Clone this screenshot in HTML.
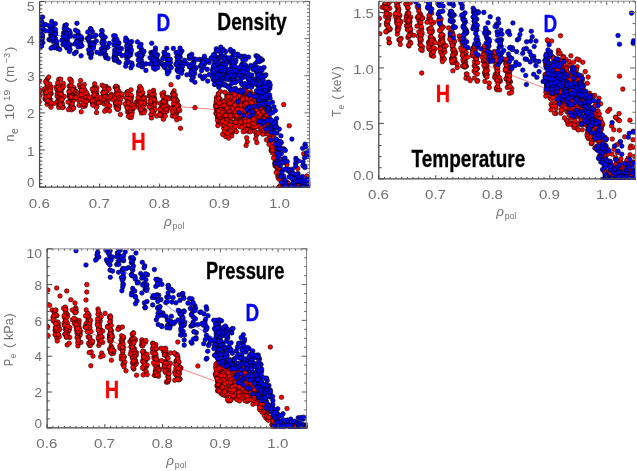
<!DOCTYPE html>
<html><head><meta charset="utf-8"><title>Profiles</title><style>html,body{margin:0;padding:0;background:#fff}
body{width:637px;height:471px;overflow:hidden;font-family:"Liberation Sans",sans-serif}
svg{display:block;will-change:transform}
text{font-family:"Liberation Sans",sans-serif}
.tk{font-size:13.5px;fill:#707070}
.bd{font-size:24px;font-weight:bold;fill:#000;stroke:#000;stroke-width:0.3px}
.bl{fill:#0000ff;stroke:#0000ff}
.rd{fill:#ff0000;stroke:#ff0000}
.r circle{fill:#ff0000;stroke:#000;stroke-width:0.55}
.b circle{fill:#0000ff;stroke:#000;stroke-width:0.55}
</style></head><body><svg width="637" height="471" viewBox="0 0 637 471">
<rect width="637" height="471" fill="#fff"/>
<clipPath id="c1"><rect x="39.60" y="1.50" width="270.60" height="186.20"/></clipPath>
<g clip-path="url(#c1)">
<path d="M39.6 92.1L177.6 106.5L219.7 109.9L249.7 112.9" stroke="#ff3030" stroke-width="0.8" fill="none" opacity="0.75"/>
<g class="r"><circle cx="151.1" cy="99.3" r="2.3"/><circle cx="244.3" cy="95.9" r="2.3"/><circle cx="149.0" cy="95.9" r="2.3"/><circle cx="76.1" cy="91.5" r="2.3"/><circle cx="163.6" cy="96.5" r="2.3"/><circle cx="231.9" cy="98.1" r="2.3"/><circle cx="265.7" cy="122.6" r="2.3"/><circle cx="106.3" cy="97.2" r="2.3"/><circle cx="258.7" cy="114.3" r="2.3"/><circle cx="277.2" cy="163.6" r="2.3"/><circle cx="230.8" cy="89.6" r="2.3"/><circle cx="80.4" cy="86.8" r="2.3"/><circle cx="152.3" cy="95.7" r="2.3"/><circle cx="234.8" cy="115.1" r="2.3"/><circle cx="218.3" cy="106.6" r="2.3"/><circle cx="269.5" cy="133.0" r="2.3"/><circle cx="70.7" cy="85.5" r="2.3"/><circle cx="100.9" cy="102.5" r="2.3"/><circle cx="92.3" cy="102.4" r="2.3"/><circle cx="225.6" cy="114.7" r="2.3"/><circle cx="174.7" cy="111.8" r="2.3"/><circle cx="233.9" cy="122.4" r="2.3"/><circle cx="59.6" cy="96.3" r="2.3"/><circle cx="271.3" cy="150.2" r="2.3"/><circle cx="57.9" cy="93.6" r="2.3"/><circle cx="234.7" cy="111.9" r="2.3"/><circle cx="107.5" cy="96.8" r="2.3"/><circle cx="173.6" cy="107.0" r="2.3"/><circle cx="61.0" cy="100.8" r="2.3"/><circle cx="80.6" cy="80.5" r="2.3"/><circle cx="236.5" cy="103.3" r="2.3"/><circle cx="115.7" cy="102.2" r="2.3"/><circle cx="81.5" cy="95.0" r="2.3"/><circle cx="260.7" cy="109.1" r="2.3"/><circle cx="152.4" cy="110.7" r="2.3"/><circle cx="103.3" cy="98.5" r="2.3"/><circle cx="269.0" cy="133.7" r="2.3"/><circle cx="87.7" cy="95.1" r="2.3"/><circle cx="278.8" cy="175.8" r="2.3"/><circle cx="70.6" cy="106.6" r="2.3"/><circle cx="249.6" cy="120.8" r="2.3"/><circle cx="178.8" cy="105.8" r="2.3"/><circle cx="173.2" cy="96.2" r="2.3"/><circle cx="246.2" cy="106.7" r="2.3"/><circle cx="45.6" cy="91.5" r="2.3"/><circle cx="307.7" cy="185.9" r="2.3"/><circle cx="234.6" cy="103.1" r="2.3"/><circle cx="140.3" cy="88.7" r="2.3"/><circle cx="60.2" cy="101.0" r="2.3"/><circle cx="48.0" cy="90.2" r="2.3"/><circle cx="120.8" cy="93.8" r="2.3"/><circle cx="247.8" cy="113.6" r="2.3"/><circle cx="250.3" cy="123.9" r="2.3"/><circle cx="150.7" cy="107.7" r="2.3"/><circle cx="138.6" cy="106.1" r="2.3"/><circle cx="57.8" cy="90.3" r="2.3"/><circle cx="62.5" cy="85.9" r="2.3"/><circle cx="259.4" cy="118.2" r="2.3"/><circle cx="153.3" cy="105.7" r="2.3"/><circle cx="151.5" cy="117.9" r="2.3"/><circle cx="58.8" cy="79.3" r="2.3"/><circle cx="225.8" cy="109.9" r="2.3"/><circle cx="144.6" cy="104.0" r="2.3"/><circle cx="224.0" cy="115.5" r="2.3"/><circle cx="129.1" cy="101.2" r="2.3"/><circle cx="152.5" cy="100.2" r="2.3"/><circle cx="246.3" cy="119.2" r="2.3"/><circle cx="248.7" cy="131.5" r="2.3"/><circle cx="253.4" cy="122.4" r="2.3"/><circle cx="195.0" cy="107.6" r="2.3"/><circle cx="236.5" cy="117.9" r="2.3"/><circle cx="174.9" cy="105.3" r="2.3"/><circle cx="237.0" cy="90.9" r="2.3"/><circle cx="223.8" cy="128.2" r="2.3"/><circle cx="219.3" cy="107.6" r="2.3"/><circle cx="176.8" cy="106.3" r="2.3"/><circle cx="81.0" cy="95.2" r="2.3"/><circle cx="273.7" cy="139.4" r="2.3"/><circle cx="74.8" cy="93.2" r="2.3"/><circle cx="222.3" cy="103.7" r="2.3"/><circle cx="216.4" cy="109.1" r="2.3"/><circle cx="256.1" cy="108.7" r="2.3"/><circle cx="236.5" cy="114.7" r="2.3"/><circle cx="164.7" cy="104.5" r="2.3"/><circle cx="45.1" cy="90.1" r="2.3"/><circle cx="56.3" cy="86.8" r="2.3"/><circle cx="229.0" cy="96.0" r="2.3"/><circle cx="273.8" cy="139.1" r="2.3"/><circle cx="262.9" cy="117.7" r="2.3"/><circle cx="233.0" cy="98.6" r="2.3"/><circle cx="244.2" cy="115.0" r="2.3"/><circle cx="243.7" cy="110.8" r="2.3"/><circle cx="175.4" cy="106.6" r="2.3"/><circle cx="222.5" cy="120.2" r="2.3"/><circle cx="107.1" cy="109.5" r="2.3"/><circle cx="139.7" cy="87.2" r="2.3"/><circle cx="224.5" cy="109.3" r="2.3"/><circle cx="130.1" cy="97.5" r="2.3"/><circle cx="105.6" cy="99.4" r="2.3"/><circle cx="116.6" cy="97.8" r="2.3"/><circle cx="232.6" cy="132.2" r="2.3"/><circle cx="277.2" cy="153.4" r="2.3"/><circle cx="107.1" cy="102.7" r="2.3"/><circle cx="96.9" cy="99.1" r="2.3"/><circle cx="217.7" cy="113.3" r="2.3"/><circle cx="220.1" cy="113.3" r="2.3"/><circle cx="230.1" cy="101.5" r="2.3"/><circle cx="131.6" cy="110.1" r="2.3"/><circle cx="82.2" cy="97.5" r="2.3"/><circle cx="142.6" cy="93.2" r="2.3"/><circle cx="70.7" cy="80.1" r="2.3"/><circle cx="151.7" cy="104.0" r="2.3"/><circle cx="139.1" cy="103.0" r="2.3"/><circle cx="286.9" cy="164.8" r="2.3"/><circle cx="224.9" cy="114.7" r="2.3"/><circle cx="248.8" cy="116.4" r="2.3"/><circle cx="256.7" cy="134.0" r="2.3"/><circle cx="215.9" cy="104.5" r="2.3"/><circle cx="117.6" cy="87.1" r="2.3"/><circle cx="235.4" cy="97.9" r="2.3"/><circle cx="244.5" cy="128.6" r="2.3"/><circle cx="176.2" cy="102.9" r="2.3"/><circle cx="139.0" cy="91.6" r="2.3"/><circle cx="225.5" cy="102.5" r="2.3"/><circle cx="176.7" cy="119.8" r="2.3"/><circle cx="151.3" cy="95.0" r="2.3"/><circle cx="46.0" cy="92.0" r="2.3"/><circle cx="244.9" cy="116.3" r="2.3"/><circle cx="59.1" cy="94.0" r="2.3"/><circle cx="253.3" cy="103.0" r="2.3"/><circle cx="132.5" cy="104.9" r="2.3"/><circle cx="131.1" cy="96.9" r="2.3"/><circle cx="82.2" cy="86.9" r="2.3"/><circle cx="164.6" cy="112.0" r="2.3"/><circle cx="151.8" cy="101.0" r="2.3"/><circle cx="128.9" cy="108.0" r="2.3"/><circle cx="218.1" cy="100.6" r="2.3"/><circle cx="48.5" cy="91.5" r="2.3"/><circle cx="229.3" cy="97.7" r="2.3"/><circle cx="116.1" cy="106.5" r="2.3"/><circle cx="163.7" cy="107.1" r="2.3"/><circle cx="241.2" cy="108.8" r="2.3"/><circle cx="231.7" cy="135.9" r="2.3"/><circle cx="252.5" cy="104.6" r="2.3"/><circle cx="227.4" cy="122.5" r="2.3"/><circle cx="225.7" cy="136.6" r="2.3"/><circle cx="139.0" cy="91.6" r="2.3"/><circle cx="299.0" cy="182.7" r="2.3"/><circle cx="151.9" cy="107.5" r="2.3"/><circle cx="251.6" cy="116.5" r="2.3"/><circle cx="131.8" cy="105.3" r="2.3"/><circle cx="224.0" cy="112.6" r="2.3"/><circle cx="80.7" cy="96.1" r="2.3"/><circle cx="238.6" cy="124.4" r="2.3"/><circle cx="262.4" cy="114.0" r="2.3"/><circle cx="248.8" cy="113.7" r="2.3"/><circle cx="265.7" cy="133.8" r="2.3"/><circle cx="225.8" cy="120.3" r="2.3"/><circle cx="163.9" cy="103.2" r="2.3"/><circle cx="118.4" cy="97.8" r="2.3"/><circle cx="78.2" cy="96.9" r="2.3"/><circle cx="165.3" cy="107.9" r="2.3"/><circle cx="258.0" cy="125.6" r="2.3"/><circle cx="226.4" cy="104.8" r="2.3"/><circle cx="223.7" cy="110.9" r="2.3"/><circle cx="243.1" cy="120.7" r="2.3"/><circle cx="238.5" cy="104.8" r="2.3"/><circle cx="259.4" cy="113.7" r="2.3"/><circle cx="226.1" cy="104.6" r="2.3"/><circle cx="218.5" cy="104.3" r="2.3"/><circle cx="87.6" cy="100.2" r="2.3"/><circle cx="264.3" cy="117.1" r="2.3"/><circle cx="62.2" cy="88.8" r="2.3"/><circle cx="216.1" cy="113.3" r="2.3"/><circle cx="45.0" cy="99.0" r="2.3"/><circle cx="278.9" cy="177.9" r="2.3"/><circle cx="70.6" cy="79.7" r="2.3"/><circle cx="154.7" cy="102.8" r="2.3"/><circle cx="130.0" cy="101.6" r="2.3"/><circle cx="60.6" cy="106.4" r="2.3"/><circle cx="84.3" cy="84.5" r="2.3"/><circle cx="142.0" cy="103.2" r="2.3"/><circle cx="47.2" cy="91.6" r="2.3"/><circle cx="85.0" cy="106.1" r="2.3"/><circle cx="139.2" cy="106.8" r="2.3"/><circle cx="272.2" cy="138.3" r="2.3"/><circle cx="255.1" cy="116.7" r="2.3"/><circle cx="245.7" cy="118.4" r="2.3"/><circle cx="53.6" cy="103.6" r="2.3"/><circle cx="259.8" cy="102.3" r="2.3"/><circle cx="167.9" cy="97.3" r="2.3"/><circle cx="56.6" cy="88.7" r="2.3"/><circle cx="166.3" cy="99.0" r="2.3"/><circle cx="253.4" cy="124.0" r="2.3"/><circle cx="224.8" cy="122.8" r="2.3"/><circle cx="69.5" cy="95.3" r="2.3"/><circle cx="256.1" cy="109.4" r="2.3"/><circle cx="128.2" cy="102.0" r="2.3"/><circle cx="105.9" cy="100.0" r="2.3"/><circle cx="274.5" cy="151.2" r="2.3"/><circle cx="264.5" cy="124.6" r="2.3"/><circle cx="96.5" cy="94.8" r="2.3"/><circle cx="47.7" cy="86.2" r="2.3"/><circle cx="106.8" cy="90.7" r="2.3"/><circle cx="251.9" cy="118.1" r="2.3"/><circle cx="129.7" cy="103.0" r="2.3"/><circle cx="277.7" cy="162.9" r="2.3"/><circle cx="227.1" cy="113.1" r="2.3"/><circle cx="275.6" cy="161.6" r="2.3"/><circle cx="140.7" cy="100.1" r="2.3"/><circle cx="269.2" cy="132.9" r="2.3"/><circle cx="227.4" cy="102.2" r="2.3"/><circle cx="239.4" cy="96.3" r="2.3"/><circle cx="274.8" cy="163.1" r="2.3"/><circle cx="70.6" cy="89.8" r="2.3"/><circle cx="140.4" cy="104.3" r="2.3"/><circle cx="128.9" cy="100.0" r="2.3"/><circle cx="238.1" cy="105.8" r="2.3"/><circle cx="59.1" cy="85.0" r="2.3"/><circle cx="137.5" cy="103.9" r="2.3"/><circle cx="131.3" cy="96.8" r="2.3"/><circle cx="275.2" cy="150.1" r="2.3"/><circle cx="251.1" cy="129.9" r="2.3"/><circle cx="173.7" cy="109.9" r="2.3"/><circle cx="173.1" cy="109.6" r="2.3"/><circle cx="238.4" cy="91.9" r="2.3"/><circle cx="275.8" cy="155.0" r="2.3"/><circle cx="279.1" cy="166.9" r="2.3"/><circle cx="81.0" cy="92.7" r="2.3"/><circle cx="258.7" cy="109.9" r="2.3"/><circle cx="255.6" cy="122.5" r="2.3"/><circle cx="231.5" cy="95.7" r="2.3"/><circle cx="259.9" cy="109.7" r="2.3"/><circle cx="47.3" cy="79.1" r="2.3"/><circle cx="118.1" cy="95.0" r="2.3"/><circle cx="242.5" cy="115.6" r="2.3"/><circle cx="71.4" cy="91.4" r="2.3"/><circle cx="230.1" cy="100.2" r="2.3"/><circle cx="275.1" cy="165.9" r="2.3"/><circle cx="46.4" cy="97.0" r="2.3"/><circle cx="278.1" cy="169.9" r="2.3"/><circle cx="237.2" cy="111.1" r="2.3"/><circle cx="241.2" cy="119.5" r="2.3"/><circle cx="164.1" cy="104.3" r="2.3"/><circle cx="57.9" cy="91.3" r="2.3"/><circle cx="216.2" cy="107.5" r="2.3"/><circle cx="95.2" cy="96.9" r="2.3"/><circle cx="240.5" cy="90.1" r="2.3"/><circle cx="256.0" cy="117.5" r="2.3"/><circle cx="118.2" cy="106.7" r="2.3"/><circle cx="84.3" cy="94.0" r="2.3"/><circle cx="51.2" cy="93.5" r="2.3"/><circle cx="58.4" cy="104.9" r="2.3"/><circle cx="164.7" cy="103.6" r="2.3"/><circle cx="144.8" cy="110.5" r="2.3"/><circle cx="225.3" cy="117.8" r="2.3"/><circle cx="262.7" cy="118.7" r="2.3"/><circle cx="172.9" cy="97.6" r="2.3"/><circle cx="119.5" cy="103.0" r="2.3"/><circle cx="151.4" cy="100.1" r="2.3"/><circle cx="258.8" cy="120.7" r="2.3"/><circle cx="133.0" cy="109.1" r="2.3"/><circle cx="268.5" cy="126.8" r="2.3"/><circle cx="111.2" cy="94.4" r="2.3"/><circle cx="81.3" cy="94.9" r="2.3"/><circle cx="166.0" cy="107.1" r="2.3"/><circle cx="240.0" cy="94.6" r="2.3"/><circle cx="155.2" cy="102.3" r="2.3"/><circle cx="93.8" cy="97.6" r="2.3"/><circle cx="306.7" cy="176.0" r="2.3"/><circle cx="229.0" cy="116.9" r="2.3"/><circle cx="235.3" cy="111.1" r="2.3"/><circle cx="174.1" cy="90.8" r="2.3"/><circle cx="162.3" cy="115.4" r="2.3"/><circle cx="246.6" cy="97.6" r="2.3"/><circle cx="245.5" cy="110.3" r="2.3"/><circle cx="259.2" cy="109.2" r="2.3"/><circle cx="163.8" cy="92.5" r="2.3"/><circle cx="127.5" cy="111.9" r="2.3"/><circle cx="38.9" cy="89.9" r="2.3"/><circle cx="94.9" cy="94.5" r="2.3"/><circle cx="270.0" cy="144.2" r="2.3"/><circle cx="238.2" cy="97.2" r="2.3"/><circle cx="50.5" cy="99.8" r="2.3"/><circle cx="93.8" cy="102.8" r="2.3"/><circle cx="261.1" cy="109.3" r="2.3"/><circle cx="164.1" cy="110.8" r="2.3"/><circle cx="69.2" cy="86.1" r="2.3"/><circle cx="72.7" cy="100.4" r="2.3"/><circle cx="49.3" cy="89.4" r="2.3"/><circle cx="229.9" cy="120.6" r="2.3"/><circle cx="94.5" cy="87.2" r="2.3"/><circle cx="83.5" cy="95.8" r="2.3"/><circle cx="128.5" cy="102.8" r="2.3"/><circle cx="269.9" cy="142.6" r="2.3"/><circle cx="83.5" cy="99.2" r="2.3"/><circle cx="132.1" cy="112.3" r="2.3"/><circle cx="140.5" cy="109.9" r="2.3"/><circle cx="256.7" cy="120.7" r="2.3"/><circle cx="139.1" cy="91.1" r="2.3"/><circle cx="104.2" cy="97.7" r="2.3"/><circle cx="39.3" cy="91.3" r="2.3"/><circle cx="268.3" cy="131.7" r="2.3"/><circle cx="97.4" cy="101.6" r="2.3"/><circle cx="241.8" cy="125.5" r="2.3"/><circle cx="82.4" cy="88.1" r="2.3"/><circle cx="50.8" cy="89.8" r="2.3"/><circle cx="256.3" cy="103.0" r="2.3"/><circle cx="259.1" cy="127.1" r="2.3"/><circle cx="128.6" cy="111.4" r="2.3"/><circle cx="49.0" cy="103.6" r="2.3"/><circle cx="234.2" cy="92.2" r="2.3"/><circle cx="140.7" cy="96.3" r="2.3"/><circle cx="254.9" cy="121.3" r="2.3"/><circle cx="154.0" cy="110.9" r="2.3"/><circle cx="217.9" cy="106.2" r="2.3"/><circle cx="244.9" cy="131.3" r="2.3"/><circle cx="260.5" cy="102.7" r="2.3"/><circle cx="247.7" cy="129.4" r="2.3"/><circle cx="130.5" cy="104.2" r="2.3"/><circle cx="297.7" cy="168.5" r="2.3"/><circle cx="263.5" cy="104.4" r="2.3"/><circle cx="258.9" cy="119.7" r="2.3"/><circle cx="61.1" cy="102.0" r="2.3"/><circle cx="217.9" cy="106.1" r="2.3"/><circle cx="247.9" cy="120.3" r="2.3"/><circle cx="222.3" cy="108.6" r="2.3"/><circle cx="233.7" cy="124.8" r="2.3"/><circle cx="237.4" cy="109.2" r="2.3"/><circle cx="302.1" cy="184.1" r="2.3"/><circle cx="60.6" cy="79.1" r="2.3"/><circle cx="256.2" cy="106.3" r="2.3"/><circle cx="144.8" cy="103.3" r="2.3"/><circle cx="275.1" cy="164.2" r="2.3"/><circle cx="59.8" cy="101.5" r="2.3"/><circle cx="60.5" cy="101.6" r="2.3"/><circle cx="141.4" cy="99.1" r="2.3"/><circle cx="81.9" cy="87.9" r="2.3"/><circle cx="218.6" cy="123.3" r="2.3"/><circle cx="259.0" cy="125.7" r="2.3"/><circle cx="93.3" cy="102.6" r="2.3"/><circle cx="262.0" cy="102.6" r="2.3"/><circle cx="237.1" cy="120.0" r="2.3"/><circle cx="38.6" cy="94.6" r="2.3"/><circle cx="81.5" cy="94.4" r="2.3"/><circle cx="130.2" cy="110.8" r="2.3"/><circle cx="48.5" cy="100.0" r="2.3"/><circle cx="133.7" cy="105.3" r="2.3"/><circle cx="234.1" cy="115.6" r="2.3"/><circle cx="104.5" cy="102.4" r="2.3"/><circle cx="57.9" cy="95.3" r="2.3"/><circle cx="230.8" cy="102.4" r="2.3"/><circle cx="217.6" cy="117.5" r="2.3"/><circle cx="276.9" cy="149.6" r="2.3"/><circle cx="176.4" cy="115.4" r="2.3"/><circle cx="128.6" cy="98.0" r="2.3"/><circle cx="106.2" cy="96.4" r="2.3"/><circle cx="51.1" cy="86.8" r="2.3"/><circle cx="264.5" cy="119.6" r="2.3"/><circle cx="221.8" cy="111.5" r="2.3"/><circle cx="58.4" cy="92.9" r="2.3"/><circle cx="222.5" cy="118.2" r="2.3"/><circle cx="174.5" cy="111.8" r="2.3"/><circle cx="167.9" cy="106.7" r="2.3"/><circle cx="291.7" cy="174.1" r="2.3"/><circle cx="46.8" cy="88.1" r="2.3"/><circle cx="129.9" cy="107.1" r="2.3"/><circle cx="102.2" cy="85.2" r="2.3"/><circle cx="269.2" cy="137.9" r="2.3"/><circle cx="133.5" cy="107.5" r="2.3"/><circle cx="235.2" cy="109.8" r="2.3"/><circle cx="261.0" cy="113.1" r="2.3"/><circle cx="70.7" cy="101.3" r="2.3"/><circle cx="270.2" cy="130.0" r="2.3"/><circle cx="241.9" cy="103.7" r="2.3"/><circle cx="260.5" cy="107.2" r="2.3"/><circle cx="151.9" cy="109.4" r="2.3"/><circle cx="176.1" cy="99.7" r="2.3"/><circle cx="248.5" cy="107.6" r="2.3"/><circle cx="38.7" cy="100.2" r="2.3"/><circle cx="131.0" cy="98.8" r="2.3"/><circle cx="48.0" cy="95.5" r="2.3"/><circle cx="254.3" cy="128.0" r="2.3"/><circle cx="166.1" cy="98.5" r="2.3"/><circle cx="263.3" cy="114.7" r="2.3"/><circle cx="154.8" cy="104.7" r="2.3"/><circle cx="249.1" cy="97.1" r="2.3"/><circle cx="263.4" cy="113.7" r="2.3"/><circle cx="46.6" cy="92.0" r="2.3"/><circle cx="251.2" cy="111.3" r="2.3"/><circle cx="83.9" cy="95.8" r="2.3"/><circle cx="108.0" cy="107.6" r="2.3"/><circle cx="60.1" cy="92.2" r="2.3"/><circle cx="234.1" cy="108.4" r="2.3"/><circle cx="249.4" cy="108.0" r="2.3"/><circle cx="57.0" cy="96.1" r="2.3"/><circle cx="234.3" cy="100.1" r="2.3"/><circle cx="260.5" cy="126.6" r="2.3"/><circle cx="244.2" cy="99.5" r="2.3"/><circle cx="70.1" cy="86.0" r="2.3"/><circle cx="109.2" cy="97.5" r="2.3"/><circle cx="239.2" cy="94.0" r="2.3"/><circle cx="236.2" cy="112.5" r="2.3"/><circle cx="109.0" cy="99.3" r="2.3"/><circle cx="109.5" cy="110.9" r="2.3"/><circle cx="232.9" cy="101.1" r="2.3"/><circle cx="176.6" cy="104.2" r="2.3"/><circle cx="63.2" cy="107.3" r="2.3"/><circle cx="303.9" cy="186.7" r="2.3"/><circle cx="153.6" cy="90.4" r="2.3"/><circle cx="277.5" cy="170.4" r="2.3"/><circle cx="128.9" cy="96.9" r="2.3"/><circle cx="246.5" cy="115.5" r="2.3"/><circle cx="144.3" cy="103.7" r="2.3"/><circle cx="230.2" cy="103.8" r="2.3"/><circle cx="140.0" cy="98.3" r="2.3"/><circle cx="167.4" cy="107.8" r="2.3"/><circle cx="248.9" cy="95.3" r="2.3"/><circle cx="216.3" cy="112.8" r="2.3"/><circle cx="163.4" cy="119.2" r="2.3"/><circle cx="46.0" cy="92.3" r="2.3"/><circle cx="166.4" cy="109.7" r="2.3"/><circle cx="257.8" cy="116.0" r="2.3"/><circle cx="93.6" cy="97.5" r="2.3"/><circle cx="265.8" cy="103.9" r="2.3"/><circle cx="219.2" cy="120.9" r="2.3"/><circle cx="127.2" cy="107.2" r="2.3"/><circle cx="260.9" cy="122.2" r="2.3"/><circle cx="216.6" cy="114.1" r="2.3"/><circle cx="274.3" cy="149.0" r="2.3"/><circle cx="140.0" cy="86.6" r="2.3"/><circle cx="143.4" cy="105.3" r="2.3"/><circle cx="271.9" cy="129.9" r="2.3"/><circle cx="93.5" cy="102.9" r="2.3"/><circle cx="228.0" cy="108.9" r="2.3"/><circle cx="234.5" cy="122.5" r="2.3"/><circle cx="154.3" cy="99.1" r="2.3"/><circle cx="271.0" cy="134.2" r="2.3"/><circle cx="160.2" cy="103.3" r="2.3"/><circle cx="230.3" cy="106.5" r="2.3"/><circle cx="106.1" cy="91.8" r="2.3"/><circle cx="254.0" cy="122.6" r="2.3"/><circle cx="62.0" cy="99.3" r="2.3"/><circle cx="260.3" cy="131.7" r="2.3"/><circle cx="243.7" cy="123.3" r="2.3"/><circle cx="263.8" cy="112.8" r="2.3"/><circle cx="115.2" cy="87.2" r="2.3"/><circle cx="242.1" cy="109.4" r="2.3"/><circle cx="259.8" cy="115.0" r="2.3"/><circle cx="250.6" cy="101.2" r="2.3"/><circle cx="152.3" cy="91.9" r="2.3"/><circle cx="130.4" cy="111.9" r="2.3"/><circle cx="218.1" cy="102.2" r="2.3"/><circle cx="105.2" cy="86.8" r="2.3"/><circle cx="46.1" cy="99.4" r="2.3"/><circle cx="237.0" cy="115.8" r="2.3"/><circle cx="172.6" cy="107.9" r="2.3"/><circle cx="277.8" cy="176.0" r="2.3"/><circle cx="224.6" cy="109.3" r="2.3"/><circle cx="225.7" cy="127.3" r="2.3"/><circle cx="92.8" cy="89.1" r="2.3"/><circle cx="61.5" cy="93.2" r="2.3"/><circle cx="279.3" cy="175.5" r="2.3"/><circle cx="246.0" cy="119.7" r="2.3"/><circle cx="281.7" cy="176.5" r="2.3"/><circle cx="303.7" cy="153.7" r="2.3"/><circle cx="241.8" cy="110.3" r="2.3"/><circle cx="79.1" cy="105.3" r="2.3"/><circle cx="234.4" cy="109.8" r="2.3"/><circle cx="242.0" cy="110.9" r="2.3"/><circle cx="255.7" cy="95.1" r="2.3"/><circle cx="171.0" cy="84.7" r="2.3"/><circle cx="220.1" cy="123.4" r="2.3"/><circle cx="58.3" cy="87.1" r="2.3"/><circle cx="218.3" cy="93.7" r="2.3"/><circle cx="84.7" cy="101.0" r="2.3"/><circle cx="97.4" cy="98.9" r="2.3"/><circle cx="85.0" cy="90.9" r="2.3"/><circle cx="243.3" cy="116.1" r="2.3"/><circle cx="246.5" cy="98.8" r="2.3"/><circle cx="306.1" cy="185.2" r="2.3"/><circle cx="175.8" cy="102.6" r="2.3"/><circle cx="259.6" cy="125.8" r="2.3"/><circle cx="140.5" cy="95.4" r="2.3"/><circle cx="168.4" cy="98.9" r="2.3"/><circle cx="227.2" cy="98.8" r="2.3"/><circle cx="46.6" cy="98.6" r="2.3"/><circle cx="255.6" cy="126.1" r="2.3"/><circle cx="96.9" cy="97.3" r="2.3"/><circle cx="224.3" cy="100.8" r="2.3"/><circle cx="136.5" cy="102.1" r="2.3"/><circle cx="239.7" cy="126.4" r="2.3"/><circle cx="174.3" cy="113.2" r="2.3"/><circle cx="47.9" cy="86.0" r="2.3"/><circle cx="164.0" cy="102.9" r="2.3"/><circle cx="226.8" cy="111.0" r="2.3"/><circle cx="220.2" cy="109.9" r="2.3"/><circle cx="176.7" cy="109.1" r="2.3"/><circle cx="106.2" cy="86.6" r="2.3"/><circle cx="81.3" cy="88.8" r="2.3"/><circle cx="61.3" cy="100.1" r="2.3"/><circle cx="259.6" cy="119.8" r="2.3"/><circle cx="116.4" cy="101.0" r="2.3"/><circle cx="61.6" cy="101.8" r="2.3"/><circle cx="221.1" cy="112.8" r="2.3"/><circle cx="118.4" cy="109.1" r="2.3"/><circle cx="105.1" cy="94.0" r="2.3"/><circle cx="277.1" cy="160.0" r="2.3"/><circle cx="239.1" cy="99.7" r="2.3"/><circle cx="250.5" cy="91.9" r="2.3"/><circle cx="115.8" cy="94.0" r="2.3"/><circle cx="71.6" cy="109.8" r="2.3"/><circle cx="249.0" cy="125.8" r="2.3"/><circle cx="247.7" cy="95.5" r="2.3"/><circle cx="234.3" cy="129.1" r="2.3"/><circle cx="91.6" cy="101.1" r="2.3"/><circle cx="69.9" cy="97.4" r="2.3"/><circle cx="261.3" cy="104.8" r="2.3"/><circle cx="242.3" cy="116.8" r="2.3"/><circle cx="246.6" cy="115.8" r="2.3"/><circle cx="257.1" cy="110.9" r="2.3"/><circle cx="47.1" cy="83.3" r="2.3"/><circle cx="165.5" cy="106.5" r="2.3"/><circle cx="129.4" cy="103.6" r="2.3"/><circle cx="266.3" cy="123.6" r="2.3"/><circle cx="174.8" cy="100.2" r="2.3"/><circle cx="81.2" cy="111.8" r="2.3"/><circle cx="138.3" cy="107.3" r="2.3"/><circle cx="116.3" cy="107.5" r="2.3"/><circle cx="50.1" cy="92.5" r="2.3"/><circle cx="240.5" cy="92.7" r="2.3"/><circle cx="262.4" cy="130.3" r="2.3"/><circle cx="238.8" cy="121.6" r="2.3"/><circle cx="128.1" cy="103.8" r="2.3"/><circle cx="71.7" cy="106.1" r="2.3"/><circle cx="252.6" cy="127.7" r="2.3"/><circle cx="264.5" cy="128.1" r="2.3"/><circle cx="217.8" cy="125.6" r="2.3"/><circle cx="244.4" cy="102.5" r="2.3"/><circle cx="250.5" cy="130.8" r="2.3"/><circle cx="308.8" cy="183.7" r="2.3"/><circle cx="237.4" cy="116.6" r="2.3"/><circle cx="142.3" cy="109.3" r="2.3"/><circle cx="239.8" cy="101.4" r="2.3"/><circle cx="49.3" cy="98.1" r="2.3"/><circle cx="93.4" cy="91.4" r="2.3"/><circle cx="142.1" cy="105.0" r="2.3"/><circle cx="247.3" cy="141.8" r="2.3"/><circle cx="279.8" cy="175.8" r="2.3"/><circle cx="231.4" cy="109.8" r="2.3"/><circle cx="141.4" cy="113.0" r="2.3"/><circle cx="255.3" cy="116.1" r="2.3"/><circle cx="47.6" cy="91.7" r="2.3"/><circle cx="104.3" cy="104.0" r="2.3"/><circle cx="300.1" cy="179.7" r="2.3"/><circle cx="251.2" cy="108.3" r="2.3"/><circle cx="248.9" cy="105.1" r="2.3"/><circle cx="250.9" cy="119.2" r="2.3"/><circle cx="240.1" cy="116.5" r="2.3"/><circle cx="252.2" cy="126.8" r="2.3"/><circle cx="105.9" cy="109.7" r="2.3"/><circle cx="247.7" cy="109.1" r="2.3"/><circle cx="71.3" cy="97.3" r="2.3"/><circle cx="95.6" cy="103.2" r="2.3"/><circle cx="58.1" cy="93.4" r="2.3"/><circle cx="221.6" cy="109.0" r="2.3"/><circle cx="142.0" cy="107.8" r="2.3"/><circle cx="220.5" cy="104.1" r="2.3"/><circle cx="271.1" cy="124.5" r="2.3"/><circle cx="217.9" cy="117.5" r="2.3"/><circle cx="219.3" cy="115.9" r="2.3"/><circle cx="138.1" cy="101.2" r="2.3"/><circle cx="226.8" cy="106.4" r="2.3"/><circle cx="164.9" cy="101.1" r="2.3"/><circle cx="246.8" cy="99.5" r="2.3"/><circle cx="220.5" cy="91.5" r="2.3"/><circle cx="243.5" cy="95.8" r="2.3"/><circle cx="247.2" cy="97.7" r="2.3"/><circle cx="256.4" cy="135.1" r="2.3"/><circle cx="59.4" cy="103.4" r="2.3"/><circle cx="225.6" cy="126.2" r="2.3"/><circle cx="270.4" cy="140.7" r="2.3"/><circle cx="287.5" cy="182.6" r="2.3"/><circle cx="216.4" cy="97.6" r="2.3"/><circle cx="264.5" cy="105.9" r="2.3"/><circle cx="96.2" cy="93.7" r="2.3"/><circle cx="163.1" cy="100.8" r="2.3"/><circle cx="236.0" cy="110.2" r="2.3"/><circle cx="152.1" cy="94.0" r="2.3"/><circle cx="239.5" cy="115.2" r="2.3"/><circle cx="223.9" cy="125.5" r="2.3"/><circle cx="38.9" cy="102.6" r="2.3"/><circle cx="49.5" cy="95.7" r="2.3"/><circle cx="275.4" cy="149.6" r="2.3"/><circle cx="237.9" cy="102.6" r="2.3"/><circle cx="174.6" cy="100.9" r="2.3"/><circle cx="221.3" cy="114.9" r="2.3"/><circle cx="104.3" cy="86.9" r="2.3"/><circle cx="171.5" cy="108.9" r="2.3"/><circle cx="79.5" cy="85.0" r="2.3"/><circle cx="163.8" cy="96.0" r="2.3"/><circle cx="275.1" cy="146.5" r="2.3"/><circle cx="266.5" cy="139.9" r="2.3"/><circle cx="271.3" cy="150.7" r="2.3"/><circle cx="247.9" cy="116.7" r="2.3"/><circle cx="233.6" cy="115.8" r="2.3"/><circle cx="259.4" cy="105.7" r="2.3"/><circle cx="220.6" cy="120.4" r="2.3"/><circle cx="118.5" cy="107.5" r="2.3"/><circle cx="263.0" cy="109.5" r="2.3"/><circle cx="304.0" cy="186.8" r="2.3"/><circle cx="69.7" cy="96.2" r="2.3"/><circle cx="266.0" cy="111.3" r="2.3"/><circle cx="278.8" cy="165.5" r="2.3"/><circle cx="242.8" cy="113.0" r="2.3"/><circle cx="93.3" cy="99.4" r="2.3"/><circle cx="172.9" cy="98.6" r="2.3"/><circle cx="251.9" cy="126.0" r="2.3"/><circle cx="249.8" cy="122.5" r="2.3"/><circle cx="237.3" cy="117.3" r="2.3"/><circle cx="239.1" cy="104.2" r="2.3"/><circle cx="233.6" cy="112.6" r="2.3"/><circle cx="151.5" cy="106.7" r="2.3"/><circle cx="217.5" cy="120.4" r="2.3"/><circle cx="166.9" cy="111.2" r="2.3"/><circle cx="92.9" cy="103.8" r="2.3"/><circle cx="247.0" cy="92.9" r="2.3"/><circle cx="219.9" cy="120.8" r="2.3"/><circle cx="116.2" cy="86.2" r="2.3"/><circle cx="254.1" cy="115.4" r="2.3"/><circle cx="47.1" cy="104.3" r="2.3"/><circle cx="244.2" cy="106.5" r="2.3"/><circle cx="126.9" cy="98.8" r="2.3"/><circle cx="161.8" cy="106.9" r="2.3"/><circle cx="142.2" cy="110.9" r="2.3"/><circle cx="141.4" cy="88.9" r="2.3"/><circle cx="220.8" cy="119.8" r="2.3"/><circle cx="162.2" cy="110.8" r="2.3"/><circle cx="118.3" cy="100.2" r="2.3"/><circle cx="48.0" cy="98.5" r="2.3"/><circle cx="105.0" cy="90.9" r="2.3"/><circle cx="72.9" cy="95.1" r="2.3"/><circle cx="250.9" cy="103.0" r="2.3"/><circle cx="140.9" cy="103.1" r="2.3"/><circle cx="116.7" cy="101.2" r="2.3"/><circle cx="142.0" cy="105.8" r="2.3"/><circle cx="129.7" cy="109.1" r="2.3"/><circle cx="232.0" cy="131.2" r="2.3"/><circle cx="276.1" cy="155.6" r="2.3"/><circle cx="140.9" cy="101.4" r="2.3"/><circle cx="264.4" cy="113.4" r="2.3"/><circle cx="240.7" cy="105.1" r="2.3"/><circle cx="46.9" cy="92.6" r="2.3"/><circle cx="235.4" cy="116.0" r="2.3"/><circle cx="151.0" cy="101.5" r="2.3"/><circle cx="246.7" cy="115.9" r="2.3"/><circle cx="128.5" cy="95.2" r="2.3"/><circle cx="230.3" cy="122.3" r="2.3"/><circle cx="59.2" cy="102.4" r="2.3"/><circle cx="62.0" cy="96.0" r="2.3"/><circle cx="226.8" cy="96.0" r="2.3"/><circle cx="63.3" cy="83.3" r="2.3"/><circle cx="62.5" cy="104.1" r="2.3"/><circle cx="48.4" cy="88.3" r="2.3"/><circle cx="228.7" cy="138.1" r="2.3"/><circle cx="230.7" cy="101.7" r="2.3"/><circle cx="140.4" cy="105.0" r="2.3"/><circle cx="129.9" cy="106.2" r="2.3"/><circle cx="275.4" cy="144.1" r="2.3"/><circle cx="255.7" cy="138.8" r="2.3"/><circle cx="39.2" cy="80.9" r="2.3"/><circle cx="255.0" cy="109.3" r="2.3"/><circle cx="271.5" cy="142.7" r="2.3"/><circle cx="154.2" cy="97.5" r="2.3"/><circle cx="240.7" cy="122.1" r="2.3"/><circle cx="46.3" cy="80.9" r="2.3"/><circle cx="230.5" cy="94.6" r="2.3"/><circle cx="49.8" cy="88.1" r="2.3"/><circle cx="175.6" cy="98.3" r="2.3"/><circle cx="248.6" cy="93.5" r="2.3"/><circle cx="274.9" cy="156.2" r="2.3"/><circle cx="257.2" cy="120.0" r="2.3"/><circle cx="151.0" cy="105.2" r="2.3"/><circle cx="236.6" cy="99.8" r="2.3"/><circle cx="84.7" cy="90.6" r="2.3"/><circle cx="229.3" cy="99.8" r="2.3"/><circle cx="116.2" cy="100.4" r="2.3"/><circle cx="244.8" cy="99.6" r="2.3"/><circle cx="227.5" cy="110.8" r="2.3"/><circle cx="117.8" cy="106.3" r="2.3"/><circle cx="40.3" cy="90.7" r="2.3"/><circle cx="236.0" cy="118.2" r="2.3"/><circle cx="64.3" cy="96.6" r="2.3"/><circle cx="221.1" cy="102.1" r="2.3"/><circle cx="72.4" cy="89.5" r="2.3"/><circle cx="172.9" cy="93.3" r="2.3"/><circle cx="115.9" cy="95.8" r="2.3"/><circle cx="255.6" cy="109.1" r="2.3"/><circle cx="116.5" cy="105.1" r="2.3"/><circle cx="73.0" cy="99.4" r="2.3"/><circle cx="216.2" cy="105.1" r="2.3"/><circle cx="271.6" cy="147.2" r="2.3"/><circle cx="262.1" cy="114.5" r="2.3"/><circle cx="165.8" cy="106.5" r="2.3"/><circle cx="104.5" cy="90.1" r="2.3"/><circle cx="226.4" cy="122.8" r="2.3"/><circle cx="262.1" cy="114.2" r="2.3"/><circle cx="276.2" cy="160.6" r="2.3"/><circle cx="243.3" cy="117.0" r="2.3"/><circle cx="234.6" cy="105.8" r="2.3"/><circle cx="63.4" cy="86.6" r="2.3"/><circle cx="255.9" cy="117.5" r="2.3"/><circle cx="217.8" cy="102.2" r="2.3"/><circle cx="223.0" cy="111.5" r="2.3"/><circle cx="233.5" cy="114.8" r="2.3"/><circle cx="180.5" cy="128.3" r="2.3"/><circle cx="161.0" cy="107.7" r="2.3"/><circle cx="251.5" cy="121.3" r="2.3"/><circle cx="48.3" cy="99.2" r="2.3"/><circle cx="221.2" cy="104.6" r="2.3"/><circle cx="239.1" cy="105.4" r="2.3"/><circle cx="126.6" cy="97.5" r="2.3"/><circle cx="142.6" cy="92.6" r="2.3"/><circle cx="165.8" cy="98.0" r="2.3"/><circle cx="221.3" cy="124.0" r="2.3"/><circle cx="245.5" cy="124.9" r="2.3"/><circle cx="239.2" cy="126.0" r="2.3"/><circle cx="60.2" cy="93.7" r="2.3"/><circle cx="255.1" cy="118.9" r="2.3"/><circle cx="226.3" cy="130.0" r="2.3"/><circle cx="245.0" cy="92.5" r="2.3"/><circle cx="70.5" cy="98.4" r="2.3"/><circle cx="263.6" cy="118.2" r="2.3"/><circle cx="225.2" cy="116.1" r="2.3"/><circle cx="229.2" cy="110.4" r="2.3"/><circle cx="83.0" cy="98.7" r="2.3"/><circle cx="115.6" cy="103.5" r="2.3"/><circle cx="265.3" cy="117.1" r="2.3"/><circle cx="144.5" cy="97.6" r="2.3"/><circle cx="176.9" cy="112.2" r="2.3"/><circle cx="139.0" cy="102.4" r="2.3"/><circle cx="106.7" cy="103.1" r="2.3"/><circle cx="45.0" cy="93.9" r="2.3"/><circle cx="272.4" cy="152.7" r="2.3"/><circle cx="71.4" cy="96.1" r="2.3"/><circle cx="78.7" cy="100.6" r="2.3"/><circle cx="94.7" cy="83.9" r="2.3"/><circle cx="103.1" cy="96.3" r="2.3"/><circle cx="47.6" cy="92.7" r="2.3"/><circle cx="273.4" cy="135.3" r="2.3"/><circle cx="113.2" cy="99.8" r="2.3"/><circle cx="80.4" cy="87.2" r="2.3"/><circle cx="172.7" cy="99.0" r="2.3"/><circle cx="236.4" cy="131.6" r="2.3"/><circle cx="276.7" cy="167.1" r="2.3"/><circle cx="269.0" cy="118.3" r="2.3"/><circle cx="117.3" cy="109.2" r="2.3"/><circle cx="85.5" cy="104.2" r="2.3"/><circle cx="72.1" cy="97.3" r="2.3"/><circle cx="143.8" cy="100.2" r="2.3"/><circle cx="58.7" cy="98.7" r="2.3"/><circle cx="69.3" cy="102.2" r="2.3"/><circle cx="85.2" cy="97.0" r="2.3"/><circle cx="253.2" cy="104.4" r="2.3"/><circle cx="116.0" cy="104.0" r="2.3"/><circle cx="49.6" cy="84.0" r="2.3"/><circle cx="58.8" cy="107.5" r="2.3"/><circle cx="179.8" cy="118.5" r="2.3"/><circle cx="256.1" cy="109.1" r="2.3"/><circle cx="260.4" cy="122.4" r="2.3"/><circle cx="223.9" cy="102.2" r="2.3"/><circle cx="60.0" cy="101.5" r="2.3"/><circle cx="95.2" cy="100.3" r="2.3"/><circle cx="130.2" cy="110.9" r="2.3"/><circle cx="229.0" cy="102.1" r="2.3"/><circle cx="220.0" cy="98.7" r="2.3"/><circle cx="79.9" cy="99.1" r="2.3"/><circle cx="44.3" cy="89.0" r="2.3"/><circle cx="216.8" cy="103.5" r="2.3"/><circle cx="96.9" cy="87.8" r="2.3"/><circle cx="249.3" cy="107.4" r="2.3"/><circle cx="104.7" cy="111.2" r="2.3"/><circle cx="247.1" cy="109.4" r="2.3"/><circle cx="163.1" cy="109.1" r="2.3"/><circle cx="227.6" cy="94.0" r="2.3"/><circle cx="73.3" cy="100.5" r="2.3"/><circle cx="265.9" cy="109.2" r="2.3"/><circle cx="236.8" cy="118.8" r="2.3"/><circle cx="93.6" cy="96.0" r="2.3"/><circle cx="165.1" cy="106.4" r="2.3"/><circle cx="268.5" cy="113.1" r="2.3"/><circle cx="116.1" cy="103.3" r="2.3"/><circle cx="255.9" cy="112.8" r="2.3"/><circle cx="262.8" cy="134.2" r="2.3"/><circle cx="49.0" cy="92.6" r="2.3"/><circle cx="228.3" cy="95.3" r="2.3"/><circle cx="57.7" cy="82.8" r="2.3"/><circle cx="48.8" cy="97.1" r="2.3"/><circle cx="231.2" cy="113.2" r="2.3"/><circle cx="60.9" cy="100.9" r="2.3"/><circle cx="57.1" cy="101.6" r="2.3"/><circle cx="264.5" cy="119.4" r="2.3"/><circle cx="173.4" cy="114.2" r="2.3"/><circle cx="248.4" cy="108.0" r="2.3"/><circle cx="69.1" cy="91.7" r="2.3"/><circle cx="219.5" cy="117.4" r="2.3"/><circle cx="216.3" cy="106.4" r="2.3"/><circle cx="268.3" cy="133.9" r="2.3"/><circle cx="215.9" cy="106.4" r="2.3"/><circle cx="68.5" cy="109.6" r="2.3"/><circle cx="59.2" cy="100.5" r="2.3"/><circle cx="47.5" cy="101.6" r="2.3"/><circle cx="47.3" cy="89.0" r="2.3"/><circle cx="283.7" cy="104.6" r="2.3"/><circle cx="150.1" cy="96.3" r="2.3"/><circle cx="116.5" cy="88.5" r="2.3"/><circle cx="283.4" cy="180.7" r="2.3"/><circle cx="72.3" cy="103.9" r="2.3"/><circle cx="73.5" cy="89.6" r="2.3"/><circle cx="252.7" cy="110.2" r="2.3"/><circle cx="275.6" cy="155.2" r="2.3"/><circle cx="264.5" cy="109.6" r="2.3"/><circle cx="176.6" cy="107.6" r="2.3"/><circle cx="106.4" cy="96.9" r="2.3"/><circle cx="176.0" cy="104.5" r="2.3"/><circle cx="250.9" cy="114.3" r="2.3"/><circle cx="218.0" cy="100.7" r="2.3"/><circle cx="59.7" cy="100.2" r="2.3"/><circle cx="259.1" cy="116.3" r="2.3"/><circle cx="254.8" cy="98.8" r="2.3"/><circle cx="230.9" cy="115.6" r="2.3"/><circle cx="149.2" cy="106.8" r="2.3"/><circle cx="68.1" cy="102.0" r="2.3"/><circle cx="242.8" cy="116.4" r="2.3"/><circle cx="269.1" cy="116.2" r="2.3"/><circle cx="237.7" cy="111.6" r="2.3"/><circle cx="257.9" cy="111.6" r="2.3"/><circle cx="62.3" cy="107.5" r="2.3"/><circle cx="271.6" cy="150.1" r="2.3"/><circle cx="165.1" cy="109.5" r="2.3"/><circle cx="107.5" cy="105.1" r="2.3"/><circle cx="138.5" cy="93.8" r="2.3"/><circle cx="241.4" cy="107.9" r="2.3"/><circle cx="178.4" cy="109.9" r="2.3"/><circle cx="233.9" cy="99.6" r="2.3"/><circle cx="282.4" cy="179.9" r="2.3"/><circle cx="73.3" cy="96.6" r="2.3"/><circle cx="241.7" cy="127.3" r="2.3"/><circle cx="127.0" cy="92.0" r="2.3"/><circle cx="231.7" cy="110.2" r="2.3"/><circle cx="127.0" cy="93.1" r="2.3"/><circle cx="107.5" cy="97.5" r="2.3"/><circle cx="39.8" cy="95.5" r="2.3"/><circle cx="254.6" cy="131.5" r="2.3"/><circle cx="227.6" cy="112.0" r="2.3"/><circle cx="299.0" cy="185.8" r="2.3"/><circle cx="222.7" cy="134.4" r="2.3"/><circle cx="285.7" cy="185.3" r="2.3"/><circle cx="264.6" cy="114.2" r="2.3"/><circle cx="239.7" cy="109.7" r="2.3"/><circle cx="117.7" cy="92.1" r="2.3"/><circle cx="266.8" cy="114.8" r="2.3"/><circle cx="86.5" cy="92.7" r="2.3"/><circle cx="232.3" cy="109.9" r="2.3"/><circle cx="255.5" cy="126.7" r="2.3"/><circle cx="248.7" cy="99.9" r="2.3"/><circle cx="82.8" cy="106.4" r="2.3"/><circle cx="87.1" cy="100.5" r="2.3"/><circle cx="116.9" cy="90.7" r="2.3"/><circle cx="273.0" cy="144.0" r="2.3"/><circle cx="50.9" cy="107.2" r="2.3"/><circle cx="161.9" cy="93.7" r="2.3"/><circle cx="72.3" cy="94.6" r="2.3"/><circle cx="117.9" cy="94.1" r="2.3"/><circle cx="130.4" cy="99.1" r="2.3"/><circle cx="233.4" cy="109.2" r="2.3"/><circle cx="118.7" cy="91.1" r="2.3"/><circle cx="263.5" cy="113.1" r="2.3"/><circle cx="164.2" cy="107.9" r="2.3"/><circle cx="250.1" cy="125.1" r="2.3"/><circle cx="225.8" cy="110.3" r="2.3"/><circle cx="173.6" cy="110.0" r="2.3"/><circle cx="247.5" cy="97.6" r="2.3"/><circle cx="160.1" cy="113.4" r="2.3"/><circle cx="221.5" cy="104.9" r="2.3"/><circle cx="103.3" cy="99.0" r="2.3"/><circle cx="95.9" cy="99.0" r="2.3"/><circle cx="276.7" cy="150.0" r="2.3"/><circle cx="227.7" cy="110.2" r="2.3"/><circle cx="138.3" cy="99.9" r="2.3"/><circle cx="226.4" cy="115.5" r="2.3"/><circle cx="245.2" cy="97.5" r="2.3"/><circle cx="236.5" cy="91.3" r="2.3"/><circle cx="151.3" cy="94.9" r="2.3"/><circle cx="109.7" cy="105.8" r="2.3"/><circle cx="264.8" cy="126.6" r="2.3"/><circle cx="60.6" cy="90.2" r="2.3"/><circle cx="265.1" cy="130.8" r="2.3"/><circle cx="129.9" cy="117.4" r="2.3"/><circle cx="94.7" cy="88.7" r="2.3"/><circle cx="121.6" cy="97.1" r="2.3"/><circle cx="153.5" cy="98.1" r="2.3"/><circle cx="235.5" cy="109.0" r="2.3"/><circle cx="218.3" cy="115.8" r="2.3"/><circle cx="267.4" cy="123.1" r="2.3"/><circle cx="260.6" cy="110.0" r="2.3"/><circle cx="235.4" cy="105.5" r="2.3"/><circle cx="247.4" cy="119.2" r="2.3"/><circle cx="217.4" cy="111.1" r="2.3"/><circle cx="50.2" cy="93.6" r="2.3"/><circle cx="153.1" cy="113.5" r="2.3"/><circle cx="249.8" cy="113.7" r="2.3"/><circle cx="278.8" cy="177.7" r="2.3"/><circle cx="96.7" cy="106.5" r="2.3"/><circle cx="268.1" cy="131.0" r="2.3"/><circle cx="231.5" cy="97.0" r="2.3"/><circle cx="243.1" cy="114.3" r="2.3"/><circle cx="85.4" cy="100.2" r="2.3"/><circle cx="220.7" cy="105.3" r="2.3"/><circle cx="226.8" cy="120.2" r="2.3"/><circle cx="224.5" cy="110.3" r="2.3"/><circle cx="155.2" cy="109.3" r="2.3"/><circle cx="279.5" cy="176.0" r="2.3"/><circle cx="140.3" cy="106.1" r="2.3"/><circle cx="239.0" cy="95.8" r="2.3"/><circle cx="128.3" cy="91.7" r="2.3"/><circle cx="246.5" cy="121.9" r="2.3"/><circle cx="175.6" cy="99.2" r="2.3"/><circle cx="61.4" cy="88.0" r="2.3"/><circle cx="260.2" cy="114.4" r="2.3"/><circle cx="258.6" cy="101.5" r="2.3"/><circle cx="236.6" cy="104.6" r="2.3"/><circle cx="47.2" cy="85.3" r="2.3"/><circle cx="271.7" cy="146.8" r="2.3"/><circle cx="238.7" cy="106.4" r="2.3"/><circle cx="119.7" cy="96.1" r="2.3"/><circle cx="263.1" cy="122.9" r="2.3"/><circle cx="242.9" cy="93.3" r="2.3"/><circle cx="227.7" cy="106.4" r="2.3"/><circle cx="174.7" cy="106.5" r="2.3"/><circle cx="48.8" cy="77.0" r="2.3"/><circle cx="227.6" cy="96.5" r="2.3"/><circle cx="104.0" cy="86.2" r="2.3"/><circle cx="162.6" cy="96.2" r="2.3"/><circle cx="237.2" cy="108.2" r="2.3"/><circle cx="177.3" cy="101.1" r="2.3"/><circle cx="96.4" cy="107.5" r="2.3"/><circle cx="228.6" cy="124.3" r="2.3"/><circle cx="71.3" cy="85.5" r="2.3"/><circle cx="264.5" cy="120.6" r="2.3"/><circle cx="156.8" cy="116.0" r="2.3"/><circle cx="81.5" cy="90.3" r="2.3"/><circle cx="174.6" cy="108.4" r="2.3"/><circle cx="176.8" cy="101.9" r="2.3"/><circle cx="226.9" cy="98.8" r="2.3"/><circle cx="115.1" cy="97.9" r="2.3"/><circle cx="73.0" cy="92.6" r="2.3"/><circle cx="73.4" cy="107.6" r="2.3"/><circle cx="249.6" cy="99.0" r="2.3"/><circle cx="128.4" cy="116.3" r="2.3"/><circle cx="154.3" cy="94.3" r="2.3"/><circle cx="96.6" cy="91.6" r="2.3"/><circle cx="81.6" cy="96.1" r="2.3"/><circle cx="71.6" cy="94.1" r="2.3"/><circle cx="235.6" cy="111.8" r="2.3"/><circle cx="94.7" cy="92.4" r="2.3"/><circle cx="264.2" cy="111.3" r="2.3"/><circle cx="96.6" cy="112.6" r="2.3"/><circle cx="218.3" cy="97.3" r="2.3"/><circle cx="295.8" cy="184.2" r="2.3"/><circle cx="138.6" cy="102.6" r="2.3"/><circle cx="83.5" cy="93.4" r="2.3"/><circle cx="144.9" cy="100.6" r="2.3"/><circle cx="278.1" cy="167.0" r="2.3"/><circle cx="179.7" cy="110.5" r="2.3"/><circle cx="224.6" cy="125.5" r="2.3"/><circle cx="176.7" cy="111.0" r="2.3"/><circle cx="46.5" cy="90.7" r="2.3"/><circle cx="257.9" cy="108.5" r="2.3"/><circle cx="175.1" cy="110.7" r="2.3"/><circle cx="263.5" cy="124.4" r="2.3"/><circle cx="46.2" cy="92.3" r="2.3"/><circle cx="275.3" cy="160.8" r="2.3"/><circle cx="102.9" cy="92.4" r="2.3"/><circle cx="257.8" cy="112.4" r="2.3"/><circle cx="74.0" cy="87.8" r="2.3"/><circle cx="163.9" cy="111.5" r="2.3"/><circle cx="70.2" cy="89.4" r="2.3"/><circle cx="126.7" cy="105.2" r="2.3"/><circle cx="263.3" cy="112.1" r="2.3"/><circle cx="224.5" cy="131.4" r="2.3"/><circle cx="256.9" cy="142.6" r="2.3"/><circle cx="229.3" cy="113.5" r="2.3"/><circle cx="232.7" cy="129.2" r="2.3"/><circle cx="245.7" cy="90.1" r="2.3"/><circle cx="246.7" cy="137.7" r="2.3"/><circle cx="278.1" cy="164.0" r="2.3"/><circle cx="71.8" cy="95.6" r="2.3"/><circle cx="73.8" cy="89.8" r="2.3"/><circle cx="246.3" cy="98.5" r="2.3"/><circle cx="116.7" cy="89.7" r="2.3"/><circle cx="216.1" cy="101.7" r="2.3"/><circle cx="150.9" cy="114.5" r="2.3"/><circle cx="240.4" cy="101.9" r="2.3"/><circle cx="250.7" cy="122.4" r="2.3"/><circle cx="103.7" cy="94.4" r="2.3"/><circle cx="306.1" cy="185.2" r="2.3"/><circle cx="218.5" cy="94.3" r="2.3"/><circle cx="93.9" cy="100.5" r="2.3"/><circle cx="154.9" cy="100.3" r="2.3"/><circle cx="60.7" cy="99.6" r="2.3"/><circle cx="71.5" cy="81.9" r="2.3"/><circle cx="127.1" cy="94.3" r="2.3"/><circle cx="243.0" cy="98.0" r="2.3"/><circle cx="276.3" cy="162.0" r="2.3"/><circle cx="245.5" cy="110.3" r="2.3"/><circle cx="129.8" cy="104.3" r="2.3"/><circle cx="227.9" cy="115.5" r="2.3"/><circle cx="118.8" cy="96.5" r="2.3"/><circle cx="174.7" cy="108.5" r="2.3"/><circle cx="59.8" cy="104.8" r="2.3"/><circle cx="165.0" cy="109.6" r="2.3"/><circle cx="231.0" cy="117.6" r="2.3"/><circle cx="139.6" cy="99.9" r="2.3"/><circle cx="228.2" cy="127.2" r="2.3"/><circle cx="104.6" cy="89.1" r="2.3"/><circle cx="276.2" cy="165.6" r="2.3"/><circle cx="129.1" cy="108.6" r="2.3"/><circle cx="69.0" cy="91.8" r="2.3"/><circle cx="237.5" cy="109.4" r="2.3"/><circle cx="231.8" cy="102.9" r="2.3"/><circle cx="152.1" cy="111.1" r="2.3"/><circle cx="131.0" cy="89.9" r="2.3"/><circle cx="139.9" cy="94.7" r="2.3"/><circle cx="257.2" cy="132.8" r="2.3"/><circle cx="116.4" cy="94.3" r="2.3"/><circle cx="92.9" cy="105.2" r="2.3"/><circle cx="130.9" cy="100.6" r="2.3"/><circle cx="244.7" cy="118.7" r="2.3"/><circle cx="128.0" cy="101.5" r="2.3"/><circle cx="82.2" cy="86.4" r="2.3"/><circle cx="120.3" cy="99.5" r="2.3"/><circle cx="227.5" cy="133.3" r="2.3"/><circle cx="153.7" cy="98.5" r="2.3"/><circle cx="143.1" cy="106.9" r="2.3"/><circle cx="103.5" cy="93.9" r="2.3"/><circle cx="251.3" cy="97.6" r="2.3"/><circle cx="160.6" cy="115.6" r="2.3"/><circle cx="264.3" cy="123.9" r="2.3"/><circle cx="272.4" cy="150.1" r="2.3"/><circle cx="225.9" cy="127.9" r="2.3"/><circle cx="149.7" cy="92.0" r="2.3"/><circle cx="228.8" cy="101.6" r="2.3"/><circle cx="70.9" cy="98.4" r="2.3"/><circle cx="260.1" cy="100.4" r="2.3"/><circle cx="173.0" cy="97.3" r="2.3"/><circle cx="84.4" cy="89.4" r="2.3"/><circle cx="108.6" cy="88.3" r="2.3"/><circle cx="49.7" cy="90.8" r="2.3"/><circle cx="178.8" cy="109.0" r="2.3"/><circle cx="131.3" cy="117.4" r="2.3"/><circle cx="164.0" cy="101.9" r="2.3"/><circle cx="144.0" cy="103.2" r="2.3"/><circle cx="60.6" cy="101.3" r="2.3"/><circle cx="253.6" cy="123.5" r="2.3"/><circle cx="99.9" cy="97.8" r="2.3"/><circle cx="62.0" cy="99.2" r="2.3"/><circle cx="260.3" cy="103.1" r="2.3"/><circle cx="152.0" cy="94.9" r="2.3"/><circle cx="75.6" cy="97.6" r="2.3"/><circle cx="163.1" cy="105.9" r="2.3"/><circle cx="273.5" cy="158.0" r="2.3"/><circle cx="230.6" cy="115.8" r="2.3"/><circle cx="162.5" cy="104.6" r="2.3"/><circle cx="49.3" cy="102.2" r="2.3"/><circle cx="71.9" cy="97.3" r="2.3"/><circle cx="150.3" cy="103.2" r="2.3"/><circle cx="278.3" cy="177.6" r="2.3"/><circle cx="107.7" cy="97.3" r="2.3"/><circle cx="255.2" cy="120.6" r="2.3"/><circle cx="241.5" cy="109.8" r="2.3"/><circle cx="80.0" cy="95.1" r="2.3"/><circle cx="237.3" cy="117.1" r="2.3"/><circle cx="236.3" cy="97.6" r="2.3"/><circle cx="131.6" cy="104.5" r="2.3"/><circle cx="268.8" cy="126.0" r="2.3"/><circle cx="83.8" cy="104.3" r="2.3"/><circle cx="152.8" cy="98.6" r="2.3"/><circle cx="270.7" cy="128.3" r="2.3"/><circle cx="140.8" cy="100.4" r="2.3"/><circle cx="138.3" cy="104.2" r="2.3"/><circle cx="254.9" cy="114.2" r="2.3"/><circle cx="73.3" cy="108.4" r="2.3"/><circle cx="172.4" cy="116.0" r="2.3"/><circle cx="233.8" cy="101.0" r="2.3"/><circle cx="235.7" cy="125.8" r="2.3"/><circle cx="277.4" cy="161.9" r="2.3"/><circle cx="241.0" cy="105.2" r="2.3"/><circle cx="139.6" cy="102.3" r="2.3"/><circle cx="229.5" cy="103.3" r="2.3"/><circle cx="259.9" cy="108.4" r="2.3"/><circle cx="176.5" cy="101.0" r="2.3"/><circle cx="174.8" cy="116.4" r="2.3"/><circle cx="234.4" cy="98.9" r="2.3"/><circle cx="260.2" cy="108.1" r="2.3"/><circle cx="235.4" cy="122.3" r="2.3"/><circle cx="104.5" cy="95.9" r="2.3"/><circle cx="160.1" cy="109.6" r="2.3"/><circle cx="229.7" cy="124.8" r="2.3"/><circle cx="307.7" cy="184.8" r="2.3"/><circle cx="255.5" cy="94.6" r="2.3"/><circle cx="243.2" cy="131.7" r="2.3"/><circle cx="226.7" cy="109.0" r="2.3"/><circle cx="59.7" cy="93.7" r="2.3"/><circle cx="275.3" cy="163.8" r="2.3"/><circle cx="263.7" cy="119.1" r="2.3"/><circle cx="60.4" cy="104.8" r="2.3"/><circle cx="253.4" cy="106.4" r="2.3"/><circle cx="45.9" cy="97.0" r="2.3"/><circle cx="253.0" cy="119.3" r="2.3"/><circle cx="150.3" cy="102.9" r="2.3"/><circle cx="73.6" cy="90.7" r="2.3"/><circle cx="109.0" cy="89.3" r="2.3"/><circle cx="71.1" cy="97.4" r="2.3"/><circle cx="165.8" cy="103.4" r="2.3"/><circle cx="273.5" cy="138.1" r="2.3"/><circle cx="82.9" cy="87.0" r="2.3"/><circle cx="174.0" cy="108.7" r="2.3"/><circle cx="224.9" cy="92.3" r="2.3"/><circle cx="45.7" cy="81.8" r="2.3"/><circle cx="177.9" cy="104.8" r="2.3"/><circle cx="163.2" cy="102.0" r="2.3"/><circle cx="236.7" cy="102.5" r="2.3"/><circle cx="144.1" cy="112.8" r="2.3"/><circle cx="175.3" cy="94.8" r="2.3"/><circle cx="245.3" cy="110.7" r="2.3"/><circle cx="69.8" cy="79.1" r="2.3"/><circle cx="272.5" cy="142.5" r="2.3"/><circle cx="105.2" cy="92.1" r="2.3"/><circle cx="94.1" cy="91.6" r="2.3"/><circle cx="165.3" cy="116.0" r="2.3"/><circle cx="175.1" cy="103.4" r="2.3"/><circle cx="116.7" cy="101.6" r="2.3"/><circle cx="125.3" cy="104.0" r="2.3"/><circle cx="229.1" cy="110.9" r="2.3"/><circle cx="263.4" cy="122.8" r="2.3"/><circle cx="98.7" cy="102.8" r="2.3"/><circle cx="252.8" cy="106.2" r="2.3"/><circle cx="92.4" cy="100.7" r="2.3"/><circle cx="49.0" cy="96.2" r="2.3"/><circle cx="216.6" cy="100.0" r="2.3"/><circle cx="242.5" cy="98.9" r="2.3"/><circle cx="245.6" cy="121.3" r="2.3"/><circle cx="46.8" cy="83.5" r="2.3"/><circle cx="254.0" cy="118.2" r="2.3"/><circle cx="95.5" cy="89.5" r="2.3"/><circle cx="279.7" cy="168.9" r="2.3"/><circle cx="219.1" cy="103.1" r="2.3"/><circle cx="261.6" cy="127.7" r="2.3"/><circle cx="118.4" cy="107.0" r="2.3"/><circle cx="129.9" cy="98.6" r="2.3"/><circle cx="83.4" cy="100.8" r="2.3"/><circle cx="240.0" cy="116.0" r="2.3"/><circle cx="172.8" cy="93.9" r="2.3"/><circle cx="261.4" cy="122.3" r="2.3"/><circle cx="117.1" cy="94.2" r="2.3"/><circle cx="173.5" cy="103.5" r="2.3"/><circle cx="253.3" cy="119.1" r="2.3"/><circle cx="264.0" cy="130.3" r="2.3"/><circle cx="152.7" cy="100.2" r="2.3"/><circle cx="233.4" cy="93.6" r="2.3"/><circle cx="163.3" cy="106.7" r="2.3"/><circle cx="228.4" cy="107.8" r="2.3"/><circle cx="173.4" cy="98.5" r="2.3"/><circle cx="172.5" cy="112.0" r="2.3"/><circle cx="117.7" cy="109.0" r="2.3"/><circle cx="258.3" cy="107.3" r="2.3"/><circle cx="121.8" cy="94.3" r="2.3"/><circle cx="299.8" cy="181.4" r="2.3"/><circle cx="151.8" cy="98.1" r="2.3"/><circle cx="244.6" cy="104.8" r="2.3"/><circle cx="70.3" cy="97.3" r="2.3"/><circle cx="263.3" cy="111.6" r="2.3"/><circle cx="237.1" cy="116.2" r="2.3"/><circle cx="266.0" cy="124.7" r="2.3"/><circle cx="250.3" cy="131.7" r="2.3"/><circle cx="220.9" cy="121.9" r="2.3"/><circle cx="216.1" cy="106.3" r="2.3"/><circle cx="174.0" cy="94.8" r="2.3"/><circle cx="151.3" cy="99.0" r="2.3"/><circle cx="240.3" cy="115.4" r="2.3"/><circle cx="289.2" cy="125.8" r="2.3"/><circle cx="258.6" cy="105.5" r="2.3"/><circle cx="276.2" cy="172.5" r="2.3"/><circle cx="228.2" cy="96.8" r="2.3"/><circle cx="226.9" cy="107.9" r="2.3"/><circle cx="258.8" cy="120.9" r="2.3"/><circle cx="248.6" cy="124.8" r="2.3"/><circle cx="222.8" cy="111.1" r="2.3"/><circle cx="308.4" cy="184.5" r="2.3"/><circle cx="103.3" cy="92.8" r="2.3"/><circle cx="256.7" cy="109.5" r="2.3"/><circle cx="116.1" cy="102.9" r="2.3"/><circle cx="127.1" cy="107.9" r="2.3"/><circle cx="176.8" cy="105.9" r="2.3"/><circle cx="140.8" cy="109.0" r="2.3"/><circle cx="166.4" cy="109.4" r="2.3"/><circle cx="221.7" cy="112.2" r="2.3"/><circle cx="153.8" cy="99.7" r="2.3"/><circle cx="165.1" cy="105.2" r="2.3"/><circle cx="234.7" cy="94.6" r="2.3"/><circle cx="128.5" cy="103.0" r="2.3"/><circle cx="72.7" cy="89.8" r="2.3"/><circle cx="265.9" cy="104.5" r="2.3"/><circle cx="81.5" cy="90.4" r="2.3"/><circle cx="251.7" cy="102.6" r="2.3"/><circle cx="51.2" cy="102.9" r="2.3"/><circle cx="131.8" cy="114.4" r="2.3"/><circle cx="242.2" cy="115.8" r="2.3"/><circle cx="71.0" cy="97.0" r="2.3"/><circle cx="47.6" cy="100.8" r="2.3"/><circle cx="232.8" cy="108.4" r="2.3"/><circle cx="120.4" cy="114.5" r="2.3"/><circle cx="96.9" cy="95.9" r="2.3"/><circle cx="230.8" cy="130.8" r="2.3"/><circle cx="165.0" cy="102.2" r="2.3"/><circle cx="218.6" cy="110.9" r="2.3"/><circle cx="264.5" cy="125.9" r="2.3"/><circle cx="143.6" cy="98.2" r="2.3"/><circle cx="141.1" cy="102.9" r="2.3"/><circle cx="110.7" cy="95.9" r="2.3"/><circle cx="222.6" cy="121.2" r="2.3"/><circle cx="219.0" cy="115.0" r="2.3"/><circle cx="235.5" cy="126.6" r="2.3"/><circle cx="246.2" cy="103.4" r="2.3"/><circle cx="83.5" cy="104.1" r="2.3"/><circle cx="94.2" cy="94.8" r="2.3"/><circle cx="236.8" cy="115.7" r="2.3"/><circle cx="164.1" cy="101.5" r="2.3"/><circle cx="174.1" cy="100.0" r="2.3"/><circle cx="120.0" cy="103.1" r="2.3"/><circle cx="218.5" cy="98.2" r="2.3"/><circle cx="89.7" cy="97.7" r="2.3"/><circle cx="61.0" cy="94.2" r="2.3"/><circle cx="248.9" cy="120.8" r="2.3"/><circle cx="150.4" cy="101.3" r="2.3"/><circle cx="225.9" cy="122.7" r="2.3"/><circle cx="159.9" cy="114.6" r="2.3"/><circle cx="258.1" cy="133.2" r="2.3"/><circle cx="138.0" cy="97.6" r="2.3"/><circle cx="224.1" cy="105.2" r="2.3"/><circle cx="276.8" cy="148.9" r="2.3"/><circle cx="253.5" cy="94.6" r="2.3"/><circle cx="81.4" cy="94.7" r="2.3"/><circle cx="131.1" cy="95.0" r="2.3"/><circle cx="279.5" cy="167.7" r="2.3"/><circle cx="225.7" cy="115.5" r="2.3"/><circle cx="269.0" cy="144.3" r="2.3"/><circle cx="59.7" cy="89.4" r="2.3"/><circle cx="246.1" cy="145.5" r="2.3"/><circle cx="279.1" cy="179.1" r="2.3"/><circle cx="234.9" cy="105.2" r="2.3"/><circle cx="92.4" cy="89.1" r="2.3"/><circle cx="256.2" cy="96.9" r="2.3"/><circle cx="86.0" cy="101.6" r="2.3"/></g>
<path d="M39.6 31.2L193.9 66.8L219.7 68.3L249.7 72.0" stroke="#5050ff" stroke-width="0.8" fill="none" opacity="0.75"/>
<g class="b"><circle cx="277.9" cy="161.3" r="2.3"/><circle cx="79.0" cy="45.3" r="2.3"/><circle cx="114.0" cy="40.2" r="2.3"/><circle cx="267.3" cy="127.3" r="2.3"/><circle cx="221.3" cy="55.5" r="2.3"/><circle cx="142.8" cy="63.7" r="2.3"/><circle cx="213.3" cy="58.9" r="2.3"/><circle cx="264.2" cy="75.6" r="2.3"/><circle cx="42.3" cy="37.7" r="2.3"/><circle cx="255.2" cy="63.8" r="2.3"/><circle cx="129.6" cy="45.2" r="2.3"/><circle cx="216.3" cy="51.1" r="2.3"/><circle cx="50.3" cy="40.0" r="2.3"/><circle cx="89.7" cy="42.6" r="2.3"/><circle cx="54.3" cy="47.6" r="2.3"/><circle cx="165.5" cy="56.4" r="2.3"/><circle cx="189.5" cy="67.0" r="2.3"/><circle cx="223.0" cy="62.9" r="2.3"/><circle cx="233.4" cy="63.0" r="2.3"/><circle cx="309.0" cy="179.6" r="2.3"/><circle cx="49.0" cy="39.6" r="2.3"/><circle cx="168.0" cy="59.4" r="2.3"/><circle cx="253.4" cy="113.6" r="2.3"/><circle cx="262.4" cy="60.0" r="2.3"/><circle cx="265.9" cy="96.2" r="2.3"/><circle cx="275.9" cy="126.4" r="2.3"/><circle cx="41.0" cy="23.1" r="2.3"/><circle cx="272.4" cy="102.2" r="2.3"/><circle cx="105.7" cy="55.0" r="2.3"/><circle cx="63.5" cy="33.1" r="2.3"/><circle cx="81.1" cy="55.8" r="2.3"/><circle cx="259.9" cy="94.7" r="2.3"/><circle cx="159.4" cy="61.9" r="2.3"/><circle cx="52.2" cy="29.9" r="2.3"/><circle cx="219.9" cy="75.8" r="2.3"/><circle cx="53.4" cy="39.8" r="2.3"/><circle cx="191.6" cy="65.1" r="2.3"/><circle cx="282.5" cy="184.7" r="2.3"/><circle cx="179.7" cy="65.2" r="2.3"/><circle cx="232.9" cy="63.0" r="2.3"/><circle cx="243.8" cy="85.8" r="2.3"/><circle cx="306.3" cy="152.9" r="2.3"/><circle cx="303.4" cy="186.1" r="2.3"/><circle cx="307.1" cy="179.1" r="2.3"/><circle cx="222.6" cy="56.8" r="2.3"/><circle cx="298.0" cy="173.5" r="2.3"/><circle cx="90.1" cy="45.5" r="2.3"/><circle cx="221.4" cy="84.9" r="2.3"/><circle cx="179.5" cy="68.1" r="2.3"/><circle cx="214.6" cy="54.4" r="2.3"/><circle cx="180.3" cy="57.2" r="2.3"/><circle cx="223.1" cy="69.4" r="2.3"/><circle cx="248.7" cy="79.4" r="2.3"/><circle cx="258.7" cy="86.5" r="2.3"/><circle cx="169.8" cy="63.5" r="2.3"/><circle cx="273.7" cy="131.8" r="2.3"/><circle cx="255.8" cy="95.8" r="2.3"/><circle cx="177.4" cy="65.2" r="2.3"/><circle cx="63.0" cy="44.6" r="2.3"/><circle cx="180.2" cy="63.4" r="2.3"/><circle cx="194.1" cy="58.9" r="2.3"/><circle cx="275.0" cy="125.9" r="2.3"/><circle cx="275.6" cy="122.9" r="2.3"/><circle cx="263.3" cy="96.6" r="2.3"/><circle cx="115.8" cy="45.5" r="2.3"/><circle cx="126.8" cy="56.5" r="2.3"/><circle cx="131.0" cy="67.8" r="2.3"/><circle cx="118.3" cy="47.9" r="2.3"/><circle cx="164.9" cy="54.3" r="2.3"/><circle cx="152.3" cy="61.4" r="2.3"/><circle cx="277.9" cy="148.8" r="2.3"/><circle cx="166.9" cy="59.5" r="2.3"/><circle cx="127.9" cy="44.3" r="2.3"/><circle cx="77.8" cy="44.9" r="2.3"/><circle cx="145.9" cy="70.4" r="2.3"/><circle cx="91.0" cy="45.0" r="2.3"/><circle cx="89.8" cy="35.9" r="2.3"/><circle cx="270.6" cy="126.8" r="2.3"/><circle cx="137.2" cy="54.6" r="2.3"/><circle cx="122.0" cy="55.6" r="2.3"/><circle cx="302.0" cy="180.3" r="2.3"/><circle cx="209.3" cy="62.5" r="2.3"/><circle cx="284.7" cy="181.4" r="2.3"/><circle cx="42.7" cy="25.6" r="2.3"/><circle cx="262.0" cy="123.9" r="2.3"/><circle cx="67.2" cy="30.9" r="2.3"/><circle cx="261.7" cy="75.4" r="2.3"/><circle cx="90.8" cy="57.5" r="2.3"/><circle cx="273.9" cy="106.8" r="2.3"/><circle cx="179.8" cy="61.9" r="2.3"/><circle cx="268.6" cy="90.0" r="2.3"/><circle cx="242.0" cy="76.3" r="2.3"/><circle cx="75.6" cy="30.2" r="2.3"/><circle cx="262.8" cy="85.9" r="2.3"/><circle cx="220.1" cy="73.3" r="2.3"/><circle cx="265.8" cy="91.2" r="2.3"/><circle cx="79.4" cy="37.2" r="2.3"/><circle cx="263.5" cy="98.8" r="2.3"/><circle cx="232.7" cy="81.6" r="2.3"/><circle cx="262.8" cy="120.9" r="2.3"/><circle cx="153.3" cy="54.8" r="2.3"/><circle cx="305.1" cy="144.2" r="2.3"/><circle cx="261.6" cy="76.7" r="2.3"/><circle cx="114.1" cy="45.0" r="2.3"/><circle cx="80.3" cy="46.5" r="2.3"/><circle cx="115.3" cy="35.9" r="2.3"/><circle cx="114.1" cy="57.5" r="2.3"/><circle cx="90.8" cy="28.9" r="2.3"/><circle cx="199.7" cy="59.4" r="2.3"/><circle cx="243.1" cy="73.2" r="2.3"/><circle cx="291.3" cy="176.9" r="2.3"/><circle cx="52.9" cy="46.9" r="2.3"/><circle cx="233.8" cy="77.2" r="2.3"/><circle cx="87.4" cy="38.3" r="2.3"/><circle cx="213.9" cy="66.5" r="2.3"/><circle cx="263.9" cy="92.0" r="2.3"/><circle cx="141.1" cy="48.0" r="2.3"/><circle cx="180.3" cy="53.1" r="2.3"/><circle cx="156.8" cy="59.6" r="2.3"/><circle cx="67.0" cy="42.5" r="2.3"/><circle cx="115.2" cy="54.3" r="2.3"/><circle cx="141.9" cy="66.8" r="2.3"/><circle cx="293.8" cy="174.7" r="2.3"/><circle cx="217.5" cy="74.8" r="2.3"/><circle cx="155.5" cy="48.0" r="2.3"/><circle cx="181.3" cy="64.8" r="2.3"/><circle cx="155.1" cy="54.1" r="2.3"/><circle cx="242.8" cy="59.8" r="2.3"/><circle cx="238.8" cy="70.3" r="2.3"/><circle cx="220.8" cy="65.7" r="2.3"/><circle cx="259.6" cy="61.6" r="2.3"/><circle cx="288.5" cy="169.3" r="2.3"/><circle cx="231.0" cy="68.7" r="2.3"/><circle cx="141.8" cy="55.1" r="2.3"/><circle cx="303.3" cy="184.7" r="2.3"/><circle cx="291.0" cy="173.6" r="2.3"/><circle cx="214.1" cy="66.2" r="2.3"/><circle cx="52.9" cy="28.3" r="2.3"/><circle cx="265.9" cy="74.8" r="2.3"/><circle cx="225.8" cy="85.0" r="2.3"/><circle cx="280.9" cy="135.9" r="2.3"/><circle cx="241.3" cy="91.1" r="2.3"/><circle cx="222.5" cy="76.9" r="2.3"/><circle cx="289.8" cy="171.4" r="2.3"/><circle cx="189.3" cy="58.4" r="2.3"/><circle cx="57.2" cy="48.3" r="2.3"/><circle cx="222.9" cy="74.7" r="2.3"/><circle cx="264.6" cy="104.7" r="2.3"/><circle cx="193.9" cy="62.9" r="2.3"/><circle cx="41.5" cy="27.9" r="2.3"/><circle cx="142.8" cy="51.7" r="2.3"/><circle cx="260.6" cy="58.6" r="2.3"/><circle cx="231.8" cy="65.6" r="2.3"/><circle cx="222.6" cy="67.9" r="2.3"/><circle cx="89.2" cy="53.4" r="2.3"/><circle cx="139.6" cy="53.0" r="2.3"/><circle cx="232.9" cy="60.6" r="2.3"/><circle cx="90.6" cy="48.5" r="2.3"/><circle cx="262.8" cy="94.1" r="2.3"/><circle cx="275.9" cy="163.3" r="2.3"/><circle cx="193.1" cy="68.8" r="2.3"/><circle cx="268.3" cy="82.1" r="2.3"/><circle cx="66.2" cy="39.1" r="2.3"/><circle cx="291.9" cy="178.2" r="2.3"/><circle cx="213.2" cy="76.5" r="2.3"/><circle cx="42.2" cy="34.8" r="2.3"/><circle cx="153.6" cy="65.7" r="2.3"/><circle cx="302.6" cy="185.6" r="2.3"/><circle cx="250.1" cy="94.1" r="2.3"/><circle cx="49.2" cy="30.7" r="2.3"/><circle cx="215.0" cy="84.4" r="2.3"/><circle cx="80.0" cy="43.7" r="2.3"/><circle cx="126.5" cy="40.0" r="2.3"/><circle cx="154.5" cy="63.8" r="2.3"/><circle cx="278.6" cy="162.4" r="2.3"/><circle cx="52.3" cy="29.9" r="2.3"/><circle cx="78.6" cy="35.5" r="2.3"/><circle cx="240.7" cy="81.8" r="2.3"/><circle cx="216.8" cy="65.1" r="2.3"/><circle cx="228.9" cy="79.5" r="2.3"/><circle cx="242.7" cy="92.3" r="2.3"/><circle cx="216.3" cy="79.3" r="2.3"/><circle cx="219.5" cy="73.9" r="2.3"/><circle cx="300.1" cy="181.2" r="2.3"/><circle cx="214.8" cy="64.2" r="2.3"/><circle cx="170.3" cy="59.2" r="2.3"/><circle cx="190.6" cy="74.1" r="2.3"/><circle cx="170.3" cy="62.2" r="2.3"/><circle cx="177.3" cy="70.1" r="2.3"/><circle cx="118.5" cy="49.0" r="2.3"/><circle cx="126.9" cy="59.1" r="2.3"/><circle cx="259.9" cy="60.7" r="2.3"/><circle cx="304.7" cy="166.1" r="2.3"/><circle cx="227.4" cy="74.0" r="2.3"/><circle cx="267.3" cy="95.4" r="2.3"/><circle cx="65.0" cy="29.8" r="2.3"/><circle cx="57.8" cy="47.9" r="2.3"/><circle cx="53.7" cy="33.1" r="2.3"/><circle cx="151.9" cy="57.1" r="2.3"/><circle cx="231.6" cy="72.0" r="2.3"/><circle cx="260.7" cy="87.1" r="2.3"/><circle cx="78.2" cy="34.0" r="2.3"/><circle cx="41.3" cy="21.1" r="2.3"/><circle cx="217.2" cy="70.4" r="2.3"/><circle cx="118.9" cy="42.9" r="2.3"/><circle cx="283.3" cy="148.7" r="2.3"/><circle cx="268.4" cy="88.3" r="2.3"/><circle cx="252.5" cy="83.7" r="2.3"/><circle cx="229.5" cy="75.7" r="2.3"/><circle cx="216.4" cy="68.9" r="2.3"/><circle cx="213.1" cy="69.4" r="2.3"/><circle cx="300.3" cy="186.8" r="2.3"/><circle cx="214.3" cy="74.5" r="2.3"/><circle cx="224.1" cy="60.9" r="2.3"/><circle cx="235.4" cy="76.8" r="2.3"/><circle cx="233.3" cy="51.4" r="2.3"/><circle cx="256.0" cy="55.8" r="2.3"/><circle cx="125.5" cy="55.2" r="2.3"/><circle cx="168.0" cy="55.1" r="2.3"/><circle cx="131.8" cy="63.1" r="2.3"/><circle cx="294.9" cy="175.0" r="2.3"/><circle cx="42.3" cy="29.4" r="2.3"/><circle cx="259.1" cy="68.7" r="2.3"/><circle cx="40.1" cy="33.3" r="2.3"/><circle cx="268.7" cy="97.0" r="2.3"/><circle cx="214.1" cy="67.4" r="2.3"/><circle cx="130.7" cy="52.6" r="2.3"/><circle cx="68.1" cy="35.3" r="2.3"/><circle cx="252.1" cy="113.8" r="2.3"/><circle cx="51.5" cy="32.8" r="2.3"/><circle cx="296.8" cy="184.0" r="2.3"/><circle cx="263.9" cy="87.5" r="2.3"/><circle cx="114.7" cy="50.3" r="2.3"/><circle cx="173.4" cy="48.4" r="2.3"/><circle cx="41.0" cy="46.2" r="2.3"/><circle cx="178.1" cy="66.0" r="2.3"/><circle cx="271.7" cy="122.5" r="2.3"/><circle cx="155.3" cy="50.6" r="2.3"/><circle cx="248.7" cy="85.3" r="2.3"/><circle cx="61.8" cy="40.3" r="2.3"/><circle cx="261.9" cy="84.7" r="2.3"/><circle cx="214.4" cy="65.6" r="2.3"/><circle cx="230.4" cy="78.1" r="2.3"/><circle cx="300.0" cy="186.9" r="2.3"/><circle cx="154.3" cy="57.4" r="2.3"/><circle cx="127.8" cy="42.2" r="2.3"/><circle cx="295.6" cy="163.5" r="2.3"/><circle cx="269.9" cy="108.4" r="2.3"/><circle cx="79.7" cy="42.3" r="2.3"/><circle cx="249.1" cy="95.1" r="2.3"/><circle cx="282.7" cy="159.1" r="2.3"/><circle cx="164.2" cy="64.4" r="2.3"/><circle cx="129.7" cy="45.1" r="2.3"/><circle cx="279.3" cy="129.1" r="2.3"/><circle cx="94.4" cy="42.6" r="2.3"/><circle cx="42.9" cy="42.6" r="2.3"/><circle cx="225.2" cy="67.7" r="2.3"/><circle cx="220.8" cy="73.7" r="2.3"/><circle cx="257.6" cy="76.6" r="2.3"/><circle cx="285.0" cy="158.0" r="2.3"/><circle cx="250.1" cy="78.5" r="2.3"/><circle cx="294.4" cy="183.3" r="2.3"/><circle cx="186.9" cy="74.8" r="2.3"/><circle cx="117.5" cy="46.5" r="2.3"/><circle cx="217.9" cy="57.3" r="2.3"/><circle cx="266.4" cy="99.7" r="2.3"/><circle cx="217.1" cy="74.1" r="2.3"/><circle cx="283.3" cy="169.8" r="2.3"/><circle cx="141.4" cy="60.8" r="2.3"/><circle cx="54.5" cy="37.4" r="2.3"/><circle cx="257.1" cy="79.8" r="2.3"/><circle cx="226.7" cy="75.3" r="2.3"/><circle cx="241.3" cy="56.3" r="2.3"/><circle cx="259.0" cy="78.0" r="2.3"/><circle cx="281.1" cy="176.0" r="2.3"/><circle cx="263.9" cy="89.7" r="2.3"/><circle cx="130.6" cy="54.9" r="2.3"/><circle cx="178.4" cy="55.8" r="2.3"/><circle cx="116.7" cy="41.9" r="2.3"/><circle cx="235.5" cy="88.3" r="2.3"/><circle cx="107.6" cy="47.2" r="2.3"/><circle cx="283.7" cy="176.3" r="2.3"/><circle cx="77.7" cy="36.8" r="2.3"/><circle cx="256.4" cy="96.5" r="2.3"/><circle cx="102.9" cy="39.4" r="2.3"/><circle cx="213.7" cy="74.5" r="2.3"/><circle cx="191.7" cy="80.0" r="2.3"/><circle cx="218.8" cy="74.3" r="2.3"/><circle cx="105.8" cy="57.7" r="2.3"/><circle cx="272.7" cy="112.6" r="2.3"/><circle cx="64.6" cy="34.6" r="2.3"/><circle cx="275.3" cy="110.6" r="2.3"/><circle cx="45.6" cy="30.8" r="2.3"/><circle cx="247.4" cy="87.0" r="2.3"/><circle cx="228.7" cy="72.7" r="2.3"/><circle cx="181.7" cy="63.8" r="2.3"/><circle cx="257.3" cy="56.1" r="2.3"/><circle cx="223.6" cy="70.3" r="2.3"/><circle cx="130.5" cy="46.6" r="2.3"/><circle cx="234.4" cy="66.8" r="2.3"/><circle cx="64.8" cy="25.6" r="2.3"/><circle cx="249.2" cy="116.3" r="2.3"/><circle cx="66.0" cy="46.0" r="2.3"/><circle cx="265.1" cy="84.6" r="2.3"/><circle cx="215.8" cy="57.1" r="2.3"/><circle cx="281.4" cy="142.5" r="2.3"/><circle cx="118.0" cy="53.3" r="2.3"/><circle cx="261.0" cy="91.1" r="2.3"/><circle cx="191.2" cy="67.9" r="2.3"/><circle cx="169.0" cy="59.7" r="2.3"/><circle cx="272.5" cy="132.4" r="2.3"/><circle cx="181.1" cy="70.8" r="2.3"/><circle cx="158.5" cy="63.6" r="2.3"/><circle cx="266.8" cy="87.8" r="2.3"/><circle cx="108.2" cy="58.6" r="2.3"/><circle cx="240.5" cy="78.8" r="2.3"/><circle cx="230.4" cy="72.1" r="2.3"/><circle cx="164.0" cy="52.4" r="2.3"/><circle cx="262.6" cy="103.9" r="2.3"/><circle cx="121.4" cy="48.5" r="2.3"/><circle cx="107.2" cy="47.2" r="2.3"/><circle cx="217.1" cy="71.6" r="2.3"/><circle cx="128.7" cy="49.3" r="2.3"/><circle cx="161.6" cy="63.8" r="2.3"/><circle cx="56.7" cy="44.5" r="2.3"/><circle cx="295.9" cy="158.4" r="2.3"/><circle cx="264.6" cy="104.9" r="2.3"/><circle cx="202.6" cy="60.7" r="2.3"/><circle cx="150.1" cy="57.8" r="2.3"/><circle cx="261.2" cy="101.4" r="2.3"/><circle cx="141.0" cy="44.3" r="2.3"/><circle cx="217.3" cy="65.8" r="2.3"/><circle cx="40.8" cy="42.4" r="2.3"/><circle cx="38.9" cy="29.5" r="2.3"/><circle cx="102.4" cy="43.5" r="2.3"/><circle cx="220.0" cy="70.0" r="2.3"/><circle cx="288.3" cy="170.9" r="2.3"/><circle cx="38.8" cy="33.3" r="2.3"/><circle cx="251.7" cy="87.0" r="2.3"/><circle cx="55.4" cy="38.8" r="2.3"/><circle cx="219.1" cy="73.1" r="2.3"/><circle cx="126.2" cy="63.2" r="2.3"/><circle cx="278.9" cy="149.8" r="2.3"/><circle cx="257.8" cy="106.7" r="2.3"/><circle cx="169.0" cy="71.6" r="2.3"/><circle cx="150.9" cy="52.6" r="2.3"/><circle cx="141.7" cy="51.3" r="2.3"/><circle cx="253.2" cy="69.4" r="2.3"/><circle cx="250.8" cy="84.3" r="2.3"/><circle cx="253.6" cy="83.6" r="2.3"/><circle cx="64.5" cy="33.8" r="2.3"/><circle cx="242.3" cy="90.2" r="2.3"/><circle cx="245.9" cy="68.2" r="2.3"/><circle cx="297.2" cy="185.6" r="2.3"/><circle cx="219.8" cy="58.1" r="2.3"/><circle cx="153.0" cy="52.0" r="2.3"/><circle cx="152.4" cy="53.7" r="2.3"/><circle cx="56.0" cy="45.6" r="2.3"/><circle cx="164.2" cy="56.7" r="2.3"/><circle cx="307.3" cy="186.1" r="2.3"/><circle cx="74.6" cy="36.2" r="2.3"/><circle cx="240.7" cy="69.4" r="2.3"/><circle cx="189.4" cy="55.7" r="2.3"/><circle cx="102.5" cy="50.0" r="2.3"/><circle cx="242.1" cy="64.0" r="2.3"/><circle cx="225.3" cy="59.2" r="2.3"/><circle cx="259.7" cy="104.0" r="2.3"/><circle cx="267.0" cy="98.2" r="2.3"/><circle cx="155.9" cy="63.8" r="2.3"/><circle cx="245.7" cy="74.3" r="2.3"/><circle cx="78.0" cy="42.2" r="2.3"/><circle cx="176.0" cy="64.5" r="2.3"/><circle cx="41.5" cy="39.8" r="2.3"/><circle cx="64.3" cy="28.5" r="2.3"/><circle cx="222.4" cy="74.2" r="2.3"/><circle cx="220.1" cy="75.3" r="2.3"/><circle cx="231.2" cy="71.0" r="2.3"/><circle cx="263.9" cy="86.5" r="2.3"/><circle cx="146.0" cy="63.9" r="2.3"/><circle cx="127.2" cy="40.4" r="2.3"/><circle cx="247.8" cy="86.3" r="2.3"/><circle cx="67.0" cy="29.2" r="2.3"/><circle cx="248.5" cy="110.0" r="2.3"/><circle cx="280.5" cy="176.8" r="2.3"/><circle cx="66.9" cy="48.0" r="2.3"/><circle cx="216.7" cy="74.7" r="2.3"/><circle cx="215.8" cy="58.4" r="2.3"/><circle cx="225.2" cy="78.5" r="2.3"/><circle cx="217.0" cy="72.5" r="2.3"/><circle cx="128.3" cy="46.9" r="2.3"/><circle cx="244.6" cy="56.2" r="2.3"/><circle cx="128.8" cy="46.5" r="2.3"/><circle cx="222.6" cy="79.0" r="2.3"/><circle cx="128.6" cy="56.5" r="2.3"/><circle cx="309.5" cy="150.9" r="2.3"/><circle cx="42.0" cy="22.1" r="2.3"/><circle cx="76.2" cy="52.1" r="2.3"/><circle cx="295.8" cy="166.2" r="2.3"/><circle cx="266.5" cy="94.0" r="2.3"/><circle cx="194.8" cy="69.4" r="2.3"/><circle cx="41.3" cy="17.6" r="2.3"/><circle cx="207.5" cy="60.6" r="2.3"/><circle cx="257.9" cy="57.7" r="2.3"/><circle cx="247.7" cy="68.4" r="2.3"/><circle cx="259.4" cy="69.7" r="2.3"/><circle cx="154.6" cy="55.6" r="2.3"/><circle cx="101.8" cy="30.5" r="2.3"/><circle cx="269.6" cy="109.4" r="2.3"/><circle cx="114.3" cy="56.8" r="2.3"/><circle cx="102.5" cy="35.0" r="2.3"/><circle cx="262.8" cy="102.6" r="2.3"/><circle cx="194.7" cy="73.5" r="2.3"/><circle cx="222.2" cy="65.4" r="2.3"/><circle cx="230.2" cy="76.7" r="2.3"/><circle cx="218.3" cy="61.0" r="2.3"/><circle cx="218.5" cy="78.6" r="2.3"/><circle cx="252.9" cy="83.7" r="2.3"/><circle cx="266.7" cy="110.2" r="2.3"/><circle cx="153.8" cy="55.9" r="2.3"/><circle cx="81.9" cy="38.9" r="2.3"/><circle cx="128.0" cy="49.5" r="2.3"/><circle cx="219.8" cy="84.4" r="2.3"/><circle cx="218.3" cy="63.1" r="2.3"/><circle cx="92.0" cy="47.6" r="2.3"/><circle cx="281.4" cy="153.6" r="2.3"/><circle cx="202.8" cy="61.7" r="2.3"/><circle cx="54.5" cy="47.1" r="2.3"/><circle cx="125.7" cy="66.2" r="2.3"/><circle cx="230.0" cy="62.2" r="2.3"/><circle cx="113.6" cy="35.8" r="2.3"/><circle cx="241.8" cy="84.3" r="2.3"/><circle cx="222.8" cy="57.0" r="2.3"/><circle cx="230.0" cy="85.7" r="2.3"/><circle cx="269.4" cy="119.1" r="2.3"/><circle cx="226.6" cy="79.3" r="2.3"/><circle cx="200.1" cy="75.7" r="2.3"/><circle cx="262.8" cy="97.2" r="2.3"/><circle cx="79.4" cy="44.5" r="2.3"/><circle cx="268.4" cy="111.4" r="2.3"/><circle cx="219.4" cy="76.5" r="2.3"/><circle cx="223.9" cy="83.9" r="2.3"/><circle cx="42.8" cy="28.5" r="2.3"/><circle cx="42.3" cy="26.0" r="2.3"/><circle cx="100.2" cy="53.8" r="2.3"/><circle cx="275.2" cy="127.6" r="2.3"/><circle cx="232.2" cy="57.0" r="2.3"/><circle cx="291.1" cy="172.4" r="2.3"/><circle cx="59.7" cy="49.4" r="2.3"/><circle cx="256.6" cy="72.3" r="2.3"/><circle cx="137.5" cy="41.9" r="2.3"/><circle cx="269.6" cy="94.9" r="2.3"/><circle cx="53.1" cy="25.7" r="2.3"/><circle cx="270.1" cy="98.1" r="2.3"/><circle cx="213.4" cy="68.9" r="2.3"/><circle cx="246.8" cy="109.4" r="2.3"/><circle cx="165.0" cy="67.7" r="2.3"/><circle cx="276.3" cy="126.4" r="2.3"/><circle cx="142.9" cy="53.3" r="2.3"/><circle cx="119.2" cy="62.4" r="2.3"/><circle cx="187.1" cy="63.8" r="2.3"/><circle cx="64.8" cy="39.5" r="2.3"/><circle cx="50.9" cy="39.2" r="2.3"/><circle cx="79.2" cy="44.7" r="2.3"/><circle cx="246.1" cy="65.7" r="2.3"/><circle cx="202.8" cy="61.9" r="2.3"/><circle cx="162.9" cy="58.5" r="2.3"/><circle cx="216.3" cy="74.3" r="2.3"/><circle cx="248.5" cy="73.7" r="2.3"/><circle cx="116.7" cy="53.6" r="2.3"/><circle cx="45.6" cy="24.6" r="2.3"/><circle cx="272.4" cy="126.1" r="2.3"/><circle cx="41.8" cy="37.3" r="2.3"/><circle cx="216.2" cy="71.8" r="2.3"/><circle cx="55.3" cy="23.7" r="2.3"/><circle cx="41.6" cy="46.1" r="2.3"/><circle cx="216.2" cy="74.4" r="2.3"/><circle cx="182.1" cy="70.2" r="2.3"/><circle cx="279.6" cy="149.1" r="2.3"/><circle cx="256.5" cy="90.8" r="2.3"/><circle cx="277.7" cy="157.6" r="2.3"/><circle cx="51.7" cy="21.4" r="2.3"/><circle cx="283.8" cy="162.5" r="2.3"/><circle cx="204.5" cy="62.3" r="2.3"/><circle cx="245.6" cy="59.5" r="2.3"/><circle cx="65.5" cy="42.3" r="2.3"/><circle cx="176.9" cy="57.1" r="2.3"/><circle cx="239.7" cy="90.9" r="2.3"/><circle cx="232.4" cy="76.6" r="2.3"/><circle cx="293.3" cy="178.6" r="2.3"/><circle cx="303.0" cy="162.0" r="2.3"/><circle cx="53.1" cy="39.1" r="2.3"/><circle cx="191.7" cy="65.0" r="2.3"/><circle cx="183.7" cy="63.7" r="2.3"/><circle cx="196.3" cy="67.6" r="2.3"/><circle cx="264.0" cy="122.6" r="2.3"/><circle cx="204.3" cy="64.4" r="2.3"/><circle cx="239.1" cy="112.5" r="2.3"/><circle cx="215.5" cy="67.2" r="2.3"/><circle cx="76.9" cy="23.3" r="2.3"/><circle cx="117.6" cy="61.3" r="2.3"/><circle cx="292.5" cy="178.8" r="2.3"/><circle cx="231.3" cy="51.6" r="2.3"/><circle cx="217.6" cy="70.2" r="2.3"/><circle cx="77.9" cy="31.6" r="2.3"/><circle cx="104.0" cy="47.1" r="2.3"/><circle cx="252.8" cy="66.8" r="2.3"/><circle cx="156.5" cy="57.0" r="2.3"/><circle cx="220.8" cy="52.7" r="2.3"/><circle cx="279.7" cy="144.9" r="2.3"/><circle cx="267.0" cy="97.9" r="2.3"/><circle cx="127.4" cy="51.0" r="2.3"/><circle cx="191.5" cy="75.3" r="2.3"/><circle cx="221.1" cy="70.3" r="2.3"/><circle cx="140.1" cy="53.4" r="2.3"/><circle cx="79.2" cy="39.4" r="2.3"/><circle cx="219.0" cy="76.9" r="2.3"/><circle cx="215.6" cy="65.4" r="2.3"/><circle cx="156.6" cy="59.0" r="2.3"/><circle cx="260.6" cy="68.6" r="2.3"/><circle cx="54.7" cy="33.0" r="2.3"/><circle cx="155.7" cy="57.9" r="2.3"/><circle cx="204.6" cy="63.0" r="2.3"/><circle cx="52.5" cy="38.2" r="2.3"/><circle cx="181.9" cy="51.1" r="2.3"/><circle cx="264.7" cy="76.2" r="2.3"/><circle cx="202.9" cy="60.4" r="2.3"/><circle cx="40.6" cy="34.3" r="2.3"/><circle cx="220.8" cy="47.1" r="2.3"/><circle cx="248.2" cy="78.3" r="2.3"/><circle cx="227.3" cy="70.6" r="2.3"/><circle cx="191.5" cy="58.1" r="2.3"/><circle cx="258.7" cy="101.0" r="2.3"/><circle cx="292.2" cy="172.8" r="2.3"/><circle cx="215.5" cy="70.2" r="2.3"/><circle cx="303.9" cy="183.5" r="2.3"/><circle cx="65.5" cy="43.0" r="2.3"/><circle cx="213.2" cy="79.5" r="2.3"/><circle cx="277.7" cy="144.7" r="2.3"/><circle cx="305.6" cy="184.0" r="2.3"/><circle cx="261.1" cy="68.6" r="2.3"/><circle cx="247.7" cy="77.9" r="2.3"/><circle cx="257.9" cy="85.4" r="2.3"/><circle cx="239.2" cy="67.7" r="2.3"/><circle cx="242.9" cy="66.5" r="2.3"/><circle cx="154.5" cy="62.3" r="2.3"/><circle cx="287.3" cy="161.6" r="2.3"/><circle cx="277.5" cy="140.7" r="2.3"/><circle cx="203.6" cy="67.2" r="2.3"/><circle cx="90.8" cy="36.7" r="2.3"/><circle cx="240.7" cy="90.5" r="2.3"/><circle cx="285.8" cy="169.1" r="2.3"/><circle cx="103.9" cy="49.4" r="2.3"/><circle cx="292.9" cy="173.3" r="2.3"/><circle cx="54.6" cy="33.4" r="2.3"/><circle cx="224.7" cy="85.3" r="2.3"/><circle cx="39.5" cy="32.3" r="2.3"/><circle cx="191.7" cy="54.2" r="2.3"/><circle cx="204.4" cy="59.1" r="2.3"/><circle cx="229.4" cy="60.7" r="2.3"/><circle cx="227.5" cy="75.7" r="2.3"/><circle cx="286.1" cy="182.2" r="2.3"/><circle cx="179.8" cy="62.4" r="2.3"/><circle cx="39.3" cy="33.2" r="2.3"/><circle cx="92.4" cy="31.6" r="2.3"/><circle cx="233.4" cy="54.2" r="2.3"/><circle cx="39.1" cy="39.2" r="2.3"/><circle cx="139.2" cy="57.4" r="2.3"/><circle cx="203.7" cy="77.5" r="2.3"/><circle cx="236.2" cy="72.6" r="2.3"/><circle cx="193.3" cy="77.3" r="2.3"/><circle cx="259.6" cy="75.5" r="2.3"/><circle cx="88.4" cy="39.9" r="2.3"/><circle cx="284.5" cy="149.5" r="2.3"/><circle cx="92.0" cy="42.8" r="2.3"/><circle cx="228.8" cy="73.7" r="2.3"/><circle cx="289.2" cy="176.9" r="2.3"/><circle cx="125.8" cy="38.1" r="2.3"/><circle cx="177.2" cy="56.8" r="2.3"/><circle cx="296.0" cy="174.6" r="2.3"/><circle cx="150.1" cy="63.9" r="2.3"/><circle cx="236.9" cy="81.0" r="2.3"/><circle cx="141.6" cy="56.4" r="2.3"/><circle cx="178.1" cy="77.1" r="2.3"/><circle cx="87.7" cy="32.1" r="2.3"/><circle cx="231.8" cy="72.2" r="2.3"/><circle cx="253.5" cy="79.3" r="2.3"/><circle cx="69.4" cy="30.8" r="2.3"/><circle cx="266.4" cy="90.1" r="2.3"/><circle cx="207.2" cy="69.4" r="2.3"/><circle cx="259.5" cy="86.7" r="2.3"/><circle cx="128.8" cy="62.1" r="2.3"/><circle cx="258.6" cy="99.8" r="2.3"/><circle cx="269.9" cy="87.9" r="2.3"/><circle cx="214.2" cy="79.5" r="2.3"/><circle cx="117.9" cy="52.1" r="2.3"/><circle cx="115.1" cy="42.4" r="2.3"/><circle cx="240.5" cy="56.4" r="2.3"/><circle cx="127.0" cy="53.6" r="2.3"/><circle cx="142.4" cy="66.7" r="2.3"/><circle cx="285.3" cy="161.6" r="2.3"/><circle cx="284.9" cy="179.8" r="2.3"/><circle cx="272.9" cy="126.0" r="2.3"/><circle cx="227.8" cy="76.5" r="2.3"/><circle cx="220.9" cy="80.8" r="2.3"/><circle cx="253.4" cy="81.4" r="2.3"/><circle cx="184.6" cy="60.3" r="2.3"/><circle cx="155.1" cy="69.2" r="2.3"/><circle cx="269.2" cy="107.3" r="2.3"/><circle cx="292.7" cy="183.1" r="2.3"/><circle cx="194.9" cy="82.2" r="2.3"/><circle cx="232.5" cy="78.1" r="2.3"/><circle cx="219.3" cy="68.2" r="2.3"/><circle cx="103.5" cy="49.6" r="2.3"/><circle cx="259.3" cy="88.4" r="2.3"/><circle cx="114.5" cy="60.3" r="2.3"/><circle cx="191.6" cy="69.4" r="2.3"/><circle cx="92.7" cy="44.3" r="2.3"/><circle cx="177.2" cy="69.8" r="2.3"/><circle cx="155.8" cy="66.1" r="2.3"/><circle cx="131.7" cy="41.6" r="2.3"/><circle cx="139.9" cy="64.7" r="2.3"/><circle cx="165.0" cy="53.4" r="2.3"/><circle cx="270.7" cy="140.0" r="2.3"/><circle cx="258.2" cy="77.5" r="2.3"/><circle cx="254.6" cy="106.3" r="2.3"/><circle cx="229.1" cy="58.7" r="2.3"/><circle cx="259.7" cy="121.3" r="2.3"/><circle cx="279.5" cy="162.0" r="2.3"/><circle cx="230.4" cy="49.5" r="2.3"/><circle cx="70.0" cy="49.3" r="2.3"/><circle cx="274.9" cy="121.5" r="2.3"/><circle cx="67.2" cy="40.4" r="2.3"/><circle cx="115.5" cy="55.5" r="2.3"/><circle cx="277.1" cy="153.2" r="2.3"/><circle cx="230.6" cy="89.8" r="2.3"/><circle cx="109.3" cy="43.3" r="2.3"/><circle cx="267.3" cy="107.5" r="2.3"/><circle cx="264.0" cy="67.5" r="2.3"/><circle cx="240.0" cy="72.8" r="2.3"/><circle cx="66.6" cy="41.7" r="2.3"/><circle cx="127.5" cy="51.9" r="2.3"/><circle cx="265.0" cy="103.3" r="2.3"/><circle cx="50.5" cy="27.1" r="2.3"/><circle cx="218.1" cy="81.2" r="2.3"/><circle cx="214.7" cy="72.7" r="2.3"/><circle cx="261.1" cy="78.2" r="2.3"/><circle cx="281.2" cy="182.7" r="2.3"/><circle cx="152.2" cy="55.7" r="2.3"/><circle cx="181.6" cy="69.8" r="2.3"/><circle cx="192.9" cy="66.5" r="2.3"/><circle cx="250.8" cy="65.5" r="2.3"/><circle cx="130.2" cy="46.8" r="2.3"/><circle cx="275.6" cy="144.0" r="2.3"/><circle cx="216.6" cy="59.2" r="2.3"/><circle cx="76.8" cy="41.2" r="2.3"/><circle cx="65.9" cy="45.9" r="2.3"/><circle cx="223.0" cy="67.3" r="2.3"/><circle cx="42.6" cy="38.1" r="2.3"/><circle cx="70.3" cy="33.0" r="2.3"/><circle cx="42.2" cy="35.2" r="2.3"/><circle cx="117.8" cy="52.1" r="2.3"/><circle cx="236.0" cy="75.3" r="2.3"/><circle cx="40.1" cy="18.7" r="2.3"/><circle cx="279.6" cy="144.9" r="2.3"/><circle cx="276.2" cy="139.5" r="2.3"/><circle cx="308.5" cy="156.4" r="2.3"/><circle cx="101.3" cy="49.1" r="2.3"/><circle cx="218.5" cy="75.5" r="2.3"/><circle cx="225.8" cy="51.6" r="2.3"/><circle cx="76.8" cy="41.5" r="2.3"/><circle cx="178.1" cy="71.5" r="2.3"/><circle cx="94.2" cy="36.5" r="2.3"/><circle cx="119.7" cy="53.3" r="2.3"/><circle cx="296.2" cy="160.3" r="2.3"/><circle cx="105.6" cy="55.6" r="2.3"/><circle cx="80.8" cy="38.4" r="2.3"/><circle cx="258.6" cy="84.6" r="2.3"/><circle cx="241.2" cy="65.9" r="2.3"/><circle cx="217.5" cy="68.8" r="2.3"/><circle cx="254.6" cy="80.8" r="2.3"/><circle cx="55.5" cy="32.4" r="2.3"/><circle cx="139.3" cy="46.8" r="2.3"/><circle cx="104.7" cy="55.0" r="2.3"/><circle cx="283.8" cy="149.4" r="2.3"/><circle cx="305.7" cy="147.0" r="2.3"/><circle cx="251.9" cy="75.0" r="2.3"/><circle cx="103.0" cy="43.0" r="2.3"/><circle cx="64.4" cy="43.1" r="2.3"/><circle cx="263.7" cy="84.2" r="2.3"/><circle cx="74.8" cy="43.9" r="2.3"/><circle cx="259.3" cy="74.1" r="2.3"/><circle cx="104.8" cy="46.6" r="2.3"/><circle cx="177.4" cy="60.2" r="2.3"/><circle cx="114.6" cy="53.6" r="2.3"/><circle cx="261.2" cy="97.0" r="2.3"/><circle cx="70.4" cy="44.8" r="2.3"/><circle cx="244.6" cy="64.5" r="2.3"/><circle cx="280.2" cy="141.6" r="2.3"/><circle cx="237.4" cy="91.1" r="2.3"/><circle cx="193.8" cy="69.1" r="2.3"/><circle cx="303.5" cy="180.2" r="2.3"/><circle cx="297.5" cy="184.9" r="2.3"/><circle cx="307.4" cy="180.8" r="2.3"/><circle cx="39.9" cy="37.0" r="2.3"/><circle cx="55.4" cy="29.5" r="2.3"/><circle cx="265.8" cy="129.2" r="2.3"/><circle cx="49.1" cy="25.6" r="2.3"/><circle cx="253.8" cy="96.5" r="2.3"/><circle cx="104.0" cy="52.4" r="2.3"/><circle cx="236.6" cy="55.0" r="2.3"/><circle cx="214.6" cy="57.2" r="2.3"/><circle cx="270.5" cy="129.4" r="2.3"/><circle cx="139.8" cy="61.2" r="2.3"/><circle cx="192.1" cy="76.2" r="2.3"/><circle cx="129.2" cy="53.1" r="2.3"/><circle cx="70.2" cy="36.1" r="2.3"/><circle cx="142.1" cy="50.5" r="2.3"/><circle cx="127.5" cy="49.9" r="2.3"/><circle cx="222.3" cy="56.1" r="2.3"/><circle cx="262.6" cy="79.7" r="2.3"/><circle cx="248.6" cy="57.1" r="2.3"/><circle cx="151.7" cy="43.2" r="2.3"/><circle cx="263.7" cy="92.6" r="2.3"/><circle cx="80.6" cy="42.8" r="2.3"/><circle cx="269.4" cy="82.7" r="2.3"/><circle cx="88.6" cy="38.9" r="2.3"/><circle cx="91.3" cy="54.6" r="2.3"/><circle cx="238.1" cy="56.2" r="2.3"/><circle cx="244.1" cy="68.2" r="2.3"/><circle cx="217.9" cy="63.1" r="2.3"/><circle cx="268.2" cy="85.5" r="2.3"/><circle cx="202.9" cy="59.5" r="2.3"/><circle cx="162.3" cy="63.7" r="2.3"/><circle cx="268.6" cy="108.7" r="2.3"/><circle cx="207.7" cy="81.1" r="2.3"/><circle cx="219.7" cy="75.7" r="2.3"/><circle cx="228.2" cy="87.2" r="2.3"/><circle cx="298.1" cy="177.1" r="2.3"/><circle cx="181.5" cy="73.3" r="2.3"/><circle cx="201.5" cy="70.7" r="2.3"/><circle cx="129.3" cy="46.9" r="2.3"/><circle cx="68.3" cy="43.4" r="2.3"/><circle cx="245.4" cy="72.3" r="2.3"/><circle cx="257.7" cy="61.6" r="2.3"/><circle cx="263.8" cy="86.5" r="2.3"/><circle cx="116.3" cy="58.7" r="2.3"/><circle cx="132.2" cy="65.3" r="2.3"/><circle cx="103.2" cy="41.5" r="2.3"/><circle cx="257.6" cy="67.5" r="2.3"/><circle cx="296.4" cy="179.9" r="2.3"/><circle cx="233.1" cy="65.5" r="2.3"/><circle cx="261.3" cy="76.8" r="2.3"/><circle cx="170.2" cy="66.6" r="2.3"/><circle cx="39.3" cy="38.3" r="2.3"/><circle cx="91.3" cy="52.6" r="2.3"/><circle cx="279.7" cy="148.8" r="2.3"/><circle cx="237.7" cy="54.2" r="2.3"/><circle cx="69.4" cy="51.4" r="2.3"/><circle cx="232.6" cy="76.6" r="2.3"/><circle cx="90.9" cy="53.0" r="2.3"/><circle cx="217.6" cy="74.8" r="2.3"/><circle cx="65.1" cy="33.8" r="2.3"/><circle cx="258.3" cy="57.1" r="2.3"/><circle cx="224.4" cy="70.4" r="2.3"/><circle cx="276.6" cy="118.5" r="2.3"/><circle cx="269.4" cy="103.6" r="2.3"/><circle cx="140.7" cy="59.1" r="2.3"/><circle cx="212.8" cy="77.3" r="2.3"/><circle cx="285.3" cy="150.4" r="2.3"/><circle cx="153.6" cy="59.4" r="2.3"/><circle cx="97.0" cy="52.3" r="2.3"/><circle cx="214.6" cy="61.8" r="2.3"/><circle cx="138.4" cy="65.2" r="2.3"/><circle cx="204.8" cy="59.3" r="2.3"/><circle cx="105.2" cy="37.2" r="2.3"/><circle cx="292.2" cy="169.2" r="2.3"/><circle cx="241.1" cy="92.5" r="2.3"/><circle cx="259.1" cy="104.7" r="2.3"/><circle cx="302.3" cy="176.6" r="2.3"/><circle cx="69.0" cy="48.2" r="2.3"/><circle cx="50.7" cy="35.0" r="2.3"/><circle cx="167.4" cy="64.4" r="2.3"/><circle cx="102.6" cy="50.8" r="2.3"/><circle cx="275.0" cy="126.3" r="2.3"/><circle cx="235.4" cy="82.4" r="2.3"/><circle cx="231.2" cy="60.6" r="2.3"/><circle cx="119.0" cy="50.9" r="2.3"/><circle cx="180.1" cy="48.1" r="2.3"/><circle cx="104.5" cy="49.5" r="2.3"/><circle cx="211.2" cy="57.8" r="2.3"/><circle cx="153.4" cy="68.0" r="2.3"/><circle cx="297.6" cy="185.5" r="2.3"/><circle cx="260.4" cy="71.9" r="2.3"/><circle cx="252.0" cy="111.6" r="2.3"/><circle cx="234.0" cy="89.1" r="2.3"/><circle cx="216.3" cy="48.8" r="2.3"/><circle cx="157.6" cy="54.9" r="2.3"/><circle cx="209.2" cy="74.6" r="2.3"/><circle cx="260.8" cy="82.7" r="2.3"/><circle cx="154.9" cy="59.2" r="2.3"/><circle cx="90.3" cy="51.3" r="2.3"/><circle cx="103.5" cy="46.7" r="2.3"/><circle cx="78.1" cy="47.0" r="2.3"/><circle cx="202.8" cy="78.6" r="2.3"/><circle cx="55.5" cy="34.2" r="2.3"/><circle cx="221.6" cy="70.1" r="2.3"/><circle cx="176.1" cy="52.6" r="2.3"/><circle cx="218.4" cy="68.4" r="2.3"/><circle cx="154.8" cy="55.4" r="2.3"/><circle cx="225.1" cy="56.6" r="2.3"/><circle cx="102.0" cy="35.8" r="2.3"/><circle cx="216.6" cy="77.8" r="2.3"/><circle cx="223.2" cy="49.5" r="2.3"/><circle cx="38.8" cy="21.0" r="2.3"/><circle cx="276.9" cy="133.0" r="2.3"/><circle cx="226.0" cy="64.4" r="2.3"/><circle cx="262.3" cy="103.7" r="2.3"/><circle cx="153.4" cy="58.6" r="2.3"/><circle cx="200.6" cy="66.3" r="2.3"/><circle cx="116.2" cy="59.2" r="2.3"/><circle cx="235.2" cy="66.5" r="2.3"/><circle cx="290.2" cy="186.0" r="2.3"/><circle cx="142.5" cy="53.5" r="2.3"/><circle cx="258.0" cy="75.1" r="2.3"/><circle cx="235.9" cy="60.4" r="2.3"/><circle cx="231.9" cy="83.2" r="2.3"/><circle cx="204.4" cy="56.2" r="2.3"/><circle cx="300.0" cy="185.8" r="2.3"/><circle cx="253.2" cy="81.4" r="2.3"/><circle cx="270.2" cy="85.0" r="2.3"/><circle cx="163.1" cy="65.2" r="2.3"/><circle cx="297.9" cy="181.0" r="2.3"/><circle cx="248.0" cy="69.3" r="2.3"/><circle cx="79.8" cy="44.5" r="2.3"/><circle cx="67.3" cy="38.4" r="2.3"/><circle cx="266.2" cy="97.5" r="2.3"/><circle cx="53.3" cy="41.4" r="2.3"/><circle cx="242.9" cy="77.6" r="2.3"/><circle cx="201.3" cy="64.7" r="2.3"/><circle cx="127.7" cy="52.4" r="2.3"/><circle cx="129.3" cy="55.2" r="2.3"/><circle cx="118.2" cy="43.1" r="2.3"/><circle cx="205.0" cy="76.2" r="2.3"/><circle cx="193.2" cy="63.2" r="2.3"/><circle cx="156.1" cy="61.6" r="2.3"/><circle cx="131.4" cy="50.0" r="2.3"/><circle cx="156.4" cy="55.8" r="2.3"/><circle cx="214.4" cy="84.3" r="2.3"/><circle cx="231.5" cy="90.1" r="2.3"/><circle cx="51.5" cy="36.6" r="2.3"/><circle cx="214.2" cy="58.2" r="2.3"/><circle cx="81.0" cy="38.2" r="2.3"/><circle cx="141.9" cy="55.1" r="2.3"/><circle cx="218.2" cy="83.1" r="2.3"/><circle cx="263.0" cy="80.1" r="2.3"/><circle cx="179.8" cy="53.6" r="2.3"/><circle cx="93.1" cy="47.3" r="2.3"/><circle cx="280.3" cy="165.8" r="2.3"/><circle cx="77.6" cy="37.0" r="2.3"/><circle cx="243.6" cy="71.7" r="2.3"/><circle cx="278.9" cy="163.6" r="2.3"/><circle cx="114.4" cy="58.6" r="2.3"/><circle cx="222.4" cy="50.7" r="2.3"/><circle cx="177.5" cy="65.6" r="2.3"/><circle cx="52.1" cy="36.7" r="2.3"/><circle cx="273.3" cy="123.1" r="2.3"/><circle cx="265.0" cy="89.9" r="2.3"/><circle cx="42.6" cy="17.0" r="2.3"/><circle cx="243.6" cy="115.5" r="2.3"/><circle cx="56.9" cy="41.7" r="2.3"/><circle cx="178.2" cy="62.2" r="2.3"/><circle cx="190.0" cy="56.6" r="2.3"/><circle cx="255.3" cy="84.1" r="2.3"/><circle cx="212.5" cy="70.5" r="2.3"/><circle cx="116.9" cy="39.4" r="2.3"/><circle cx="272.0" cy="132.3" r="2.3"/><circle cx="215.9" cy="69.3" r="2.3"/><circle cx="155.4" cy="63.4" r="2.3"/><circle cx="164.4" cy="66.5" r="2.3"/><circle cx="102.0" cy="42.3" r="2.3"/><circle cx="154.1" cy="53.0" r="2.3"/><circle cx="191.5" cy="66.1" r="2.3"/><circle cx="103.5" cy="42.2" r="2.3"/><circle cx="118.6" cy="47.0" r="2.3"/><circle cx="234.8" cy="75.3" r="2.3"/><circle cx="256.7" cy="70.2" r="2.3"/><circle cx="302.6" cy="148.2" r="2.3"/><circle cx="235.3" cy="62.2" r="2.3"/><circle cx="167.0" cy="63.7" r="2.3"/><circle cx="74.4" cy="53.6" r="2.3"/><circle cx="167.3" cy="70.9" r="2.3"/><circle cx="126.9" cy="47.9" r="2.3"/><circle cx="128.9" cy="43.5" r="2.3"/><circle cx="257.9" cy="60.3" r="2.3"/><circle cx="217.6" cy="50.6" r="2.3"/><circle cx="140.7" cy="54.3" r="2.3"/><circle cx="213.8" cy="65.8" r="2.3"/><circle cx="230.8" cy="74.8" r="2.3"/><circle cx="153.5" cy="60.2" r="2.3"/><circle cx="180.6" cy="69.9" r="2.3"/><circle cx="66.3" cy="24.8" r="2.3"/><circle cx="141.6" cy="54.6" r="2.3"/><circle cx="41.9" cy="28.6" r="2.3"/><circle cx="268.2" cy="108.3" r="2.3"/><circle cx="255.4" cy="83.3" r="2.3"/><circle cx="103.2" cy="51.6" r="2.3"/><circle cx="40.2" cy="32.1" r="2.3"/><circle cx="104.7" cy="50.6" r="2.3"/><circle cx="265.9" cy="86.7" r="2.3"/><circle cx="193.3" cy="73.6" r="2.3"/><circle cx="234.6" cy="55.0" r="2.3"/><circle cx="224.9" cy="58.7" r="2.3"/><circle cx="307.7" cy="184.7" r="2.3"/><circle cx="194.0" cy="70.3" r="2.3"/><circle cx="126.9" cy="53.5" r="2.3"/><circle cx="213.4" cy="54.9" r="2.3"/><circle cx="191.6" cy="64.2" r="2.3"/><circle cx="179.0" cy="58.4" r="2.3"/><circle cx="240.6" cy="76.0" r="2.3"/><circle cx="271.0" cy="132.2" r="2.3"/><circle cx="190.0" cy="66.5" r="2.3"/><circle cx="267.4" cy="120.8" r="2.3"/><circle cx="82.0" cy="45.8" r="2.3"/><circle cx="219.7" cy="83.0" r="2.3"/><circle cx="249.4" cy="107.2" r="2.3"/><circle cx="102.1" cy="31.1" r="2.3"/><circle cx="96.3" cy="41.0" r="2.3"/><circle cx="263.1" cy="97.6" r="2.3"/><circle cx="103.2" cy="44.5" r="2.3"/><circle cx="176.5" cy="63.6" r="2.3"/><circle cx="104.3" cy="42.1" r="2.3"/><circle cx="281.9" cy="172.4" r="2.3"/><circle cx="269.6" cy="113.7" r="2.3"/><circle cx="66.6" cy="34.0" r="2.3"/><circle cx="66.1" cy="37.1" r="2.3"/><circle cx="92.1" cy="43.7" r="2.3"/><circle cx="245.1" cy="83.6" r="2.3"/><circle cx="182.5" cy="66.4" r="2.3"/><circle cx="249.5" cy="82.3" r="2.3"/><circle cx="229.0" cy="69.3" r="2.3"/><circle cx="221.5" cy="67.4" r="2.3"/><circle cx="243.1" cy="90.5" r="2.3"/><circle cx="81.2" cy="36.8" r="2.3"/><circle cx="52.7" cy="40.3" r="2.3"/><circle cx="235.7" cy="70.7" r="2.3"/><circle cx="166.7" cy="48.4" r="2.3"/><circle cx="252.6" cy="82.1" r="2.3"/><circle cx="275.8" cy="139.1" r="2.3"/><circle cx="196.1" cy="59.5" r="2.3"/><circle cx="51.1" cy="48.2" r="2.3"/><circle cx="304.6" cy="157.7" r="2.3"/><circle cx="261.9" cy="70.6" r="2.3"/><circle cx="218.8" cy="87.2" r="2.3"/><circle cx="255.5" cy="68.6" r="2.3"/><circle cx="298.6" cy="161.0" r="2.3"/><circle cx="239.0" cy="75.2" r="2.3"/><circle cx="190.2" cy="56.4" r="2.3"/><circle cx="213.2" cy="71.8" r="2.3"/><circle cx="259.5" cy="92.2" r="2.3"/><circle cx="274.1" cy="132.7" r="2.3"/><circle cx="265.9" cy="95.3" r="2.3"/><circle cx="95.8" cy="35.2" r="2.3"/><circle cx="140.8" cy="55.8" r="2.3"/><circle cx="88.6" cy="49.9" r="2.3"/><circle cx="238.1" cy="101.5" r="2.3"/><circle cx="228.8" cy="57.9" r="2.3"/><circle cx="114.7" cy="58.8" r="2.3"/><circle cx="126.8" cy="45.5" r="2.3"/><circle cx="291.9" cy="139.1" r="2.3"/><circle cx="302.9" cy="165.6" r="2.3"/><circle cx="282.3" cy="162.4" r="2.3"/><circle cx="180.2" cy="53.5" r="2.3"/><circle cx="52.6" cy="38.3" r="2.3"/><circle cx="177.9" cy="52.1" r="2.3"/><circle cx="271.5" cy="120.2" r="2.3"/><circle cx="203.4" cy="62.5" r="2.3"/><circle cx="304.9" cy="167.5" r="2.3"/><circle cx="265.0" cy="82.9" r="2.3"/><circle cx="63.3" cy="36.5" r="2.3"/><circle cx="191.0" cy="72.1" r="2.3"/><circle cx="100.9" cy="35.1" r="2.3"/><circle cx="93.8" cy="45.1" r="2.3"/><circle cx="125.6" cy="40.9" r="2.3"/><circle cx="232.8" cy="61.8" r="2.3"/><circle cx="93.2" cy="48.4" r="2.3"/><circle cx="157.6" cy="67.8" r="2.3"/><circle cx="279.0" cy="155.7" r="2.3"/><circle cx="248.9" cy="79.5" r="2.3"/><circle cx="90.5" cy="28.8" r="2.3"/><circle cx="171.3" cy="67.6" r="2.3"/><circle cx="167.4" cy="73.8" r="2.3"/><circle cx="143.9" cy="51.3" r="2.3"/><circle cx="207.1" cy="60.6" r="2.3"/><circle cx="138.3" cy="60.1" r="2.3"/></g>
<g class="r"><circle cx="279.6" cy="186.4" r="2.3"/><circle cx="298.5" cy="186.1" r="2.3"/><circle cx="305.2" cy="187.9" r="2.3"/><circle cx="305.1" cy="187.3" r="2.3"/><circle cx="282.1" cy="188.0" r="2.3"/><circle cx="304.5" cy="187.7" r="2.3"/><circle cx="289.0" cy="186.5" r="2.3"/><circle cx="278.7" cy="187.4" r="2.3"/></g>
<g class="b"><circle cx="294.6" cy="187.9" r="2.3"/><circle cx="308.5" cy="187.2" r="2.3"/><circle cx="298.5" cy="187.5" r="2.3"/><circle cx="302.8" cy="186.6" r="2.3"/><circle cx="283.8" cy="187.6" r="2.3"/><circle cx="290.6" cy="186.5" r="2.3"/><circle cx="295.0" cy="187.5" r="2.3"/><circle cx="294.2" cy="186.3" r="2.3"/><circle cx="290.8" cy="186.2" r="2.3"/><circle cx="285.3" cy="186.1" r="2.3"/><circle cx="304.0" cy="187.4" r="2.3"/></g>
</g>
<path d="M39.60 1.40H310.20" stroke="#b4b4b4" stroke-width="1.5" fill="none"/>
<path d="M309.50 1.50V187.10" stroke="#858585" stroke-width="1" fill="none"/>
<path d="M39.60 1.50v3.60M45.60 1.50v1.90M51.60 1.50v1.90M57.61 1.50v1.90M63.61 1.50v1.90M69.61 1.50v1.90M75.61 1.50v1.90M81.61 1.50v1.90M87.62 1.50v1.90M93.62 1.50v1.90M99.62 1.50v3.60M105.62 1.50v1.90M111.62 1.50v1.90M117.63 1.50v1.90M123.63 1.50v1.90M129.63 1.50v1.90M135.63 1.50v1.90M141.63 1.50v1.90M147.64 1.50v1.90M153.64 1.50v1.90M159.64 1.50v3.60M165.64 1.50v1.90M171.64 1.50v1.90M177.65 1.50v1.90M183.65 1.50v1.90M189.65 1.50v1.90M195.65 1.50v1.90M201.65 1.50v1.90M207.66 1.50v1.90M213.66 1.50v1.90M219.66 1.50v3.60M225.66 1.50v1.90M231.66 1.50v1.90M237.67 1.50v1.90M243.67 1.50v1.90M249.67 1.50v1.90M255.67 1.50v1.90M261.67 1.50v1.90M267.68 1.50v1.90M273.68 1.50v1.90M279.68 1.50v3.60M285.68 1.50v1.90M291.68 1.50v1.90M297.69 1.50v1.90M303.69 1.50v1.90M309.69 1.50v1.90M309.70 187.10h-5.20M309.70 183.39h-2.70M309.70 179.68h-2.70M309.70 175.96h-2.70M309.70 172.25h-2.70M309.70 168.54h-2.70M309.70 164.83h-2.70M309.70 161.12h-2.70M309.70 157.40h-2.70M309.70 153.69h-2.70M309.70 149.98h-5.20M309.70 146.27h-2.70M309.70 142.56h-2.70M309.70 138.84h-2.70M309.70 135.13h-2.70M309.70 131.42h-2.70M309.70 127.71h-2.70M309.70 124.00h-2.70M309.70 120.28h-2.70M309.70 116.57h-2.70M309.70 112.86h-5.20M309.70 109.15h-2.70M309.70 105.44h-2.70M309.70 101.72h-2.70M309.70 98.01h-2.70M309.70 94.30h-2.70M309.70 90.59h-2.70M309.70 86.88h-2.70M309.70 83.16h-2.70M309.70 79.45h-2.70M309.70 75.74h-5.20M309.70 72.03h-2.70M309.70 68.32h-2.70M309.70 64.60h-2.70M309.70 60.89h-2.70M309.70 57.18h-2.70M309.70 53.47h-2.70M309.70 49.76h-2.70M309.70 46.04h-2.70M309.70 42.33h-2.70M309.70 38.62h-5.20M309.70 34.91h-2.70M309.70 31.20h-2.70M309.70 27.48h-2.70M309.70 23.77h-2.70M309.70 20.06h-2.70M309.70 16.35h-2.70M309.70 12.64h-2.70M309.70 8.92h-2.70M309.70 5.21h-2.70M309.70 1.50h-5.20" stroke="#666" stroke-width="1" fill="none"/>
<path d="M39.60 187.10v-3.60M45.60 187.10v-1.90M51.60 187.10v-1.90M57.61 187.10v-1.90M63.61 187.10v-1.90M69.61 187.10v-1.90M75.61 187.10v-1.90M81.61 187.10v-1.90M87.62 187.10v-1.90M93.62 187.10v-1.90M99.62 187.10v-3.60M105.62 187.10v-1.90M111.62 187.10v-1.90M117.63 187.10v-1.90M123.63 187.10v-1.90M129.63 187.10v-1.90M135.63 187.10v-1.90M141.63 187.10v-1.90M147.64 187.10v-1.90M153.64 187.10v-1.90M159.64 187.10v-3.60M165.64 187.10v-1.90M171.64 187.10v-1.90M177.65 187.10v-1.90M183.65 187.10v-1.90M189.65 187.10v-1.90M195.65 187.10v-1.90M201.65 187.10v-1.90M207.66 187.10v-1.90M213.66 187.10v-1.90M219.66 187.10v-3.60M225.66 187.10v-1.90M231.66 187.10v-1.90M237.67 187.10v-1.90M243.67 187.10v-1.90M249.67 187.10v-1.90M255.67 187.10v-1.90M261.67 187.10v-1.90M267.68 187.10v-1.90M273.68 187.10v-1.90M279.68 187.10v-3.60M285.68 187.10v-1.90M291.68 187.10v-1.90M297.69 187.10v-1.90M303.69 187.10v-1.90M309.69 187.10v-1.90M39.60 187.10h5.20M39.60 183.39h2.70M39.60 179.68h2.70M39.60 175.96h2.70M39.60 172.25h2.70M39.60 168.54h2.70M39.60 164.83h2.70M39.60 161.12h2.70M39.60 157.40h2.70M39.60 153.69h2.70M39.60 149.98h5.20M39.60 146.27h2.70M39.60 142.56h2.70M39.60 138.84h2.70M39.60 135.13h2.70M39.60 131.42h2.70M39.60 127.71h2.70M39.60 124.00h2.70M39.60 120.28h2.70M39.60 116.57h2.70M39.60 112.86h5.20M39.60 109.15h2.70M39.60 105.44h2.70M39.60 101.72h2.70M39.60 98.01h2.70M39.60 94.30h2.70M39.60 90.59h2.70M39.60 86.88h2.70M39.60 83.16h2.70M39.60 79.45h2.70M39.60 75.74h5.20M39.60 72.03h2.70M39.60 68.32h2.70M39.60 64.60h2.70M39.60 60.89h2.70M39.60 57.18h2.70M39.60 53.47h2.70M39.60 49.76h2.70M39.60 46.04h2.70M39.60 42.33h2.70M39.60 38.62h5.20M39.60 34.91h2.70M39.60 31.20h2.70M39.60 27.48h2.70M39.60 23.77h2.70M39.60 20.06h2.70M39.60 16.35h2.70M39.60 12.64h2.70M39.60 8.92h2.70M39.60 5.21h2.70M39.60 1.50h5.20" stroke="#4a4a4a" stroke-width="1" fill="none"/>
<path d="M39.60 1.50V187.10H309.70" stroke="#4a4a4a" stroke-width="1.3" fill="none"/>
<text class="tk" x="39.3" y="208.2" text-anchor="middle" textLength="21" lengthAdjust="spacingAndGlyphs">0.6</text>
<text class="tk" x="99.3" y="208.2" text-anchor="middle" textLength="21" lengthAdjust="spacingAndGlyphs">0.7</text>
<text class="tk" x="159.3" y="208.2" text-anchor="middle" textLength="21" lengthAdjust="spacingAndGlyphs">0.8</text>
<text class="tk" x="219.4" y="208.2" text-anchor="middle" textLength="21" lengthAdjust="spacingAndGlyphs">0.9</text>
<text class="tk" x="279.4" y="208.2" text-anchor="middle" textLength="21" lengthAdjust="spacingAndGlyphs">1.0</text>
<text class="tk" x="34.6" y="11.1" text-anchor="end">5</text>
<text class="tk" x="34.6" y="44.6" text-anchor="end">4</text>
<text class="tk" x="34.6" y="81.0" text-anchor="end">3</text>
<text class="tk" x="34.6" y="118.0" text-anchor="end">2</text>
<text class="tk" x="34.6" y="155.6" text-anchor="end">1</text>
<text class="tk" x="34.6" y="187.4" text-anchor="end">0</text>
<text class="tk" x="164.0" y="225.5" style="font-style:italic;font-size:13.5px">ρ</text>
<text class="tk" x="172.5" y="228.9" style="font-size:8.6px" textLength="11.8" lengthAdjust="spacing">pol</text>
<g transform="translate(14.0 93.5) rotate(-90)"><text class="tk" x="-48.3" y="0.0" style="font-size:13.5px" textLength="7.4" lengthAdjust="spacingAndGlyphs">n</text><text class="tk" x="-40.6" y="3.6" style="font-size:10.5px" textLength="5.8" lengthAdjust="spacingAndGlyphs">e</text><text class="tk" x="-26.0" y="0.0" style="font-size:13.5px" textLength="15.4" lengthAdjust="spacingAndGlyphs">10</text><text class="tk" x="-7.8" y="-4.0" style="font-size:9.8px" textLength="11.6" lengthAdjust="spacingAndGlyphs">19</text><text class="tk" x="10.8" y="0.0" style="font-size:13.5px">(</text><text class="tk" x="16.4" y="0.0" style="font-size:13.5px" textLength="11" lengthAdjust="spacingAndGlyphs">m</text><text class="tk" x="30.8" y="-4.0" style="font-size:9.8px" textLength="9.6" lengthAdjust="spacingAndGlyphs">−3</text><text class="tk" x="42.3" y="0.0" style="font-size:13.5px">)</text></g>
<text class="bd" x="217.3" y="30" textLength="69.3" lengthAdjust="spacingAndGlyphs">Density</text>
<text class="bd bl lt" x="156.6" y="30.6" textLength="13.7" lengthAdjust="spacingAndGlyphs">D</text>
<text class="bd rd lt" x="131.2" y="149.6" textLength="14.4" lengthAdjust="spacingAndGlyphs">H</text>
<clipPath id="c2"><rect x="378.80" y="1.40" width="256.90" height="178.00"/></clipPath>
<g clip-path="url(#c2)">
<path d="M378.8 11.4L435.8 40.2L492.8 67.9L549.7 90.1L578.2 112.3" stroke="#ff3030" stroke-width="0.8" fill="none" opacity="0.75"/>
<g class="r"><circle cx="431.4" cy="55.5" r="2.3"/><circle cx="550.6" cy="70.5" r="2.3"/><circle cx="443.0" cy="35.7" r="2.3"/><circle cx="409.6" cy="19.1" r="2.3"/><circle cx="620.3" cy="175.6" r="2.3"/><circle cx="485.0" cy="67.9" r="2.3"/><circle cx="485.8" cy="47.2" r="2.3"/><circle cx="559.1" cy="61.0" r="2.3"/><circle cx="563.1" cy="73.9" r="2.3"/><circle cx="553.0" cy="77.2" r="2.3"/><circle cx="588.1" cy="127.0" r="2.3"/><circle cx="575.5" cy="77.9" r="2.3"/><circle cx="591.3" cy="143.6" r="2.3"/><circle cx="464.7" cy="61.2" r="2.3"/><circle cx="550.5" cy="95.0" r="2.3"/><circle cx="601.3" cy="129.6" r="2.3"/><circle cx="568.8" cy="61.4" r="2.3"/><circle cx="408.9" cy="45.9" r="2.3"/><circle cx="395.5" cy="16.2" r="2.3"/><circle cx="587.2" cy="116.3" r="2.3"/><circle cx="599.3" cy="141.7" r="2.3"/><circle cx="635.0" cy="170.2" r="2.3"/><circle cx="572.2" cy="82.1" r="2.3"/><circle cx="399.4" cy="15.7" r="2.3"/><circle cx="450.4" cy="37.3" r="2.3"/><circle cx="574.0" cy="127.4" r="2.3"/><circle cx="588.7" cy="130.6" r="2.3"/><circle cx="408.3" cy="16.2" r="2.3"/><circle cx="623.5" cy="174.8" r="2.3"/><circle cx="605.5" cy="155.8" r="2.3"/><circle cx="558.0" cy="65.8" r="2.3"/><circle cx="386.9" cy="25.0" r="2.3"/><circle cx="615.7" cy="164.2" r="2.3"/><circle cx="553.6" cy="70.8" r="2.3"/><circle cx="571.0" cy="123.1" r="2.3"/><circle cx="444.1" cy="50.6" r="2.3"/><circle cx="588.0" cy="120.0" r="2.3"/><circle cx="551.2" cy="104.2" r="2.3"/><circle cx="559.9" cy="72.4" r="2.3"/><circle cx="546.6" cy="73.9" r="2.3"/><circle cx="594.6" cy="116.2" r="2.3"/><circle cx="462.7" cy="40.6" r="2.3"/><circle cx="407.9" cy="8.6" r="2.3"/><circle cx="497.0" cy="72.0" r="2.3"/><circle cx="463.9" cy="53.9" r="2.3"/><circle cx="588.1" cy="77.1" r="2.3"/><circle cx="599.1" cy="150.3" r="2.3"/><circle cx="600.5" cy="141.6" r="2.3"/><circle cx="585.5" cy="95.2" r="2.3"/><circle cx="585.6" cy="113.4" r="2.3"/><circle cx="580.9" cy="80.9" r="2.3"/><circle cx="397.6" cy="21.7" r="2.3"/><circle cx="573.6" cy="98.6" r="2.3"/><circle cx="589.6" cy="93.2" r="2.3"/><circle cx="582.8" cy="62.3" r="2.3"/><circle cx="474.1" cy="71.0" r="2.3"/><circle cx="509.7" cy="71.4" r="2.3"/><circle cx="617.9" cy="119.6" r="2.3"/><circle cx="594.8" cy="148.0" r="2.3"/><circle cx="452.1" cy="33.2" r="2.3"/><circle cx="428.8" cy="41.9" r="2.3"/><circle cx="560.1" cy="99.4" r="2.3"/><circle cx="441.6" cy="38.3" r="2.3"/><circle cx="428.8" cy="18.3" r="2.3"/><circle cx="562.2" cy="83.7" r="2.3"/><circle cx="564.1" cy="72.7" r="2.3"/><circle cx="388.0" cy="4.2" r="2.3"/><circle cx="593.4" cy="120.2" r="2.3"/><circle cx="552.1" cy="106.2" r="2.3"/><circle cx="397.9" cy="26.7" r="2.3"/><circle cx="548.3" cy="62.1" r="2.3"/><circle cx="584.2" cy="107.9" r="2.3"/><circle cx="577.1" cy="128.4" r="2.3"/><circle cx="560.9" cy="113.2" r="2.3"/><circle cx="572.2" cy="76.1" r="2.3"/><circle cx="401.1" cy="38.4" r="2.3"/><circle cx="463.3" cy="47.3" r="2.3"/><circle cx="442.2" cy="38.8" r="2.3"/><circle cx="382.2" cy="7.3" r="2.3"/><circle cx="546.4" cy="92.4" r="2.3"/><circle cx="418.7" cy="8.9" r="2.3"/><circle cx="584.5" cy="98.9" r="2.3"/><circle cx="547.4" cy="81.3" r="2.3"/><circle cx="566.6" cy="75.0" r="2.3"/><circle cx="451.8" cy="37.8" r="2.3"/><circle cx="405.7" cy="4.1" r="2.3"/><circle cx="464.2" cy="57.7" r="2.3"/><circle cx="421.0" cy="19.0" r="2.3"/><circle cx="609.2" cy="177.8" r="2.3"/><circle cx="462.0" cy="47.8" r="2.3"/><circle cx="560.8" cy="60.9" r="2.3"/><circle cx="548.4" cy="94.9" r="2.3"/><circle cx="569.9" cy="97.4" r="2.3"/><circle cx="551.9" cy="82.2" r="2.3"/><circle cx="508.9" cy="73.6" r="2.3"/><circle cx="433.8" cy="22.4" r="2.3"/><circle cx="600.6" cy="127.7" r="2.3"/><circle cx="496.9" cy="58.3" r="2.3"/><circle cx="614.0" cy="149.2" r="2.3"/><circle cx="622.9" cy="173.4" r="2.3"/><circle cx="568.0" cy="124.3" r="2.3"/><circle cx="554.7" cy="95.9" r="2.3"/><circle cx="573.9" cy="95.3" r="2.3"/><circle cx="628.1" cy="164.6" r="2.3"/><circle cx="410.3" cy="2.9" r="2.3"/><circle cx="601.6" cy="126.6" r="2.3"/><circle cx="451.6" cy="59.0" r="2.3"/><circle cx="599.0" cy="98.2" r="2.3"/><circle cx="443.2" cy="42.2" r="2.3"/><circle cx="547.0" cy="84.9" r="2.3"/><circle cx="565.7" cy="74.7" r="2.3"/><circle cx="619.4" cy="120.6" r="2.3"/><circle cx="421.6" cy="29.0" r="2.3"/><circle cx="459.2" cy="36.0" r="2.3"/><circle cx="587.8" cy="99.0" r="2.3"/><circle cx="472.5" cy="49.9" r="2.3"/><circle cx="397.3" cy="21.3" r="2.3"/><circle cx="570.3" cy="99.0" r="2.3"/><circle cx="442.7" cy="45.5" r="2.3"/><circle cx="633.6" cy="178.2" r="2.3"/><circle cx="564.2" cy="87.7" r="2.3"/><circle cx="602.4" cy="135.5" r="2.3"/><circle cx="388.7" cy="38.8" r="2.3"/><circle cx="496.2" cy="63.9" r="2.3"/><circle cx="601.8" cy="124.8" r="2.3"/><circle cx="550.2" cy="89.0" r="2.3"/><circle cx="605.8" cy="139.8" r="2.3"/><circle cx="567.4" cy="121.7" r="2.3"/><circle cx="574.8" cy="74.9" r="2.3"/><circle cx="419.9" cy="32.8" r="2.3"/><circle cx="574.4" cy="99.2" r="2.3"/><circle cx="496.7" cy="54.4" r="2.3"/><circle cx="561.7" cy="68.3" r="2.3"/><circle cx="563.1" cy="77.3" r="2.3"/><circle cx="591.2" cy="132.5" r="2.3"/><circle cx="476.8" cy="68.0" r="2.3"/><circle cx="453.3" cy="44.0" r="2.3"/><circle cx="624.7" cy="136.8" r="2.3"/><circle cx="395.5" cy="1.2" r="2.3"/><circle cx="545.2" cy="74.5" r="2.3"/><circle cx="475.0" cy="45.4" r="2.3"/><circle cx="385.6" cy="16.4" r="2.3"/><circle cx="548.7" cy="85.6" r="2.3"/><circle cx="546.9" cy="77.2" r="2.3"/><circle cx="582.3" cy="129.7" r="2.3"/><circle cx="566.0" cy="95.2" r="2.3"/><circle cx="545.8" cy="96.1" r="2.3"/><circle cx="587.8" cy="119.1" r="2.3"/><circle cx="550.0" cy="97.9" r="2.3"/><circle cx="547.4" cy="91.2" r="2.3"/><circle cx="398.1" cy="14.4" r="2.3"/><circle cx="506.3" cy="64.3" r="2.3"/><circle cx="562.6" cy="88.6" r="2.3"/><circle cx="576.3" cy="86.0" r="2.3"/><circle cx="578.6" cy="98.0" r="2.3"/><circle cx="620.6" cy="176.9" r="2.3"/><circle cx="431.5" cy="23.7" r="2.3"/><circle cx="464.4" cy="49.5" r="2.3"/><circle cx="575.5" cy="85.1" r="2.3"/><circle cx="632.4" cy="178.5" r="2.3"/><circle cx="420.0" cy="23.2" r="2.3"/><circle cx="508.5" cy="79.6" r="2.3"/><circle cx="442.3" cy="56.1" r="2.3"/><circle cx="600.7" cy="103.8" r="2.3"/><circle cx="464.2" cy="51.2" r="2.3"/><circle cx="592.4" cy="109.8" r="2.3"/><circle cx="472.4" cy="54.3" r="2.3"/><circle cx="413.8" cy="35.3" r="2.3"/><circle cx="619.9" cy="142.6" r="2.3"/><circle cx="407.0" cy="5.5" r="2.3"/><circle cx="554.5" cy="64.6" r="2.3"/><circle cx="496.5" cy="63.1" r="2.3"/><circle cx="463.0" cy="51.3" r="2.3"/><circle cx="408.8" cy="29.4" r="2.3"/><circle cx="420.3" cy="39.0" r="2.3"/><circle cx="419.9" cy="44.5" r="2.3"/><circle cx="495.2" cy="74.5" r="2.3"/><circle cx="546.7" cy="66.8" r="2.3"/><circle cx="420.3" cy="41.4" r="2.3"/><circle cx="386.7" cy="13.5" r="2.3"/><circle cx="559.7" cy="97.2" r="2.3"/><circle cx="497.3" cy="73.5" r="2.3"/><circle cx="608.4" cy="176.3" r="2.3"/><circle cx="428.6" cy="43.0" r="2.3"/><circle cx="627.2" cy="176.4" r="2.3"/><circle cx="422.8" cy="18.0" r="2.3"/><circle cx="567.8" cy="99.5" r="2.3"/><circle cx="484.8" cy="65.1" r="2.3"/><circle cx="483.3" cy="61.3" r="2.3"/><circle cx="594.4" cy="119.3" r="2.3"/><circle cx="463.9" cy="38.4" r="2.3"/><circle cx="466.4" cy="74.0" r="2.3"/><circle cx="560.5" cy="84.6" r="2.3"/><circle cx="443.3" cy="47.7" r="2.3"/><circle cx="634.7" cy="174.5" r="2.3"/><circle cx="454.7" cy="58.6" r="2.3"/><circle cx="440.2" cy="43.3" r="2.3"/><circle cx="430.3" cy="19.8" r="2.3"/><circle cx="570.3" cy="103.0" r="2.3"/><circle cx="576.0" cy="91.0" r="2.3"/><circle cx="594.9" cy="127.3" r="2.3"/><circle cx="566.3" cy="67.7" r="2.3"/><circle cx="429.9" cy="48.0" r="2.3"/><circle cx="418.8" cy="11.2" r="2.3"/><circle cx="553.1" cy="96.0" r="2.3"/><circle cx="570.4" cy="87.1" r="2.3"/><circle cx="418.9" cy="20.5" r="2.3"/><circle cx="466.0" cy="78.2" r="2.3"/><circle cx="410.3" cy="31.1" r="2.3"/><circle cx="628.8" cy="164.9" r="2.3"/><circle cx="548.8" cy="66.3" r="2.3"/><circle cx="442.8" cy="44.7" r="2.3"/><circle cx="409.9" cy="28.1" r="2.3"/><circle cx="619.1" cy="113.6" r="2.3"/><circle cx="484.2" cy="56.4" r="2.3"/><circle cx="457.2" cy="67.6" r="2.3"/><circle cx="390.0" cy="14.6" r="2.3"/><circle cx="604.1" cy="149.8" r="2.3"/><circle cx="572.1" cy="103.1" r="2.3"/><circle cx="465.5" cy="62.0" r="2.3"/><circle cx="546.9" cy="86.5" r="2.3"/><circle cx="506.2" cy="78.8" r="2.3"/><circle cx="615.6" cy="157.5" r="2.3"/><circle cx="507.4" cy="75.5" r="2.3"/><circle cx="611.5" cy="166.7" r="2.3"/><circle cx="484.5" cy="60.1" r="2.3"/><circle cx="553.9" cy="64.2" r="2.3"/><circle cx="472.9" cy="48.4" r="2.3"/><circle cx="591.9" cy="123.2" r="2.3"/><circle cx="497.6" cy="73.1" r="2.3"/><circle cx="588.5" cy="138.6" r="2.3"/><circle cx="566.8" cy="111.5" r="2.3"/><circle cx="441.3" cy="35.8" r="2.3"/><circle cx="509.1" cy="66.9" r="2.3"/><circle cx="561.2" cy="78.7" r="2.3"/><circle cx="399.4" cy="40.0" r="2.3"/><circle cx="578.7" cy="84.8" r="2.3"/><circle cx="588.2" cy="121.8" r="2.3"/><circle cx="588.3" cy="135.1" r="2.3"/><circle cx="578.2" cy="129.9" r="2.3"/><circle cx="591.3" cy="139.1" r="2.3"/><circle cx="430.9" cy="46.6" r="2.3"/><circle cx="497.1" cy="74.6" r="2.3"/><circle cx="440.6" cy="46.4" r="2.3"/><circle cx="564.7" cy="78.0" r="2.3"/><circle cx="573.9" cy="123.3" r="2.3"/><circle cx="548.3" cy="72.7" r="2.3"/><circle cx="477.5" cy="80.5" r="2.3"/><circle cx="409.3" cy="26.1" r="2.3"/><circle cx="556.5" cy="83.8" r="2.3"/><circle cx="407.8" cy="22.6" r="2.3"/><circle cx="398.8" cy="9.1" r="2.3"/><circle cx="591.1" cy="115.0" r="2.3"/><circle cx="420.9" cy="29.1" r="2.3"/><circle cx="407.2" cy="17.6" r="2.3"/><circle cx="554.8" cy="72.5" r="2.3"/><circle cx="431.0" cy="37.6" r="2.3"/><circle cx="496.5" cy="79.7" r="2.3"/><circle cx="560.3" cy="90.4" r="2.3"/><circle cx="565.8" cy="59.4" r="2.3"/><circle cx="554.9" cy="70.3" r="2.3"/><circle cx="556.7" cy="76.1" r="2.3"/><circle cx="440.0" cy="22.5" r="2.3"/><circle cx="476.3" cy="59.3" r="2.3"/><circle cx="387.8" cy="30.4" r="2.3"/><circle cx="433.5" cy="39.1" r="2.3"/><circle cx="398.9" cy="39.9" r="2.3"/><circle cx="576.2" cy="113.6" r="2.3"/><circle cx="389.3" cy="42.8" r="2.3"/><circle cx="453.3" cy="53.7" r="2.3"/><circle cx="474.4" cy="78.0" r="2.3"/><circle cx="462.0" cy="50.8" r="2.3"/><circle cx="452.1" cy="32.1" r="2.3"/><circle cx="590.9" cy="127.0" r="2.3"/><circle cx="565.2" cy="83.9" r="2.3"/><circle cx="598.6" cy="116.4" r="2.3"/><circle cx="622.2" cy="174.8" r="2.3"/><circle cx="440.8" cy="40.1" r="2.3"/><circle cx="505.8" cy="60.5" r="2.3"/><circle cx="420.3" cy="14.1" r="2.3"/><circle cx="451.4" cy="36.6" r="2.3"/><circle cx="455.3" cy="52.4" r="2.3"/><circle cx="489.2" cy="87.4" r="2.3"/><circle cx="475.5" cy="69.4" r="2.3"/><circle cx="569.6" cy="65.4" r="2.3"/><circle cx="486.4" cy="52.9" r="2.3"/><circle cx="429.4" cy="48.8" r="2.3"/><circle cx="575.3" cy="102.1" r="2.3"/><circle cx="587.4" cy="96.2" r="2.3"/><circle cx="581.2" cy="118.1" r="2.3"/><circle cx="562.2" cy="103.5" r="2.3"/><circle cx="573.3" cy="84.0" r="2.3"/><circle cx="576.1" cy="81.5" r="2.3"/><circle cx="607.8" cy="149.2" r="2.3"/><circle cx="407.1" cy="15.8" r="2.3"/><circle cx="509.1" cy="77.2" r="2.3"/><circle cx="633.5" cy="174.7" r="2.3"/><circle cx="592.0" cy="134.6" r="2.3"/><circle cx="475.3" cy="72.5" r="2.3"/><circle cx="462.9" cy="46.0" r="2.3"/><circle cx="598.9" cy="135.8" r="2.3"/><circle cx="551.0" cy="109.9" r="2.3"/><circle cx="505.9" cy="69.9" r="2.3"/><circle cx="451.3" cy="38.9" r="2.3"/><circle cx="407.7" cy="0.5" r="2.3"/><circle cx="385.5" cy="2.1" r="2.3"/><circle cx="399.5" cy="22.0" r="2.3"/><circle cx="548.5" cy="66.3" r="2.3"/><circle cx="422.2" cy="50.5" r="2.3"/><circle cx="420.1" cy="19.7" r="2.3"/><circle cx="566.6" cy="105.4" r="2.3"/><circle cx="606.5" cy="171.6" r="2.3"/><circle cx="608.4" cy="172.0" r="2.3"/><circle cx="435.0" cy="48.9" r="2.3"/><circle cx="619.2" cy="178.4" r="2.3"/><circle cx="386.6" cy="22.3" r="2.3"/><circle cx="557.3" cy="65.1" r="2.3"/><circle cx="450.4" cy="32.5" r="2.3"/><circle cx="588.8" cy="110.3" r="2.3"/><circle cx="406.2" cy="16.5" r="2.3"/><circle cx="474.9" cy="56.1" r="2.3"/><circle cx="620.3" cy="165.4" r="2.3"/><circle cx="560.5" cy="90.8" r="2.3"/><circle cx="573.4" cy="93.0" r="2.3"/><circle cx="498.9" cy="81.7" r="2.3"/><circle cx="568.1" cy="109.2" r="2.3"/><circle cx="461.6" cy="36.2" r="2.3"/><circle cx="420.7" cy="33.7" r="2.3"/><circle cx="399.8" cy="15.4" r="2.3"/><circle cx="454.6" cy="51.4" r="2.3"/><circle cx="484.8" cy="73.7" r="2.3"/><circle cx="569.1" cy="73.9" r="2.3"/><circle cx="486.8" cy="67.4" r="2.3"/><circle cx="628.1" cy="158.3" r="2.3"/><circle cx="630.9" cy="146.0" r="2.3"/><circle cx="598.0" cy="110.9" r="2.3"/><circle cx="487.0" cy="74.4" r="2.3"/><circle cx="473.1" cy="48.9" r="2.3"/><circle cx="483.7" cy="50.0" r="2.3"/><circle cx="552.4" cy="81.9" r="2.3"/><circle cx="440.2" cy="42.1" r="2.3"/><circle cx="587.8" cy="129.5" r="2.3"/><circle cx="549.4" cy="66.4" r="2.3"/><circle cx="584.4" cy="106.9" r="2.3"/><circle cx="590.3" cy="116.7" r="2.3"/><circle cx="563.7" cy="65.7" r="2.3"/><circle cx="587.7" cy="125.3" r="2.3"/><circle cx="561.5" cy="80.1" r="2.3"/><circle cx="562.2" cy="85.0" r="2.3"/><circle cx="585.1" cy="103.9" r="2.3"/><circle cx="406.2" cy="20.5" r="2.3"/><circle cx="433.5" cy="56.2" r="2.3"/><circle cx="397.4" cy="28.7" r="2.3"/><circle cx="407.3" cy="13.3" r="2.3"/><circle cx="465.9" cy="52.9" r="2.3"/><circle cx="430.7" cy="39.3" r="2.3"/><circle cx="571.0" cy="93.9" r="2.3"/><circle cx="507.8" cy="80.7" r="2.3"/><circle cx="406.5" cy="25.8" r="2.3"/><circle cx="443.3" cy="27.1" r="2.3"/><circle cx="609.1" cy="174.2" r="2.3"/><circle cx="609.6" cy="165.0" r="2.3"/><circle cx="558.2" cy="65.7" r="2.3"/><circle cx="556.9" cy="61.7" r="2.3"/><circle cx="453.6" cy="60.1" r="2.3"/><circle cx="507.3" cy="87.4" r="2.3"/><circle cx="410.1" cy="42.0" r="2.3"/><circle cx="429.6" cy="44.1" r="2.3"/><circle cx="474.5" cy="61.7" r="2.3"/><circle cx="418.4" cy="36.1" r="2.3"/><circle cx="574.7" cy="102.9" r="2.3"/><circle cx="386.2" cy="10.5" r="2.3"/><circle cx="464.0" cy="61.1" r="2.3"/><circle cx="605.0" cy="137.4" r="2.3"/><circle cx="588.7" cy="97.1" r="2.3"/><circle cx="487.0" cy="58.0" r="2.3"/><circle cx="556.1" cy="81.6" r="2.3"/><circle cx="597.3" cy="137.7" r="2.3"/><circle cx="611.9" cy="154.1" r="2.3"/><circle cx="430.5" cy="37.4" r="2.3"/><circle cx="589.5" cy="107.0" r="2.3"/><circle cx="440.6" cy="30.4" r="2.3"/><circle cx="451.4" cy="42.5" r="2.3"/><circle cx="596.3" cy="125.5" r="2.3"/><circle cx="568.0" cy="96.5" r="2.3"/><circle cx="495.7" cy="66.0" r="2.3"/><circle cx="398.0" cy="10.9" r="2.3"/><circle cx="554.7" cy="79.0" r="2.3"/><circle cx="499.6" cy="89.9" r="2.3"/><circle cx="428.7" cy="29.0" r="2.3"/><circle cx="429.2" cy="49.2" r="2.3"/><circle cx="440.8" cy="42.6" r="2.3"/><circle cx="633.0" cy="139.7" r="2.3"/><circle cx="553.9" cy="90.2" r="2.3"/><circle cx="590.8" cy="116.9" r="2.3"/><circle cx="386.3" cy="31.8" r="2.3"/><circle cx="494.4" cy="57.4" r="2.3"/><circle cx="454.6" cy="41.4" r="2.3"/><circle cx="442.5" cy="51.3" r="2.3"/><circle cx="586.9" cy="108.9" r="2.3"/><circle cx="621.3" cy="177.5" r="2.3"/><circle cx="440.7" cy="52.2" r="2.3"/><circle cx="556.4" cy="83.0" r="2.3"/><circle cx="397.3" cy="34.1" r="2.3"/><circle cx="632.8" cy="169.3" r="2.3"/><circle cx="615.7" cy="170.2" r="2.3"/><circle cx="551.6" cy="41.0" r="2.3"/><circle cx="561.4" cy="105.8" r="2.3"/><circle cx="431.2" cy="38.2" r="2.3"/><circle cx="597.5" cy="126.6" r="2.3"/><circle cx="486.8" cy="65.4" r="2.3"/><circle cx="601.5" cy="147.9" r="2.3"/><circle cx="420.9" cy="15.4" r="2.3"/><circle cx="624.0" cy="171.7" r="2.3"/><circle cx="396.9" cy="13.7" r="2.3"/><circle cx="581.4" cy="105.7" r="2.3"/><circle cx="563.5" cy="56.6" r="2.3"/><circle cx="571.3" cy="124.4" r="2.3"/><circle cx="396.7" cy="14.6" r="2.3"/><circle cx="508.0" cy="78.8" r="2.3"/><circle cx="615.5" cy="117.2" r="2.3"/><circle cx="601.3" cy="141.4" r="2.3"/><circle cx="418.9" cy="32.1" r="2.3"/><circle cx="584.4" cy="110.1" r="2.3"/><circle cx="473.5" cy="54.0" r="2.3"/><circle cx="632.2" cy="172.5" r="2.3"/><circle cx="508.8" cy="86.2" r="2.3"/><circle cx="577.7" cy="89.6" r="2.3"/><circle cx="485.0" cy="60.2" r="2.3"/><circle cx="590.9" cy="111.1" r="2.3"/><circle cx="551.4" cy="74.0" r="2.3"/><circle cx="609.7" cy="109.3" r="2.3"/><circle cx="451.2" cy="33.0" r="2.3"/><circle cx="500.4" cy="81.0" r="2.3"/><circle cx="384.9" cy="7.7" r="2.3"/><circle cx="508.3" cy="78.4" r="2.3"/><circle cx="594.7" cy="95.4" r="2.3"/><circle cx="439.7" cy="44.1" r="2.3"/><circle cx="620.2" cy="175.1" r="2.3"/><circle cx="428.5" cy="47.1" r="2.3"/><circle cx="440.9" cy="25.7" r="2.3"/><circle cx="570.9" cy="83.9" r="2.3"/><circle cx="443.7" cy="58.5" r="2.3"/><circle cx="431.6" cy="32.2" r="2.3"/><circle cx="597.4" cy="133.4" r="2.3"/><circle cx="421.3" cy="35.8" r="2.3"/><circle cx="442.4" cy="45.7" r="2.3"/><circle cx="621.2" cy="168.2" r="2.3"/><circle cx="558.6" cy="102.5" r="2.3"/><circle cx="596.0" cy="115.4" r="2.3"/><circle cx="388.4" cy="17.1" r="2.3"/><circle cx="507.2" cy="61.9" r="2.3"/><circle cx="569.0" cy="110.0" r="2.3"/><circle cx="409.1" cy="26.1" r="2.3"/><circle cx="581.8" cy="102.0" r="2.3"/><circle cx="549.6" cy="56.0" r="2.3"/><circle cx="494.4" cy="53.4" r="2.3"/><circle cx="568.9" cy="73.4" r="2.3"/><circle cx="589.4" cy="102.6" r="2.3"/><circle cx="574.7" cy="117.1" r="2.3"/><circle cx="617.6" cy="175.8" r="2.3"/><circle cx="563.9" cy="100.3" r="2.3"/><circle cx="396.6" cy="21.9" r="2.3"/><circle cx="583.2" cy="96.9" r="2.3"/><circle cx="563.0" cy="77.9" r="2.3"/><circle cx="400.3" cy="21.4" r="2.3"/><circle cx="546.8" cy="58.7" r="2.3"/><circle cx="420.2" cy="39.8" r="2.3"/><circle cx="587.7" cy="102.5" r="2.3"/><circle cx="506.2" cy="70.3" r="2.3"/><circle cx="485.9" cy="62.1" r="2.3"/><circle cx="633.3" cy="162.1" r="2.3"/><circle cx="453.1" cy="45.2" r="2.3"/><circle cx="546.4" cy="58.0" r="2.3"/><circle cx="442.2" cy="59.1" r="2.3"/><circle cx="569.4" cy="112.5" r="2.3"/><circle cx="386.8" cy="24.6" r="2.3"/><circle cx="496.9" cy="89.8" r="2.3"/><circle cx="621.3" cy="174.3" r="2.3"/><circle cx="589.4" cy="131.7" r="2.3"/><circle cx="579.1" cy="116.5" r="2.3"/><circle cx="578.7" cy="103.0" r="2.3"/><circle cx="577.6" cy="106.5" r="2.3"/><circle cx="583.1" cy="88.7" r="2.3"/><circle cx="554.2" cy="84.8" r="2.3"/><circle cx="633.2" cy="131.2" r="2.3"/><circle cx="440.9" cy="44.9" r="2.3"/><circle cx="635.0" cy="172.8" r="2.3"/><circle cx="475.2" cy="50.5" r="2.3"/><circle cx="604.9" cy="144.7" r="2.3"/><circle cx="410.0" cy="21.7" r="2.3"/><circle cx="575.5" cy="75.0" r="2.3"/><circle cx="442.5" cy="34.7" r="2.3"/><circle cx="551.0" cy="80.6" r="2.3"/><circle cx="558.1" cy="86.5" r="2.3"/><circle cx="581.1" cy="119.1" r="2.3"/><circle cx="398.4" cy="1.7" r="2.3"/><circle cx="614.8" cy="174.8" r="2.3"/><circle cx="571.3" cy="94.1" r="2.3"/><circle cx="556.1" cy="108.4" r="2.3"/><circle cx="440.4" cy="22.1" r="2.3"/><circle cx="398.9" cy="24.8" r="2.3"/><circle cx="616.8" cy="144.8" r="2.3"/><circle cx="582.4" cy="84.9" r="2.3"/><circle cx="566.8" cy="67.4" r="2.3"/><circle cx="560.0" cy="95.3" r="2.3"/><circle cx="442.6" cy="38.8" r="2.3"/><circle cx="505.8" cy="63.4" r="2.3"/><circle cx="472.2" cy="55.3" r="2.3"/><circle cx="409.6" cy="24.7" r="2.3"/><circle cx="556.4" cy="93.3" r="2.3"/><circle cx="587.3" cy="83.3" r="2.3"/><circle cx="495.3" cy="60.4" r="2.3"/><circle cx="499.4" cy="79.8" r="2.3"/><circle cx="582.5" cy="84.4" r="2.3"/><circle cx="568.8" cy="106.6" r="2.3"/><circle cx="388.5" cy="19.1" r="2.3"/><circle cx="600.9" cy="120.6" r="2.3"/><circle cx="463.6" cy="61.3" r="2.3"/><circle cx="619.5" cy="76.2" r="2.3"/><circle cx="508.3" cy="75.3" r="2.3"/><circle cx="441.9" cy="40.2" r="2.3"/><circle cx="387.5" cy="30.0" r="2.3"/><circle cx="410.7" cy="17.2" r="2.3"/><circle cx="583.0" cy="99.7" r="2.3"/><circle cx="612.3" cy="139.1" r="2.3"/><circle cx="484.0" cy="60.4" r="2.3"/><circle cx="410.0" cy="30.6" r="2.3"/><circle cx="417.3" cy="6.8" r="2.3"/><circle cx="453.1" cy="35.6" r="2.3"/><circle cx="567.4" cy="73.1" r="2.3"/><circle cx="408.5" cy="20.4" r="2.3"/><circle cx="570.4" cy="86.3" r="2.3"/><circle cx="547.8" cy="40.7" r="2.3"/><circle cx="566.0" cy="105.2" r="2.3"/><circle cx="430.3" cy="32.2" r="2.3"/><circle cx="488.4" cy="58.6" r="2.3"/><circle cx="623.5" cy="176.5" r="2.3"/><circle cx="582.5" cy="97.9" r="2.3"/><circle cx="507.2" cy="78.5" r="2.3"/><circle cx="484.9" cy="81.4" r="2.3"/><circle cx="506.9" cy="70.2" r="2.3"/><circle cx="378.7" cy="25.0" r="2.3"/><circle cx="620.7" cy="163.0" r="2.3"/><circle cx="545.9" cy="92.0" r="2.3"/><circle cx="551.2" cy="85.9" r="2.3"/><circle cx="598.2" cy="118.4" r="2.3"/><circle cx="484.3" cy="50.2" r="2.3"/><circle cx="510.1" cy="81.6" r="2.3"/><circle cx="460.0" cy="39.5" r="2.3"/><circle cx="407.9" cy="7.4" r="2.3"/><circle cx="465.8" cy="52.5" r="2.3"/><circle cx="398.9" cy="27.5" r="2.3"/><circle cx="552.4" cy="90.2" r="2.3"/><circle cx="580.8" cy="123.8" r="2.3"/><circle cx="585.2" cy="71.6" r="2.3"/><circle cx="551.0" cy="81.5" r="2.3"/><circle cx="455.3" cy="61.9" r="2.3"/><circle cx="486.7" cy="63.9" r="2.3"/><circle cx="599.0" cy="142.0" r="2.3"/><circle cx="562.5" cy="101.1" r="2.3"/><circle cx="547.6" cy="74.4" r="2.3"/><circle cx="506.9" cy="62.3" r="2.3"/><circle cx="387.5" cy="23.7" r="2.3"/><circle cx="452.5" cy="46.8" r="2.3"/><circle cx="588.4" cy="125.0" r="2.3"/><circle cx="576.6" cy="94.4" r="2.3"/><circle cx="553.4" cy="76.4" r="2.3"/><circle cx="595.8" cy="104.3" r="2.3"/><circle cx="546.1" cy="64.4" r="2.3"/><circle cx="510.3" cy="82.0" r="2.3"/><circle cx="486.7" cy="55.3" r="2.3"/><circle cx="587.0" cy="115.7" r="2.3"/><circle cx="586.9" cy="124.2" r="2.3"/><circle cx="599.3" cy="113.9" r="2.3"/><circle cx="547.4" cy="60.8" r="2.3"/><circle cx="551.9" cy="88.1" r="2.3"/><circle cx="627.5" cy="170.5" r="2.3"/><circle cx="457.1" cy="64.0" r="2.3"/><circle cx="489.5" cy="58.7" r="2.3"/><circle cx="450.3" cy="35.3" r="2.3"/><circle cx="485.2" cy="60.0" r="2.3"/><circle cx="400.2" cy="39.7" r="2.3"/><circle cx="588.5" cy="120.9" r="2.3"/><circle cx="506.2" cy="78.7" r="2.3"/><circle cx="594.1" cy="128.0" r="2.3"/><circle cx="572.8" cy="92.4" r="2.3"/><circle cx="564.7" cy="84.3" r="2.3"/><circle cx="484.3" cy="46.2" r="2.3"/><circle cx="630.3" cy="177.5" r="2.3"/><circle cx="558.2" cy="70.1" r="2.3"/><circle cx="464.1" cy="46.2" r="2.3"/><circle cx="477.2" cy="68.7" r="2.3"/><circle cx="473.8" cy="56.1" r="2.3"/><circle cx="606.3" cy="152.6" r="2.3"/><circle cx="602.4" cy="145.3" r="2.3"/><circle cx="579.1" cy="59.9" r="2.3"/><circle cx="603.6" cy="161.5" r="2.3"/><circle cx="560.5" cy="35.7" r="2.3"/><circle cx="577.0" cy="59.1" r="2.3"/><circle cx="546.8" cy="84.7" r="2.3"/><circle cx="587.1" cy="125.4" r="2.3"/><circle cx="396.8" cy="3.9" r="2.3"/><circle cx="564.5" cy="101.5" r="2.3"/><circle cx="588.8" cy="129.2" r="2.3"/><circle cx="605.6" cy="174.4" r="2.3"/><circle cx="582.7" cy="107.6" r="2.3"/><circle cx="622.8" cy="89.1" r="2.3"/><circle cx="452.9" cy="34.6" r="2.3"/><circle cx="432.4" cy="40.1" r="2.3"/><circle cx="464.7" cy="67.1" r="2.3"/><circle cx="596.1" cy="139.9" r="2.3"/><circle cx="431.2" cy="53.8" r="2.3"/><circle cx="593.0" cy="123.4" r="2.3"/><circle cx="444.9" cy="52.1" r="2.3"/><circle cx="588.4" cy="125.0" r="2.3"/><circle cx="387.6" cy="3.8" r="2.3"/><circle cx="389.8" cy="8.3" r="2.3"/><circle cx="507.8" cy="71.5" r="2.3"/><circle cx="562.9" cy="84.2" r="2.3"/><circle cx="564.7" cy="89.0" r="2.3"/><circle cx="507.8" cy="72.6" r="2.3"/><circle cx="477.1" cy="68.6" r="2.3"/><circle cx="570.3" cy="94.6" r="2.3"/><circle cx="475.8" cy="57.4" r="2.3"/><circle cx="450.6" cy="38.7" r="2.3"/><circle cx="575.6" cy="87.0" r="2.3"/><circle cx="421.9" cy="18.3" r="2.3"/><circle cx="578.2" cy="116.6" r="2.3"/><circle cx="429.7" cy="29.1" r="2.3"/><circle cx="508.8" cy="57.8" r="2.3"/><circle cx="551.2" cy="99.2" r="2.3"/><circle cx="410.7" cy="43.2" r="2.3"/><circle cx="420.9" cy="22.7" r="2.3"/><circle cx="599.3" cy="156.2" r="2.3"/><circle cx="581.1" cy="121.0" r="2.3"/><circle cx="576.1" cy="87.7" r="2.3"/><circle cx="628.9" cy="176.9" r="2.3"/><circle cx="545.3" cy="75.4" r="2.3"/><circle cx="452.7" cy="49.9" r="2.3"/><circle cx="389.8" cy="29.6" r="2.3"/><circle cx="432.4" cy="31.0" r="2.3"/><circle cx="462.8" cy="55.6" r="2.3"/><circle cx="570.9" cy="55.8" r="2.3"/><circle cx="400.9" cy="21.7" r="2.3"/><circle cx="617.3" cy="152.5" r="2.3"/><circle cx="452.9" cy="70.8" r="2.3"/><circle cx="549.1" cy="74.5" r="2.3"/><circle cx="596.7" cy="137.6" r="2.3"/><circle cx="451.9" cy="58.3" r="2.3"/><circle cx="475.6" cy="53.6" r="2.3"/><circle cx="598.5" cy="137.7" r="2.3"/><circle cx="386.5" cy="23.9" r="2.3"/><circle cx="597.6" cy="118.6" r="2.3"/><circle cx="577.6" cy="123.3" r="2.3"/><circle cx="485.3" cy="75.5" r="2.3"/><circle cx="615.9" cy="117.5" r="2.3"/><circle cx="596.0" cy="147.0" r="2.3"/><circle cx="569.3" cy="112.7" r="2.3"/><circle cx="633.3" cy="178.0" r="2.3"/><circle cx="568.2" cy="93.4" r="2.3"/><circle cx="571.7" cy="77.3" r="2.3"/><circle cx="484.6" cy="65.2" r="2.3"/><circle cx="463.5" cy="57.3" r="2.3"/><circle cx="583.6" cy="92.2" r="2.3"/><circle cx="634.7" cy="156.5" r="2.3"/><circle cx="389.3" cy="42.6" r="2.3"/><circle cx="566.5" cy="68.9" r="2.3"/><circle cx="621.6" cy="167.5" r="2.3"/><circle cx="443.1" cy="49.8" r="2.3"/><circle cx="604.4" cy="146.2" r="2.3"/><circle cx="606.5" cy="138.9" r="2.3"/><circle cx="444.4" cy="45.4" r="2.3"/><circle cx="630.1" cy="154.7" r="2.3"/><circle cx="511.8" cy="88.7" r="2.3"/><circle cx="577.2" cy="66.8" r="2.3"/><circle cx="574.3" cy="83.4" r="2.3"/><circle cx="563.3" cy="73.3" r="2.3"/><circle cx="477.2" cy="81.3" r="2.3"/><circle cx="595.6" cy="126.8" r="2.3"/><circle cx="408.6" cy="30.1" r="2.3"/><circle cx="556.0" cy="113.5" r="2.3"/><circle cx="589.6" cy="125.3" r="2.3"/><circle cx="387.6" cy="21.1" r="2.3"/><circle cx="568.4" cy="82.4" r="2.3"/><circle cx="548.3" cy="76.0" r="2.3"/><circle cx="452.8" cy="58.3" r="2.3"/><circle cx="454.6" cy="60.4" r="2.3"/><circle cx="465.3" cy="65.1" r="2.3"/><circle cx="387.7" cy="9.3" r="2.3"/><circle cx="553.5" cy="58.0" r="2.3"/><circle cx="464.6" cy="54.8" r="2.3"/><circle cx="465.0" cy="58.5" r="2.3"/><circle cx="634.4" cy="177.5" r="2.3"/><circle cx="396.8" cy="6.6" r="2.3"/><circle cx="619.7" cy="177.6" r="2.3"/><circle cx="430.3" cy="18.2" r="2.3"/><circle cx="630.0" cy="120.2" r="2.3"/><circle cx="384.7" cy="4.2" r="2.3"/><circle cx="564.1" cy="98.8" r="2.3"/><circle cx="546.0" cy="76.7" r="2.3"/><circle cx="497.0" cy="69.2" r="2.3"/><circle cx="496.3" cy="88.0" r="2.3"/><circle cx="570.9" cy="99.7" r="2.3"/><circle cx="390.1" cy="28.7" r="2.3"/><circle cx="582.0" cy="102.7" r="2.3"/><circle cx="589.3" cy="97.3" r="2.3"/><circle cx="629.2" cy="166.6" r="2.3"/><circle cx="406.2" cy="19.6" r="2.3"/><circle cx="564.3" cy="99.4" r="2.3"/><circle cx="427.0" cy="22.3" r="2.3"/><circle cx="476.4" cy="56.9" r="2.3"/><circle cx="575.9" cy="70.6" r="2.3"/><circle cx="574.1" cy="111.3" r="2.3"/><circle cx="484.0" cy="65.2" r="2.3"/><circle cx="607.7" cy="154.1" r="2.3"/><circle cx="417.4" cy="17.4" r="2.3"/><circle cx="602.7" cy="124.5" r="2.3"/><circle cx="467.0" cy="74.1" r="2.3"/><circle cx="567.1" cy="87.0" r="2.3"/><circle cx="631.0" cy="175.5" r="2.3"/><circle cx="388.3" cy="26.7" r="2.3"/><circle cx="422.6" cy="47.0" r="2.3"/><circle cx="613.8" cy="129.8" r="2.3"/><circle cx="585.5" cy="104.6" r="2.3"/><circle cx="452.3" cy="59.3" r="2.3"/><circle cx="397.6" cy="11.3" r="2.3"/><circle cx="558.1" cy="81.9" r="2.3"/><circle cx="497.7" cy="86.4" r="2.3"/><circle cx="625.1" cy="167.1" r="2.3"/><circle cx="398.5" cy="9.5" r="2.3"/><circle cx="581.3" cy="123.7" r="2.3"/><circle cx="589.2" cy="121.0" r="2.3"/><circle cx="497.2" cy="70.7" r="2.3"/><circle cx="466.0" cy="56.3" r="2.3"/><circle cx="598.2" cy="132.6" r="2.3"/><circle cx="482.0" cy="56.9" r="2.3"/><circle cx="408.7" cy="21.8" r="2.3"/><circle cx="584.9" cy="100.0" r="2.3"/><circle cx="596.8" cy="136.4" r="2.3"/><circle cx="577.9" cy="113.4" r="2.3"/><circle cx="551.7" cy="87.8" r="2.3"/><circle cx="548.1" cy="73.0" r="2.3"/><circle cx="462.2" cy="39.9" r="2.3"/><circle cx="578.4" cy="109.5" r="2.3"/><circle cx="420.7" cy="49.4" r="2.3"/><circle cx="562.9" cy="57.4" r="2.3"/><circle cx="397.0" cy="23.8" r="2.3"/><circle cx="463.1" cy="39.0" r="2.3"/><circle cx="385.9" cy="7.8" r="2.3"/><circle cx="385.7" cy="2.9" r="2.3"/><circle cx="552.5" cy="64.4" r="2.3"/><circle cx="566.4" cy="119.9" r="2.3"/><circle cx="385.1" cy="3.0" r="2.3"/><circle cx="548.6" cy="52.5" r="2.3"/><circle cx="387.1" cy="13.2" r="2.3"/><circle cx="462.1" cy="42.7" r="2.3"/><circle cx="545.8" cy="66.0" r="2.3"/><circle cx="505.8" cy="68.2" r="2.3"/><circle cx="433.1" cy="52.3" r="2.3"/><circle cx="592.2" cy="95.9" r="2.3"/><circle cx="431.5" cy="32.3" r="2.3"/><circle cx="604.3" cy="153.4" r="2.3"/><circle cx="549.6" cy="73.1" r="2.3"/><circle cx="390.5" cy="1.3" r="2.3"/><circle cx="430.3" cy="37.6" r="2.3"/><circle cx="504.5" cy="59.3" r="2.3"/><circle cx="589.7" cy="107.6" r="2.3"/><circle cx="604.9" cy="167.4" r="2.3"/><circle cx="587.0" cy="115.2" r="2.3"/><circle cx="444.2" cy="49.1" r="2.3"/><circle cx="464.5" cy="43.4" r="2.3"/><circle cx="580.2" cy="124.3" r="2.3"/><circle cx="570.8" cy="110.8" r="2.3"/><circle cx="611.6" cy="125.9" r="2.3"/><circle cx="557.1" cy="100.5" r="2.3"/><circle cx="433.1" cy="41.1" r="2.3"/><circle cx="592.2" cy="142.9" r="2.3"/><circle cx="570.8" cy="118.1" r="2.3"/><circle cx="487.5" cy="70.4" r="2.3"/><circle cx="484.7" cy="72.2" r="2.3"/><circle cx="453.0" cy="56.2" r="2.3"/><circle cx="599.6" cy="138.5" r="2.3"/><circle cx="455.3" cy="53.9" r="2.3"/><circle cx="560.4" cy="90.5" r="2.3"/><circle cx="453.4" cy="62.4" r="2.3"/><circle cx="623.5" cy="167.3" r="2.3"/><circle cx="464.1" cy="56.8" r="2.3"/><circle cx="587.4" cy="136.8" r="2.3"/><circle cx="577.3" cy="105.9" r="2.3"/><circle cx="621.3" cy="162.9" r="2.3"/><circle cx="476.1" cy="59.2" r="2.3"/><circle cx="600.4" cy="122.9" r="2.3"/><circle cx="585.2" cy="122.2" r="2.3"/><circle cx="566.8" cy="72.0" r="2.3"/><circle cx="558.4" cy="50.4" r="2.3"/><circle cx="592.8" cy="122.6" r="2.3"/><circle cx="552.8" cy="56.8" r="2.3"/><circle cx="439.8" cy="43.4" r="2.3"/><circle cx="548.7" cy="84.9" r="2.3"/><circle cx="569.0" cy="93.4" r="2.3"/><circle cx="554.1" cy="92.3" r="2.3"/><circle cx="485.4" cy="54.8" r="2.3"/><circle cx="625.6" cy="175.9" r="2.3"/><circle cx="462.9" cy="59.9" r="2.3"/><circle cx="464.2" cy="57.8" r="2.3"/><circle cx="431.7" cy="13.2" r="2.3"/><circle cx="496.9" cy="78.6" r="2.3"/><circle cx="556.0" cy="80.2" r="2.3"/><circle cx="590.9" cy="119.0" r="2.3"/><circle cx="574.7" cy="125.0" r="2.3"/><circle cx="431.2" cy="37.3" r="2.3"/><circle cx="507.5" cy="59.1" r="2.3"/><circle cx="400.3" cy="44.4" r="2.3"/><circle cx="485.3" cy="53.5" r="2.3"/><circle cx="584.2" cy="124.5" r="2.3"/><circle cx="508.3" cy="83.1" r="2.3"/><circle cx="431.2" cy="28.3" r="2.3"/><circle cx="581.4" cy="75.8" r="2.3"/><circle cx="578.8" cy="108.6" r="2.3"/><circle cx="594.2" cy="106.8" r="2.3"/><circle cx="585.5" cy="103.0" r="2.3"/><circle cx="407.9" cy="26.6" r="2.3"/><circle cx="591.0" cy="124.0" r="2.3"/><circle cx="421.4" cy="39.8" r="2.3"/><circle cx="602.6" cy="138.2" r="2.3"/><circle cx="587.3" cy="99.6" r="2.3"/><circle cx="433.2" cy="47.7" r="2.3"/><circle cx="452.2" cy="62.7" r="2.3"/><circle cx="410.8" cy="34.0" r="2.3"/><circle cx="577.6" cy="108.3" r="2.3"/><circle cx="483.8" cy="53.2" r="2.3"/><circle cx="452.2" cy="38.7" r="2.3"/><circle cx="444.3" cy="46.3" r="2.3"/><circle cx="586.8" cy="104.5" r="2.3"/><circle cx="379.4" cy="18.5" r="2.3"/><circle cx="477.6" cy="62.7" r="2.3"/><circle cx="433.5" cy="52.0" r="2.3"/><circle cx="474.2" cy="46.5" r="2.3"/><circle cx="564.2" cy="64.1" r="2.3"/><circle cx="584.3" cy="102.3" r="2.3"/><circle cx="466.4" cy="66.3" r="2.3"/><circle cx="484.0" cy="54.5" r="2.3"/><circle cx="601.5" cy="126.6" r="2.3"/><circle cx="575.9" cy="111.9" r="2.3"/><circle cx="557.6" cy="59.5" r="2.3"/><circle cx="509.4" cy="93.3" r="2.3"/><circle cx="547.4" cy="39.9" r="2.3"/><circle cx="602.1" cy="122.8" r="2.3"/><circle cx="439.3" cy="18.5" r="2.3"/><circle cx="597.8" cy="138.6" r="2.3"/><circle cx="626.8" cy="160.4" r="2.3"/><circle cx="550.3" cy="74.1" r="2.3"/><circle cx="440.6" cy="36.3" r="2.3"/><circle cx="496.0" cy="60.7" r="2.3"/><circle cx="431.5" cy="32.1" r="2.3"/><circle cx="604.5" cy="157.8" r="2.3"/><circle cx="407.4" cy="29.2" r="2.3"/><circle cx="582.5" cy="100.0" r="2.3"/><circle cx="379.8" cy="33.7" r="2.3"/><circle cx="441.5" cy="34.7" r="2.3"/><circle cx="562.3" cy="109.6" r="2.3"/><circle cx="385.8" cy="31.7" r="2.3"/><circle cx="508.8" cy="77.0" r="2.3"/><circle cx="569.5" cy="91.6" r="2.3"/><circle cx="462.4" cy="55.0" r="2.3"/><circle cx="398.0" cy="5.9" r="2.3"/><circle cx="576.5" cy="111.2" r="2.3"/><circle cx="495.2" cy="55.2" r="2.3"/><circle cx="580.0" cy="95.5" r="2.3"/><circle cx="461.3" cy="38.4" r="2.3"/><circle cx="421.7" cy="73.0" r="2.3"/><circle cx="587.3" cy="108.7" r="2.3"/><circle cx="629.1" cy="174.2" r="2.3"/><circle cx="585.5" cy="99.9" r="2.3"/><circle cx="452.5" cy="45.5" r="2.3"/><circle cx="548.7" cy="91.9" r="2.3"/><circle cx="551.2" cy="76.9" r="2.3"/><circle cx="553.6" cy="88.7" r="2.3"/><circle cx="565.6" cy="94.0" r="2.3"/><circle cx="508.9" cy="80.7" r="2.3"/><circle cx="489.2" cy="83.0" r="2.3"/><circle cx="635.1" cy="174.7" r="2.3"/><circle cx="553.1" cy="88.8" r="2.3"/><circle cx="422.1" cy="32.9" r="2.3"/><circle cx="497.9" cy="83.2" r="2.3"/><circle cx="388.1" cy="20.1" r="2.3"/><circle cx="574.9" cy="100.6" r="2.3"/><circle cx="386.3" cy="13.9" r="2.3"/><circle cx="494.3" cy="51.6" r="2.3"/><circle cx="452.5" cy="39.4" r="2.3"/><circle cx="604.3" cy="154.6" r="2.3"/><circle cx="560.3" cy="91.8" r="2.3"/><circle cx="474.2" cy="50.8" r="2.3"/><circle cx="583.4" cy="105.6" r="2.3"/><circle cx="551.7" cy="84.8" r="2.3"/><circle cx="497.7" cy="76.2" r="2.3"/><circle cx="463.9" cy="65.5" r="2.3"/><circle cx="591.4" cy="143.1" r="2.3"/><circle cx="554.2" cy="78.8" r="2.3"/><circle cx="486.7" cy="74.3" r="2.3"/><circle cx="454.6" cy="52.6" r="2.3"/><circle cx="442.1" cy="55.0" r="2.3"/><circle cx="477.3" cy="73.9" r="2.3"/><circle cx="441.7" cy="27.1" r="2.3"/><circle cx="596.5" cy="132.2" r="2.3"/><circle cx="485.8" cy="71.4" r="2.3"/><circle cx="453.0" cy="55.1" r="2.3"/><circle cx="509.1" cy="75.3" r="2.3"/><circle cx="587.3" cy="93.0" r="2.3"/><circle cx="557.3" cy="73.4" r="2.3"/><circle cx="563.9" cy="93.1" r="2.3"/><circle cx="580.8" cy="77.3" r="2.3"/><circle cx="587.0" cy="134.6" r="2.3"/><circle cx="597.0" cy="138.5" r="2.3"/><circle cx="468.6" cy="78.3" r="2.3"/><circle cx="571.3" cy="82.1" r="2.3"/><circle cx="474.3" cy="65.6" r="2.3"/><circle cx="576.3" cy="69.7" r="2.3"/><circle cx="557.2" cy="70.3" r="2.3"/><circle cx="396.6" cy="19.1" r="2.3"/><circle cx="496.0" cy="59.3" r="2.3"/><circle cx="509.0" cy="80.3" r="2.3"/><circle cx="553.3" cy="89.4" r="2.3"/><circle cx="634.4" cy="175.9" r="2.3"/><circle cx="591.0" cy="136.5" r="2.3"/><circle cx="470.2" cy="80.6" r="2.3"/><circle cx="472.5" cy="52.4" r="2.3"/><circle cx="545.5" cy="62.3" r="2.3"/><circle cx="432.6" cy="39.1" r="2.3"/><circle cx="408.7" cy="45.0" r="2.3"/><circle cx="551.0" cy="69.1" r="2.3"/><circle cx="509.2" cy="74.8" r="2.3"/><circle cx="618.1" cy="164.8" r="2.3"/><circle cx="600.4" cy="118.7" r="2.3"/><circle cx="397.6" cy="19.3" r="2.3"/><circle cx="594.3" cy="137.1" r="2.3"/><circle cx="570.2" cy="77.8" r="2.3"/><circle cx="407.9" cy="37.6" r="2.3"/><circle cx="399.4" cy="24.1" r="2.3"/><circle cx="419.0" cy="16.4" r="2.3"/><circle cx="568.5" cy="94.6" r="2.3"/><circle cx="454.1" cy="49.6" r="2.3"/><circle cx="556.4" cy="97.0" r="2.3"/><circle cx="397.6" cy="30.7" r="2.3"/><circle cx="548.2" cy="70.0" r="2.3"/><circle cx="429.7" cy="32.2" r="2.3"/><circle cx="408.0" cy="14.0" r="2.3"/><circle cx="511.5" cy="92.5" r="2.3"/><circle cx="554.6" cy="113.3" r="2.3"/><circle cx="475.1" cy="66.8" r="2.3"/><circle cx="554.8" cy="85.5" r="2.3"/><circle cx="622.9" cy="177.5" r="2.3"/><circle cx="496.4" cy="65.7" r="2.3"/><circle cx="441.1" cy="18.8" r="2.3"/><circle cx="607.9" cy="111.3" r="2.3"/><circle cx="505.6" cy="70.4" r="2.3"/><circle cx="499.0" cy="78.7" r="2.3"/><circle cx="561.4" cy="99.5" r="2.3"/><circle cx="408.2" cy="21.5" r="2.3"/><circle cx="409.0" cy="18.9" r="2.3"/><circle cx="561.2" cy="66.1" r="2.3"/><circle cx="494.6" cy="77.3" r="2.3"/><circle cx="609.1" cy="173.7" r="2.3"/><circle cx="398.7" cy="0.7" r="2.3"/><circle cx="599.3" cy="147.0" r="2.3"/><circle cx="545.4" cy="77.8" r="2.3"/><circle cx="566.4" cy="91.4" r="2.3"/><circle cx="587.6" cy="104.3" r="2.3"/><circle cx="410.0" cy="35.5" r="2.3"/><circle cx="440.4" cy="48.2" r="2.3"/><circle cx="625.7" cy="172.5" r="2.3"/><circle cx="629.1" cy="163.1" r="2.3"/><circle cx="564.0" cy="77.2" r="2.3"/><circle cx="603.1" cy="145.1" r="2.3"/><circle cx="575.6" cy="113.0" r="2.3"/><circle cx="408.7" cy="36.4" r="2.3"/><circle cx="398.0" cy="30.2" r="2.3"/><circle cx="448.6" cy="27.9" r="2.3"/><circle cx="567.5" cy="74.8" r="2.3"/><circle cx="563.5" cy="95.0" r="2.3"/><circle cx="398.3" cy="18.4" r="2.3"/><circle cx="601.8" cy="153.8" r="2.3"/><circle cx="598.2" cy="146.4" r="2.3"/><circle cx="565.2" cy="105.8" r="2.3"/><circle cx="510.1" cy="86.6" r="2.3"/><circle cx="387.5" cy="21.3" r="2.3"/><circle cx="496.4" cy="78.5" r="2.3"/><circle cx="587.2" cy="122.2" r="2.3"/><circle cx="462.4" cy="66.0" r="2.3"/><circle cx="582.2" cy="109.2" r="2.3"/><circle cx="574.9" cy="120.9" r="2.3"/><circle cx="460.8" cy="48.2" r="2.3"/><circle cx="594.9" cy="133.8" r="2.3"/><circle cx="620.9" cy="158.8" r="2.3"/><circle cx="452.8" cy="55.1" r="2.3"/><circle cx="568.5" cy="87.8" r="2.3"/><circle cx="465.1" cy="66.5" r="2.3"/><circle cx="613.5" cy="168.3" r="2.3"/><circle cx="554.7" cy="103.1" r="2.3"/><circle cx="586.8" cy="109.1" r="2.3"/><circle cx="570.9" cy="95.0" r="2.3"/><circle cx="565.3" cy="81.3" r="2.3"/><circle cx="578.9" cy="83.3" r="2.3"/><circle cx="441.7" cy="28.5" r="2.3"/><circle cx="632.7" cy="178.1" r="2.3"/><circle cx="453.7" cy="59.8" r="2.3"/><circle cx="577.1" cy="94.3" r="2.3"/><circle cx="431.2" cy="36.9" r="2.3"/><circle cx="431.0" cy="20.9" r="2.3"/><circle cx="617.2" cy="160.5" r="2.3"/><circle cx="557.3" cy="97.2" r="2.3"/><circle cx="507.2" cy="64.7" r="2.3"/><circle cx="589.3" cy="101.7" r="2.3"/><circle cx="476.3" cy="58.7" r="2.3"/><circle cx="444.3" cy="59.2" r="2.3"/><circle cx="550.4" cy="95.4" r="2.3"/><circle cx="476.0" cy="69.1" r="2.3"/><circle cx="633.3" cy="147.1" r="2.3"/><circle cx="625.1" cy="169.4" r="2.3"/><circle cx="553.5" cy="58.1" r="2.3"/><circle cx="559.7" cy="70.5" r="2.3"/><circle cx="578.9" cy="115.4" r="2.3"/><circle cx="630.0" cy="168.4" r="2.3"/><circle cx="550.2" cy="92.1" r="2.3"/><circle cx="569.1" cy="114.8" r="2.3"/><circle cx="465.2" cy="65.0" r="2.3"/><circle cx="433.2" cy="41.8" r="2.3"/><circle cx="604.1" cy="171.4" r="2.3"/><circle cx="408.8" cy="20.2" r="2.3"/><circle cx="553.0" cy="97.7" r="2.3"/><circle cx="499.5" cy="77.8" r="2.3"/><circle cx="431.3" cy="43.0" r="2.3"/><circle cx="573.1" cy="107.3" r="2.3"/><circle cx="431.8" cy="40.3" r="2.3"/><circle cx="397.9" cy="11.9" r="2.3"/><circle cx="546.4" cy="65.1" r="2.3"/><circle cx="474.9" cy="46.6" r="2.3"/><circle cx="587.9" cy="95.1" r="2.3"/><circle cx="565.5" cy="107.6" r="2.3"/><circle cx="631.7" cy="174.0" r="2.3"/><circle cx="588.6" cy="98.4" r="2.3"/><circle cx="595.3" cy="121.7" r="2.3"/><circle cx="442.4" cy="61.6" r="2.3"/><circle cx="417.0" cy="26.1" r="2.3"/><circle cx="614.1" cy="172.6" r="2.3"/><circle cx="558.5" cy="53.6" r="2.3"/><circle cx="440.1" cy="48.7" r="2.3"/><circle cx="464.1" cy="45.3" r="2.3"/><circle cx="485.3" cy="59.2" r="2.3"/><circle cx="565.2" cy="100.5" r="2.3"/><circle cx="449.8" cy="39.4" r="2.3"/><circle cx="598.1" cy="140.5" r="2.3"/><circle cx="451.8" cy="61.1" r="2.3"/><circle cx="429.0" cy="15.2" r="2.3"/><circle cx="585.0" cy="101.1" r="2.3"/><circle cx="420.8" cy="35.3" r="2.3"/><circle cx="493.7" cy="61.0" r="2.3"/><circle cx="398.2" cy="20.3" r="2.3"/><circle cx="475.5" cy="69.5" r="2.3"/><circle cx="569.7" cy="79.5" r="2.3"/><circle cx="418.4" cy="16.2" r="2.3"/><circle cx="496.2" cy="62.5" r="2.3"/><circle cx="590.5" cy="128.1" r="2.3"/><circle cx="496.4" cy="56.9" r="2.3"/><circle cx="407.9" cy="30.1" r="2.3"/><circle cx="586.3" cy="99.1" r="2.3"/><circle cx="580.4" cy="104.3" r="2.3"/><circle cx="505.5" cy="69.7" r="2.3"/><circle cx="420.9" cy="45.1" r="2.3"/><circle cx="558.1" cy="101.8" r="2.3"/><circle cx="564.5" cy="117.9" r="2.3"/><circle cx="506.3" cy="65.1" r="2.3"/><circle cx="398.9" cy="14.3" r="2.3"/><circle cx="630.0" cy="167.0" r="2.3"/><circle cx="608.5" cy="178.1" r="2.3"/><circle cx="509.0" cy="79.2" r="2.3"/><circle cx="589.1" cy="128.8" r="2.3"/><circle cx="561.3" cy="110.1" r="2.3"/><circle cx="486.0" cy="50.6" r="2.3"/><circle cx="420.3" cy="38.9" r="2.3"/><circle cx="408.9" cy="13.1" r="2.3"/><circle cx="410.5" cy="28.9" r="2.3"/><circle cx="464.4" cy="65.9" r="2.3"/><circle cx="507.7" cy="75.5" r="2.3"/><circle cx="602.0" cy="147.4" r="2.3"/><circle cx="409.1" cy="35.2" r="2.3"/><circle cx="582.2" cy="80.6" r="2.3"/><circle cx="438.7" cy="20.6" r="2.3"/><circle cx="587.7" cy="131.8" r="2.3"/><circle cx="467.6" cy="57.1" r="2.3"/><circle cx="556.3" cy="85.6" r="2.3"/><circle cx="508.8" cy="62.6" r="2.3"/><circle cx="618.4" cy="174.5" r="2.3"/><circle cx="621.4" cy="165.1" r="2.3"/><circle cx="463.9" cy="49.3" r="2.3"/><circle cx="395.5" cy="13.5" r="2.3"/><circle cx="630.2" cy="148.0" r="2.3"/><circle cx="497.0" cy="80.4" r="2.3"/><circle cx="627.3" cy="178.7" r="2.3"/><circle cx="615.7" cy="159.5" r="2.3"/><circle cx="560.1" cy="53.2" r="2.3"/><circle cx="495.1" cy="52.6" r="2.3"/><circle cx="434.9" cy="42.8" r="2.3"/><circle cx="567.7" cy="94.0" r="2.3"/><circle cx="563.5" cy="95.5" r="2.3"/><circle cx="632.1" cy="168.7" r="2.3"/><circle cx="497.7" cy="67.6" r="2.3"/><circle cx="573.5" cy="62.2" r="2.3"/><circle cx="572.3" cy="76.5" r="2.3"/><circle cx="486.7" cy="75.5" r="2.3"/><circle cx="496.8" cy="60.4" r="2.3"/><circle cx="446.1" cy="45.7" r="2.3"/><circle cx="619.4" cy="130.3" r="2.3"/><circle cx="555.7" cy="106.1" r="2.3"/><circle cx="486.9" cy="77.0" r="2.3"/><circle cx="488.4" cy="61.3" r="2.3"/><circle cx="549.3" cy="85.2" r="2.3"/><circle cx="509.3" cy="75.9" r="2.3"/><circle cx="564.7" cy="90.2" r="2.3"/><circle cx="421.3" cy="26.6" r="2.3"/><circle cx="442.3" cy="41.9" r="2.3"/><circle cx="573.5" cy="102.0" r="2.3"/><circle cx="486.1" cy="56.3" r="2.3"/><circle cx="476.0" cy="55.1" r="2.3"/><circle cx="439.5" cy="30.5" r="2.3"/><circle cx="551.8" cy="70.9" r="2.3"/><circle cx="594.3" cy="113.7" r="2.3"/><circle cx="578.9" cy="78.8" r="2.3"/><circle cx="589.0" cy="132.8" r="2.3"/></g>
<path d="M435.8 1.4L492.8 39.1L541.8 67.9L578.2 101.2" stroke="#5050ff" stroke-width="0.8" fill="none" opacity="0.75"/>
<g class="b"><circle cx="617.2" cy="168.5" r="2.3"/><circle cx="624.7" cy="176.0" r="2.3"/><circle cx="573.7" cy="116.5" r="2.3"/><circle cx="473.8" cy="26.8" r="2.3"/><circle cx="500.7" cy="53.7" r="2.3"/><circle cx="521.1" cy="30.0" r="2.3"/><circle cx="600.6" cy="133.0" r="2.3"/><circle cx="549.1" cy="44.8" r="2.3"/><circle cx="522.8" cy="70.1" r="2.3"/><circle cx="546.8" cy="86.0" r="2.3"/><circle cx="428.4" cy="8.0" r="2.3"/><circle cx="548.4" cy="76.6" r="2.3"/><circle cx="539.1" cy="71.6" r="2.3"/><circle cx="580.4" cy="101.8" r="2.3"/><circle cx="560.4" cy="63.6" r="2.3"/><circle cx="605.1" cy="162.6" r="2.3"/><circle cx="454.2" cy="15.1" r="2.3"/><circle cx="547.3" cy="65.0" r="2.3"/><circle cx="556.8" cy="63.7" r="2.3"/><circle cx="589.4" cy="127.7" r="2.3"/><circle cx="500.4" cy="41.6" r="2.3"/><circle cx="552.8" cy="71.3" r="2.3"/><circle cx="569.8" cy="87.1" r="2.3"/><circle cx="486.1" cy="35.7" r="2.3"/><circle cx="602.3" cy="143.9" r="2.3"/><circle cx="474.8" cy="19.7" r="2.3"/><circle cx="624.4" cy="163.5" r="2.3"/><circle cx="488.9" cy="45.8" r="2.3"/><circle cx="550.7" cy="80.4" r="2.3"/><circle cx="429.4" cy="3.6" r="2.3"/><circle cx="475.4" cy="53.0" r="2.3"/><circle cx="439.5" cy="23.5" r="2.3"/><circle cx="573.4" cy="78.1" r="2.3"/><circle cx="603.4" cy="136.9" r="2.3"/><circle cx="474.2" cy="25.3" r="2.3"/><circle cx="546.3" cy="67.8" r="2.3"/><circle cx="478.2" cy="11.8" r="2.3"/><circle cx="618.0" cy="35.5" r="2.3"/><circle cx="606.2" cy="151.3" r="2.3"/><circle cx="586.5" cy="119.9" r="2.3"/><circle cx="580.8" cy="111.6" r="2.3"/><circle cx="550.6" cy="51.8" r="2.3"/><circle cx="581.8" cy="93.4" r="2.3"/><circle cx="461.1" cy="1.2" r="2.3"/><circle cx="464.7" cy="32.6" r="2.3"/><circle cx="554.5" cy="73.0" r="2.3"/><circle cx="545.6" cy="79.9" r="2.3"/><circle cx="548.4" cy="63.3" r="2.3"/><circle cx="592.0" cy="119.1" r="2.3"/><circle cx="589.3" cy="125.3" r="2.3"/><circle cx="611.3" cy="178.4" r="2.3"/><circle cx="509.6" cy="34.5" r="2.3"/><circle cx="547.2" cy="82.0" r="2.3"/><circle cx="501.0" cy="30.1" r="2.3"/><circle cx="451.7" cy="19.8" r="2.3"/><circle cx="462.2" cy="8.1" r="2.3"/><circle cx="488.8" cy="59.2" r="2.3"/><circle cx="453.3" cy="5.6" r="2.3"/><circle cx="476.7" cy="28.1" r="2.3"/><circle cx="501.9" cy="60.1" r="2.3"/><circle cx="463.1" cy="17.0" r="2.3"/><circle cx="500.0" cy="33.8" r="2.3"/><circle cx="567.4" cy="94.1" r="2.3"/><circle cx="626.3" cy="168.9" r="2.3"/><circle cx="501.5" cy="39.7" r="2.3"/><circle cx="465.9" cy="33.2" r="2.3"/><circle cx="453.3" cy="21.1" r="2.3"/><circle cx="510.2" cy="57.5" r="2.3"/><circle cx="612.0" cy="165.5" r="2.3"/><circle cx="562.1" cy="84.8" r="2.3"/><circle cx="473.2" cy="8.2" r="2.3"/><circle cx="500.0" cy="55.4" r="2.3"/><circle cx="500.1" cy="39.8" r="2.3"/><circle cx="547.4" cy="62.2" r="2.3"/><circle cx="575.3" cy="102.3" r="2.3"/><circle cx="573.8" cy="84.8" r="2.3"/><circle cx="488.7" cy="51.5" r="2.3"/><circle cx="620.8" cy="174.8" r="2.3"/><circle cx="531.3" cy="31.3" r="2.3"/><circle cx="580.4" cy="103.6" r="2.3"/><circle cx="616.7" cy="168.0" r="2.3"/><circle cx="574.3" cy="89.6" r="2.3"/><circle cx="550.2" cy="66.4" r="2.3"/><circle cx="592.3" cy="120.2" r="2.3"/><circle cx="466.3" cy="30.4" r="2.3"/><circle cx="548.4" cy="57.4" r="2.3"/><circle cx="586.9" cy="121.3" r="2.3"/><circle cx="567.3" cy="87.6" r="2.3"/><circle cx="567.5" cy="82.0" r="2.3"/><circle cx="633.5" cy="131.8" r="2.3"/><circle cx="571.8" cy="115.5" r="2.3"/><circle cx="546.4" cy="54.0" r="2.3"/><circle cx="501.2" cy="46.5" r="2.3"/><circle cx="567.4" cy="82.9" r="2.3"/><circle cx="496.5" cy="24.2" r="2.3"/><circle cx="453.2" cy="27.9" r="2.3"/><circle cx="498.7" cy="23.0" r="2.3"/><circle cx="453.5" cy="38.0" r="2.3"/><circle cx="498.2" cy="64.7" r="2.3"/><circle cx="429.6" cy="6.6" r="2.3"/><circle cx="552.5" cy="71.9" r="2.3"/><circle cx="606.1" cy="146.0" r="2.3"/><circle cx="587.3" cy="122.0" r="2.3"/><circle cx="428.2" cy="1.8" r="2.3"/><circle cx="429.0" cy="0.6" r="2.3"/><circle cx="586.1" cy="111.8" r="2.3"/><circle cx="559.4" cy="96.7" r="2.3"/><circle cx="577.6" cy="86.5" r="2.3"/><circle cx="586.7" cy="99.0" r="2.3"/><circle cx="585.6" cy="91.3" r="2.3"/><circle cx="429.0" cy="1.1" r="2.3"/><circle cx="473.4" cy="12.1" r="2.3"/><circle cx="601.1" cy="137.5" r="2.3"/><circle cx="571.9" cy="71.3" r="2.3"/><circle cx="477.8" cy="40.3" r="2.3"/><circle cx="618.3" cy="177.7" r="2.3"/><circle cx="592.6" cy="100.5" r="2.3"/><circle cx="498.9" cy="54.7" r="2.3"/><circle cx="558.9" cy="84.9" r="2.3"/><circle cx="490.1" cy="56.2" r="2.3"/><circle cx="490.5" cy="61.4" r="2.3"/><circle cx="547.3" cy="83.1" r="2.3"/><circle cx="580.9" cy="92.4" r="2.3"/><circle cx="534.2" cy="46.5" r="2.3"/><circle cx="562.1" cy="99.2" r="2.3"/><circle cx="473.1" cy="17.1" r="2.3"/><circle cx="568.1" cy="96.8" r="2.3"/><circle cx="594.2" cy="133.2" r="2.3"/><circle cx="564.7" cy="90.2" r="2.3"/><circle cx="575.9" cy="112.9" r="2.3"/><circle cx="536.0" cy="41.0" r="2.3"/><circle cx="547.7" cy="64.7" r="2.3"/><circle cx="450.3" cy="33.8" r="2.3"/><circle cx="476.8" cy="30.1" r="2.3"/><circle cx="548.6" cy="65.0" r="2.3"/><circle cx="582.7" cy="86.3" r="2.3"/><circle cx="489.0" cy="55.9" r="2.3"/><circle cx="553.3" cy="62.3" r="2.3"/><circle cx="600.8" cy="155.7" r="2.3"/><circle cx="486.2" cy="29.7" r="2.3"/><circle cx="627.5" cy="176.3" r="2.3"/><circle cx="561.2" cy="78.7" r="2.3"/><circle cx="535.1" cy="60.6" r="2.3"/><circle cx="452.2" cy="21.9" r="2.3"/><circle cx="530.7" cy="41.1" r="2.3"/><circle cx="592.0" cy="118.1" r="2.3"/><circle cx="597.9" cy="138.2" r="2.3"/><circle cx="628.1" cy="163.8" r="2.3"/><circle cx="632.5" cy="167.6" r="2.3"/><circle cx="572.1" cy="67.7" r="2.3"/><circle cx="578.3" cy="93.3" r="2.3"/><circle cx="519.9" cy="34.6" r="2.3"/><circle cx="566.6" cy="100.9" r="2.3"/><circle cx="561.7" cy="76.8" r="2.3"/><circle cx="590.7" cy="95.8" r="2.3"/><circle cx="581.1" cy="94.6" r="2.3"/><circle cx="547.0" cy="66.4" r="2.3"/><circle cx="555.9" cy="84.2" r="2.3"/><circle cx="605.7" cy="148.5" r="2.3"/><circle cx="497.1" cy="31.7" r="2.3"/><circle cx="634.8" cy="171.9" r="2.3"/><circle cx="610.6" cy="162.0" r="2.3"/><circle cx="523.9" cy="49.2" r="2.3"/><circle cx="580.4" cy="115.6" r="2.3"/><circle cx="597.5" cy="146.0" r="2.3"/><circle cx="580.7" cy="97.2" r="2.3"/><circle cx="488.8" cy="32.8" r="2.3"/><circle cx="572.4" cy="104.9" r="2.3"/><circle cx="438.2" cy="13.9" r="2.3"/><circle cx="605.2" cy="166.2" r="2.3"/><circle cx="551.3" cy="89.1" r="2.3"/><circle cx="563.9" cy="72.2" r="2.3"/><circle cx="443.1" cy="6.1" r="2.3"/><circle cx="427.7" cy="8.0" r="2.3"/><circle cx="499.0" cy="47.5" r="2.3"/><circle cx="603.2" cy="159.7" r="2.3"/><circle cx="568.3" cy="104.5" r="2.3"/><circle cx="546.0" cy="56.9" r="2.3"/><circle cx="548.0" cy="64.7" r="2.3"/><circle cx="564.6" cy="73.7" r="2.3"/><circle cx="552.1" cy="78.1" r="2.3"/><circle cx="620.5" cy="141.6" r="2.3"/><circle cx="576.3" cy="89.7" r="2.3"/><circle cx="483.8" cy="12.4" r="2.3"/><circle cx="488.0" cy="47.2" r="2.3"/><circle cx="511.8" cy="58.5" r="2.3"/><circle cx="561.5" cy="63.8" r="2.3"/><circle cx="553.4" cy="89.3" r="2.3"/><circle cx="585.3" cy="102.7" r="2.3"/><circle cx="633.5" cy="171.8" r="2.3"/><circle cx="580.5" cy="112.9" r="2.3"/><circle cx="600.3" cy="148.0" r="2.3"/><circle cx="463.4" cy="25.9" r="2.3"/><circle cx="510.3" cy="47.4" r="2.3"/><circle cx="568.1" cy="93.1" r="2.3"/><circle cx="548.2" cy="69.9" r="2.3"/><circle cx="562.2" cy="70.6" r="2.3"/><circle cx="631.6" cy="13.1" r="2.3"/><circle cx="554.0" cy="87.2" r="2.3"/><circle cx="526.4" cy="84.5" r="2.3"/><circle cx="475.6" cy="11.6" r="2.3"/><circle cx="606.4" cy="174.1" r="2.3"/><circle cx="496.9" cy="26.4" r="2.3"/><circle cx="605.1" cy="174.9" r="2.3"/><circle cx="576.2" cy="92.9" r="2.3"/><circle cx="490.7" cy="52.8" r="2.3"/><circle cx="439.9" cy="11.7" r="2.3"/><circle cx="580.3" cy="86.6" r="2.3"/><circle cx="561.0" cy="79.5" r="2.3"/><circle cx="475.2" cy="15.4" r="2.3"/><circle cx="543.1" cy="81.5" r="2.3"/><circle cx="620.7" cy="173.1" r="2.3"/><circle cx="600.2" cy="148.9" r="2.3"/><circle cx="463.6" cy="14.6" r="2.3"/><circle cx="516.0" cy="62.2" r="2.3"/><circle cx="629.8" cy="159.4" r="2.3"/><circle cx="597.5" cy="150.3" r="2.3"/><circle cx="555.9" cy="58.8" r="2.3"/><circle cx="580.4" cy="82.3" r="2.3"/><circle cx="560.7" cy="78.2" r="2.3"/><circle cx="555.6" cy="65.0" r="2.3"/><circle cx="553.7" cy="85.9" r="2.3"/><circle cx="476.7" cy="19.2" r="2.3"/><circle cx="572.5" cy="97.2" r="2.3"/><circle cx="526.6" cy="59.4" r="2.3"/><circle cx="633.1" cy="43.1" r="2.3"/><circle cx="466.7" cy="41.7" r="2.3"/><circle cx="465.4" cy="29.6" r="2.3"/><circle cx="606.0" cy="139.4" r="2.3"/><circle cx="486.7" cy="32.4" r="2.3"/><circle cx="564.0" cy="61.3" r="2.3"/><circle cx="474.4" cy="12.9" r="2.3"/><circle cx="619.8" cy="165.1" r="2.3"/><circle cx="488.5" cy="45.6" r="2.3"/><circle cx="465.4" cy="33.8" r="2.3"/><circle cx="594.8" cy="120.2" r="2.3"/><circle cx="601.6" cy="160.1" r="2.3"/><circle cx="452.3" cy="15.5" r="2.3"/><circle cx="616.1" cy="159.7" r="2.3"/><circle cx="620.8" cy="172.3" r="2.3"/><circle cx="592.9" cy="119.8" r="2.3"/><circle cx="580.8" cy="92.5" r="2.3"/><circle cx="552.9" cy="79.8" r="2.3"/><circle cx="597.1" cy="123.6" r="2.3"/><circle cx="548.3" cy="85.1" r="2.3"/><circle cx="585.3" cy="109.6" r="2.3"/><circle cx="474.8" cy="43.9" r="2.3"/><circle cx="548.7" cy="87.6" r="2.3"/><circle cx="533.7" cy="56.3" r="2.3"/><circle cx="621.8" cy="154.2" r="2.3"/><circle cx="468.0" cy="47.7" r="2.3"/><circle cx="599.0" cy="146.8" r="2.3"/><circle cx="604.2" cy="165.4" r="2.3"/><circle cx="609.9" cy="166.1" r="2.3"/><circle cx="591.9" cy="107.9" r="2.3"/><circle cx="569.0" cy="104.9" r="2.3"/><circle cx="487.9" cy="39.7" r="2.3"/><circle cx="477.5" cy="46.9" r="2.3"/><circle cx="485.8" cy="30.4" r="2.3"/><circle cx="578.6" cy="101.1" r="2.3"/><circle cx="614.4" cy="177.7" r="2.3"/><circle cx="529.7" cy="51.8" r="2.3"/><circle cx="556.1" cy="66.2" r="2.3"/><circle cx="591.9" cy="113.1" r="2.3"/><circle cx="453.6" cy="26.4" r="2.3"/><circle cx="508.5" cy="54.0" r="2.3"/><circle cx="592.5" cy="125.4" r="2.3"/><circle cx="476.0" cy="39.5" r="2.3"/><circle cx="509.3" cy="61.5" r="2.3"/><circle cx="628.3" cy="137.2" r="2.3"/><circle cx="596.4" cy="148.4" r="2.3"/><circle cx="500.3" cy="44.2" r="2.3"/><circle cx="570.2" cy="112.5" r="2.3"/><circle cx="426.9" cy="0.5" r="2.3"/><circle cx="552.9" cy="87.3" r="2.3"/><circle cx="544.5" cy="81.4" r="2.3"/><circle cx="628.8" cy="167.1" r="2.3"/><circle cx="600.8" cy="161.9" r="2.3"/><circle cx="553.2" cy="73.3" r="2.3"/><circle cx="512.0" cy="66.8" r="2.3"/><circle cx="563.7" cy="92.7" r="2.3"/><circle cx="584.4" cy="106.3" r="2.3"/><circle cx="567.2" cy="86.9" r="2.3"/><circle cx="600.0" cy="127.6" r="2.3"/><circle cx="560.5" cy="78.7" r="2.3"/><circle cx="517.3" cy="39.9" r="2.3"/><circle cx="495.1" cy="26.5" r="2.3"/><circle cx="450.1" cy="21.0" r="2.3"/><circle cx="500.3" cy="43.8" r="2.3"/><circle cx="499.9" cy="61.9" r="2.3"/><circle cx="594.9" cy="132.9" r="2.3"/><circle cx="442.7" cy="11.3" r="2.3"/><circle cx="477.6" cy="44.7" r="2.3"/><circle cx="587.4" cy="97.6" r="2.3"/><circle cx="450.7" cy="11.6" r="2.3"/><circle cx="575.8" cy="84.0" r="2.3"/><circle cx="614.5" cy="146.0" r="2.3"/><circle cx="438.7" cy="4.8" r="2.3"/><circle cx="551.3" cy="80.2" r="2.3"/><circle cx="612.1" cy="122.6" r="2.3"/><circle cx="557.0" cy="64.1" r="2.3"/><circle cx="572.8" cy="94.0" r="2.3"/><circle cx="598.5" cy="158.4" r="2.3"/><circle cx="563.7" cy="96.1" r="2.3"/><circle cx="564.2" cy="80.2" r="2.3"/><circle cx="603.5" cy="160.6" r="2.3"/><circle cx="576.3" cy="99.5" r="2.3"/><circle cx="508.7" cy="31.2" r="2.3"/><circle cx="626.7" cy="170.9" r="2.3"/><circle cx="477.0" cy="36.9" r="2.3"/><circle cx="598.2" cy="133.4" r="2.3"/><circle cx="478.7" cy="44.0" r="2.3"/><circle cx="464.6" cy="27.6" r="2.3"/><circle cx="474.4" cy="20.9" r="2.3"/><circle cx="556.0" cy="75.4" r="2.3"/><circle cx="571.2" cy="96.3" r="2.3"/><circle cx="606.3" cy="159.3" r="2.3"/><circle cx="588.0" cy="117.1" r="2.3"/><circle cx="568.1" cy="85.9" r="2.3"/><circle cx="574.2" cy="73.2" r="2.3"/><circle cx="610.4" cy="169.6" r="2.3"/><circle cx="588.6" cy="105.4" r="2.3"/><circle cx="595.8" cy="135.6" r="2.3"/><circle cx="589.6" cy="110.3" r="2.3"/><circle cx="462.2" cy="5.6" r="2.3"/><circle cx="475.6" cy="33.5" r="2.3"/><circle cx="554.4" cy="82.6" r="2.3"/><circle cx="547.5" cy="85.1" r="2.3"/><circle cx="535.9" cy="65.6" r="2.3"/><circle cx="633.6" cy="40.8" r="2.3"/><circle cx="596.8" cy="121.5" r="2.3"/><circle cx="594.9" cy="138.4" r="2.3"/><circle cx="621.8" cy="146.1" r="2.3"/><circle cx="591.3" cy="132.7" r="2.3"/><circle cx="562.4" cy="83.1" r="2.3"/><circle cx="474.5" cy="10.6" r="2.3"/><circle cx="557.2" cy="78.1" r="2.3"/><circle cx="429.2" cy="4.0" r="2.3"/><circle cx="463.0" cy="19.2" r="2.3"/><circle cx="460.7" cy="2.8" r="2.3"/><circle cx="415.8" cy="2.0" r="2.3"/><circle cx="465.3" cy="21.7" r="2.3"/><circle cx="484.5" cy="33.0" r="2.3"/><circle cx="430.6" cy="12.1" r="2.3"/><circle cx="569.8" cy="102.8" r="2.3"/><circle cx="449.4" cy="3.5" r="2.3"/><circle cx="618.1" cy="151.1" r="2.3"/><circle cx="439.6" cy="17.0" r="2.3"/><circle cx="452.0" cy="12.6" r="2.3"/><circle cx="557.7" cy="90.5" r="2.3"/><circle cx="515.3" cy="65.5" r="2.3"/><circle cx="474.2" cy="21.4" r="2.3"/><circle cx="500.0" cy="61.1" r="2.3"/><circle cx="547.7" cy="62.6" r="2.3"/><circle cx="572.8" cy="83.7" r="2.3"/><circle cx="438.4" cy="1.5" r="2.3"/><circle cx="574.5" cy="94.2" r="2.3"/><circle cx="571.3" cy="104.7" r="2.3"/><circle cx="519.2" cy="64.5" r="2.3"/><circle cx="567.3" cy="75.9" r="2.3"/><circle cx="489.1" cy="55.4" r="2.3"/><circle cx="485.5" cy="28.1" r="2.3"/><circle cx="501.9" cy="52.7" r="2.3"/><circle cx="548.9" cy="78.1" r="2.3"/><circle cx="581.1" cy="88.5" r="2.3"/><circle cx="590.3" cy="125.8" r="2.3"/><circle cx="580.2" cy="96.1" r="2.3"/><circle cx="556.8" cy="88.5" r="2.3"/><circle cx="475.2" cy="18.4" r="2.3"/><circle cx="532.7" cy="58.2" r="2.3"/><circle cx="557.5" cy="99.1" r="2.3"/><circle cx="516.6" cy="51.6" r="2.3"/><circle cx="564.4" cy="74.8" r="2.3"/><circle cx="596.7" cy="124.1" r="2.3"/><circle cx="551.5" cy="71.9" r="2.3"/><circle cx="525.7" cy="75.5" r="2.3"/><circle cx="619.2" cy="172.6" r="2.3"/><circle cx="497.6" cy="35.3" r="2.3"/><circle cx="475.5" cy="23.7" r="2.3"/><circle cx="577.8" cy="75.5" r="2.3"/><circle cx="427.7" cy="6.8" r="2.3"/><circle cx="580.6" cy="85.0" r="2.3"/><circle cx="536.9" cy="77.3" r="2.3"/><circle cx="461.7" cy="15.1" r="2.3"/><circle cx="568.6" cy="83.9" r="2.3"/><circle cx="588.8" cy="130.5" r="2.3"/><circle cx="465.0" cy="12.9" r="2.3"/><circle cx="557.9" cy="73.3" r="2.3"/><circle cx="551.3" cy="74.4" r="2.3"/><circle cx="418.6" cy="5.7" r="2.3"/><circle cx="561.2" cy="76.0" r="2.3"/><circle cx="593.9" cy="109.7" r="2.3"/><circle cx="568.3" cy="98.6" r="2.3"/><circle cx="559.4" cy="66.6" r="2.3"/><circle cx="512.9" cy="23.0" r="2.3"/><circle cx="518.8" cy="38.7" r="2.3"/><circle cx="574.0" cy="90.4" r="2.3"/><circle cx="489.9" cy="56.7" r="2.3"/><circle cx="602.3" cy="162.5" r="2.3"/><circle cx="550.2" cy="68.4" r="2.3"/><circle cx="634.8" cy="178.1" r="2.3"/><circle cx="486.2" cy="43.3" r="2.3"/><circle cx="486.9" cy="38.2" r="2.3"/><circle cx="572.0" cy="86.3" r="2.3"/><circle cx="616.1" cy="175.2" r="2.3"/><circle cx="629.2" cy="133.3" r="2.3"/><circle cx="602.6" cy="135.2" r="2.3"/><circle cx="497.3" cy="40.6" r="2.3"/><circle cx="551.9" cy="89.6" r="2.3"/><circle cx="556.8" cy="80.6" r="2.3"/><circle cx="588.7" cy="109.2" r="2.3"/><circle cx="526.4" cy="48.5" r="2.3"/><circle cx="472.9" cy="28.6" r="2.3"/><circle cx="599.9" cy="152.1" r="2.3"/><circle cx="533.7" cy="74.3" r="2.3"/><circle cx="570.1" cy="93.8" r="2.3"/><circle cx="587.3" cy="114.0" r="2.3"/><circle cx="558.0" cy="59.1" r="2.3"/><circle cx="583.0" cy="92.4" r="2.3"/><circle cx="530.3" cy="61.9" r="2.3"/><circle cx="602.5" cy="148.0" r="2.3"/><circle cx="547.7" cy="54.1" r="2.3"/><circle cx="586.0" cy="97.5" r="2.3"/><circle cx="500.2" cy="40.9" r="2.3"/><circle cx="474.5" cy="29.1" r="2.3"/><circle cx="609.9" cy="161.3" r="2.3"/><circle cx="619.5" cy="44.2" r="2.3"/><circle cx="557.1" cy="78.6" r="2.3"/><circle cx="559.8" cy="75.2" r="2.3"/><circle cx="598.2" cy="101.4" r="2.3"/><circle cx="497.8" cy="51.3" r="2.3"/><circle cx="582.3" cy="78.8" r="2.3"/><circle cx="602.5" cy="169.6" r="2.3"/><circle cx="578.8" cy="113.9" r="2.3"/><circle cx="559.3" cy="83.7" r="2.3"/><circle cx="565.2" cy="74.2" r="2.3"/><circle cx="473.7" cy="16.6" r="2.3"/><circle cx="561.9" cy="86.6" r="2.3"/><circle cx="605.4" cy="167.2" r="2.3"/><circle cx="582.2" cy="124.2" r="2.3"/><circle cx="569.8" cy="86.5" r="2.3"/><circle cx="538.7" cy="61.4" r="2.3"/><circle cx="554.6" cy="80.3" r="2.3"/><circle cx="548.6" cy="89.6" r="2.3"/><circle cx="548.0" cy="49.9" r="2.3"/><circle cx="612.1" cy="177.2" r="2.3"/><circle cx="577.8" cy="74.7" r="2.3"/><circle cx="603.4" cy="162.5" r="2.3"/><circle cx="613.4" cy="173.0" r="2.3"/><circle cx="489.2" cy="41.9" r="2.3"/><circle cx="625.7" cy="173.6" r="2.3"/><circle cx="573.4" cy="94.0" r="2.3"/><circle cx="475.8" cy="12.9" r="2.3"/><circle cx="431.8" cy="9.0" r="2.3"/><circle cx="598.8" cy="130.1" r="2.3"/><circle cx="566.2" cy="91.8" r="2.3"/><circle cx="552.0" cy="70.8" r="2.3"/><circle cx="593.8" cy="100.5" r="2.3"/><circle cx="551.8" cy="93.3" r="2.3"/><circle cx="559.2" cy="84.2" r="2.3"/><circle cx="507.6" cy="32.0" r="2.3"/><circle cx="488.7" cy="39.4" r="2.3"/><circle cx="584.8" cy="107.0" r="2.3"/><circle cx="499.9" cy="43.3" r="2.3"/><circle cx="598.7" cy="134.6" r="2.3"/><circle cx="478.4" cy="12.6" r="2.3"/><circle cx="522.7" cy="53.2" r="2.3"/><circle cx="553.0" cy="65.5" r="2.3"/><circle cx="441.6" cy="1.4" r="2.3"/><circle cx="596.3" cy="123.9" r="2.3"/><circle cx="583.4" cy="85.9" r="2.3"/><circle cx="452.6" cy="15.0" r="2.3"/><circle cx="588.5" cy="108.5" r="2.3"/><circle cx="592.4" cy="120.1" r="2.3"/><circle cx="587.9" cy="112.7" r="2.3"/><circle cx="487.1" cy="51.7" r="2.3"/><circle cx="429.5" cy="1.4" r="2.3"/><circle cx="451.0" cy="13.0" r="2.3"/><circle cx="449.8" cy="14.6" r="2.3"/><circle cx="586.6" cy="105.8" r="2.3"/><circle cx="588.6" cy="99.5" r="2.3"/><circle cx="551.5" cy="78.9" r="2.3"/><circle cx="598.0" cy="105.7" r="2.3"/><circle cx="579.2" cy="89.5" r="2.3"/><circle cx="466.6" cy="32.5" r="2.3"/><circle cx="465.1" cy="45.9" r="2.3"/><circle cx="581.8" cy="86.8" r="2.3"/><circle cx="466.7" cy="32.1" r="2.3"/><circle cx="552.1" cy="93.1" r="2.3"/><circle cx="439.2" cy="12.3" r="2.3"/><circle cx="464.5" cy="29.0" r="2.3"/><circle cx="429.1" cy="3.6" r="2.3"/><circle cx="586.4" cy="94.5" r="2.3"/><circle cx="580.9" cy="95.7" r="2.3"/><circle cx="451.0" cy="14.2" r="2.3"/><circle cx="602.4" cy="153.5" r="2.3"/><circle cx="531.2" cy="55.2" r="2.3"/><circle cx="492.7" cy="60.7" r="2.3"/><circle cx="576.6" cy="87.9" r="2.3"/><circle cx="599.1" cy="122.3" r="2.3"/><circle cx="512.5" cy="47.9" r="2.3"/><circle cx="474.5" cy="20.9" r="2.3"/><circle cx="498.2" cy="19.0" r="2.3"/><circle cx="550.6" cy="54.7" r="2.3"/><circle cx="582.0" cy="78.2" r="2.3"/><circle cx="547.4" cy="78.4" r="2.3"/><circle cx="509.7" cy="47.9" r="2.3"/><circle cx="487.8" cy="43.2" r="2.3"/><circle cx="511.9" cy="68.6" r="2.3"/><circle cx="477.3" cy="25.3" r="2.3"/><circle cx="556.9" cy="81.8" r="2.3"/><circle cx="464.7" cy="22.8" r="2.3"/><circle cx="586.0" cy="119.3" r="2.3"/><circle cx="562.6" cy="79.2" r="2.3"/><circle cx="452.4" cy="15.3" r="2.3"/><circle cx="574.2" cy="82.8" r="2.3"/><circle cx="606.5" cy="161.9" r="2.3"/><circle cx="579.8" cy="93.0" r="2.3"/><circle cx="570.8" cy="84.1" r="2.3"/><circle cx="623.9" cy="176.0" r="2.3"/><circle cx="589.4" cy="101.9" r="2.3"/><circle cx="450.6" cy="19.3" r="2.3"/><circle cx="581.3" cy="123.8" r="2.3"/><circle cx="553.6" cy="83.0" r="2.3"/><circle cx="462.8" cy="41.7" r="2.3"/><circle cx="526.6" cy="41.8" r="2.3"/><circle cx="610.2" cy="166.7" r="2.3"/><circle cx="580.6" cy="103.4" r="2.3"/><circle cx="623.7" cy="176.0" r="2.3"/><circle cx="584.9" cy="120.7" r="2.3"/><circle cx="624.1" cy="177.4" r="2.3"/><circle cx="616.0" cy="173.7" r="2.3"/><circle cx="579.2" cy="94.4" r="2.3"/><circle cx="501.7" cy="58.2" r="2.3"/><circle cx="592.6" cy="123.0" r="2.3"/><circle cx="489.4" cy="40.8" r="2.3"/><circle cx="455.4" cy="27.2" r="2.3"/><circle cx="584.4" cy="116.9" r="2.3"/><circle cx="565.7" cy="95.1" r="2.3"/><circle cx="462.9" cy="38.4" r="2.3"/><circle cx="608.9" cy="150.9" r="2.3"/><circle cx="464.7" cy="20.0" r="2.3"/><circle cx="634.8" cy="176.8" r="2.3"/><circle cx="463.0" cy="27.1" r="2.3"/><circle cx="618.6" cy="172.3" r="2.3"/><circle cx="609.8" cy="177.5" r="2.3"/><circle cx="525.2" cy="59.0" r="2.3"/><circle cx="632.0" cy="173.8" r="2.3"/><circle cx="559.4" cy="103.8" r="2.3"/><circle cx="502.0" cy="34.3" r="2.3"/><circle cx="588.8" cy="129.1" r="2.3"/><circle cx="480.7" cy="48.8" r="2.3"/><circle cx="439.6" cy="5.6" r="2.3"/><circle cx="633.7" cy="163.1" r="2.3"/><circle cx="548.2" cy="73.6" r="2.3"/><circle cx="452.9" cy="3.8" r="2.3"/><circle cx="488.0" cy="22.8" r="2.3"/><circle cx="624.8" cy="178.4" r="2.3"/><circle cx="463.6" cy="34.9" r="2.3"/><circle cx="545.2" cy="77.4" r="2.3"/><circle cx="605.8" cy="164.6" r="2.3"/><circle cx="589.6" cy="97.0" r="2.3"/><circle cx="573.0" cy="67.2" r="2.3"/><circle cx="490.2" cy="16.7" r="2.3"/><circle cx="581.9" cy="95.2" r="2.3"/><circle cx="576.6" cy="110.1" r="2.3"/><circle cx="592.0" cy="115.5" r="2.3"/><circle cx="556.9" cy="91.7" r="2.3"/><circle cx="586.1" cy="106.6" r="2.3"/><circle cx="545.9" cy="55.3" r="2.3"/><circle cx="451.3" cy="11.3" r="2.3"/><circle cx="550.9" cy="83.5" r="2.3"/><circle cx="622.3" cy="178.7" r="2.3"/><circle cx="574.2" cy="69.3" r="2.3"/><circle cx="463.5" cy="19.9" r="2.3"/><circle cx="570.9" cy="93.5" r="2.3"/><circle cx="614.5" cy="169.4" r="2.3"/><circle cx="532.2" cy="36.8" r="2.3"/><circle cx="546.2" cy="89.2" r="2.3"/><circle cx="544.8" cy="60.6" r="2.3"/><circle cx="564.5" cy="77.2" r="2.3"/><circle cx="578.9" cy="75.0" r="2.3"/><circle cx="503.7" cy="50.5" r="2.3"/><circle cx="563.2" cy="96.2" r="2.3"/><circle cx="478.2" cy="54.9" r="2.3"/><circle cx="512.3" cy="49.5" r="2.3"/><circle cx="566.9" cy="84.9" r="2.3"/></g>
<g class="r"><circle cx="615.9" cy="179.4" r="2.3"/><circle cx="612.6" cy="179.7" r="2.3"/><circle cx="618.0" cy="178.5" r="2.3"/><circle cx="612.3" cy="176.9" r="2.3"/><circle cx="627.0" cy="179.3" r="2.3"/><circle cx="615.5" cy="179.1" r="2.3"/><circle cx="624.9" cy="177.0" r="2.3"/><circle cx="630.9" cy="176.8" r="2.3"/></g>
<g class="b"><circle cx="602.8" cy="179.2" r="2.3"/><circle cx="615.4" cy="177.7" r="2.3"/><circle cx="618.6" cy="178.1" r="2.3"/><circle cx="604.8" cy="178.4" r="2.3"/><circle cx="621.6" cy="176.9" r="2.3"/><circle cx="609.7" cy="177.3" r="2.3"/><circle cx="631.6" cy="179.5" r="2.3"/><circle cx="624.6" cy="177.8" r="2.3"/><circle cx="606.8" cy="179.3" r="2.3"/><circle cx="605.3" cy="178.1" r="2.3"/><circle cx="615.3" cy="179.7" r="2.3"/><circle cx="609.1" cy="178.6" r="2.3"/><circle cx="619.6" cy="176.8" r="2.3"/><circle cx="631.0" cy="178.4" r="2.3"/><circle cx="604.1" cy="179.5" r="2.3"/><circle cx="622.1" cy="179.4" r="2.3"/><circle cx="629.9" cy="178.3" r="2.3"/><circle cx="626.3" cy="177.0" r="2.3"/><circle cx="611.9" cy="178.3" r="2.3"/><circle cx="609.5" cy="179.8" r="2.3"/></g>
</g>
<path d="M378.80 1.30H635.70" stroke="#b4b4b4" stroke-width="1.5" fill="none"/>
<path d="M635.50 1.40V178.80" stroke="#858585" stroke-width="1" fill="none"/>
<path d="M378.80 1.40v3.60M384.50 1.40v1.90M390.20 1.40v1.90M395.89 1.40v1.90M401.59 1.40v1.90M407.29 1.40v1.90M412.99 1.40v1.90M418.69 1.40v1.90M424.38 1.40v1.90M430.08 1.40v1.90M435.78 1.40v3.60M441.48 1.40v1.90M447.18 1.40v1.90M452.87 1.40v1.90M458.57 1.40v1.90M464.27 1.40v1.90M469.97 1.40v1.90M475.67 1.40v1.90M481.36 1.40v1.90M487.06 1.40v1.90M492.76 1.40v3.60M498.46 1.40v1.90M504.16 1.40v1.90M509.85 1.40v1.90M515.55 1.40v1.90M521.25 1.40v1.90M526.95 1.40v1.90M532.65 1.40v1.90M538.34 1.40v1.90M544.04 1.40v1.90M549.74 1.40v3.60M555.44 1.40v1.90M561.14 1.40v1.90M566.83 1.40v1.90M572.53 1.40v1.90M578.23 1.40v1.90M583.93 1.40v1.90M589.63 1.40v1.90M595.32 1.40v1.90M601.02 1.40v1.90M606.72 1.40v3.60M612.42 1.40v1.90M618.12 1.40v1.90M623.81 1.40v1.90M629.51 1.40v1.90M635.21 1.40v1.90M635.20 178.80h-5.20M635.20 167.71h-2.70M635.20 156.62h-2.70M635.20 145.54h-2.70M635.20 134.45h-2.70M635.20 123.36h-5.20M635.20 112.28h-2.70M635.20 101.19h-2.70M635.20 90.10h-2.70M635.20 79.01h-2.70M635.20 67.93h-5.20M635.20 56.84h-2.70M635.20 45.75h-2.70M635.20 34.66h-2.70M635.20 23.57h-2.70M635.20 12.49h-5.20M635.20 1.40h-2.70" stroke="#666" stroke-width="1" fill="none"/>
<path d="M378.80 178.80v-3.60M384.50 178.80v-1.90M390.20 178.80v-1.90M395.89 178.80v-1.90M401.59 178.80v-1.90M407.29 178.80v-1.90M412.99 178.80v-1.90M418.69 178.80v-1.90M424.38 178.80v-1.90M430.08 178.80v-1.90M435.78 178.80v-3.60M441.48 178.80v-1.90M447.18 178.80v-1.90M452.87 178.80v-1.90M458.57 178.80v-1.90M464.27 178.80v-1.90M469.97 178.80v-1.90M475.67 178.80v-1.90M481.36 178.80v-1.90M487.06 178.80v-1.90M492.76 178.80v-3.60M498.46 178.80v-1.90M504.16 178.80v-1.90M509.85 178.80v-1.90M515.55 178.80v-1.90M521.25 178.80v-1.90M526.95 178.80v-1.90M532.65 178.80v-1.90M538.34 178.80v-1.90M544.04 178.80v-1.90M549.74 178.80v-3.60M555.44 178.80v-1.90M561.14 178.80v-1.90M566.83 178.80v-1.90M572.53 178.80v-1.90M578.23 178.80v-1.90M583.93 178.80v-1.90M589.63 178.80v-1.90M595.32 178.80v-1.90M601.02 178.80v-1.90M606.72 178.80v-3.60M612.42 178.80v-1.90M618.12 178.80v-1.90M623.81 178.80v-1.90M629.51 178.80v-1.90M635.21 178.80v-1.90M378.80 178.80h5.20M378.80 167.71h2.70M378.80 156.62h2.70M378.80 145.54h2.70M378.80 134.45h2.70M378.80 123.36h5.20M378.80 112.28h2.70M378.80 101.19h2.70M378.80 90.10h2.70M378.80 79.01h2.70M378.80 67.93h5.20M378.80 56.84h2.70M378.80 45.75h2.70M378.80 34.66h2.70M378.80 23.57h2.70M378.80 12.49h5.20M378.80 1.40h2.70" stroke="#4a4a4a" stroke-width="1" fill="none"/>
<path d="M378.80 1.40V178.80H635.20" stroke="#4a4a4a" stroke-width="1.3" fill="none"/>
<text class="tk" x="378.5" y="198.9" text-anchor="middle" textLength="21" lengthAdjust="spacingAndGlyphs">0.6</text>
<text class="tk" x="435.5" y="198.9" text-anchor="middle" textLength="21" lengthAdjust="spacingAndGlyphs">0.7</text>
<text class="tk" x="492.5" y="198.9" text-anchor="middle" textLength="21" lengthAdjust="spacingAndGlyphs">0.8</text>
<text class="tk" x="549.4" y="198.9" text-anchor="middle" textLength="21" lengthAdjust="spacingAndGlyphs">0.9</text>
<text class="tk" x="606.4" y="198.9" text-anchor="middle" textLength="21" lengthAdjust="spacingAndGlyphs">1.0</text>
<text class="tk" x="373.8" y="18.2" text-anchor="end" textLength="20.5" lengthAdjust="spacingAndGlyphs">1.5</text>
<text class="tk" x="373.8" y="73.5" text-anchor="end" textLength="20.5" lengthAdjust="spacingAndGlyphs">1.0</text>
<text class="tk" x="373.8" y="129.6" text-anchor="end" textLength="20.5" lengthAdjust="spacingAndGlyphs">0.5</text>
<text class="tk" x="373.8" y="179.8" text-anchor="end" textLength="20.5" lengthAdjust="spacingAndGlyphs">0.0</text>
<text class="tk" x="496.3" y="216.2" style="font-style:italic;font-size:13.5px">ρ</text>
<text class="tk" x="504.8" y="218.8" style="font-size:8.6px" textLength="11.8" lengthAdjust="spacing">pol</text>
<g transform="translate(340.6 90.3) rotate(-90)"><text class="tk" x="-26.8" y="0.0" style="font-size:13.5px" textLength="7.4" lengthAdjust="spacingAndGlyphs">T</text><text class="tk" x="-19.0" y="3.5" style="font-size:9.5px" textLength="4.5" lengthAdjust="spacingAndGlyphs">e</text><text class="tk" x="-9.5" y="0.0" style="font-size:13.5px">(</text><text class="tk" x="-1.9" y="0.0" style="font-size:13.5px" textLength="20.3" lengthAdjust="spacingAndGlyphs">keV</text><text class="tk" x="19.6" y="0.0" style="font-size:13.5px">)</text></g>
<text class="bd" x="411.6" y="167" textLength="113.6" lengthAdjust="spacingAndGlyphs">Temperature</text>
<text class="bd bl lt" x="543.6" y="31.9" textLength="13.7" lengthAdjust="spacingAndGlyphs">D</text>
<text class="bd rd lt" x="435.7" y="101.6" textLength="14.4" lengthAdjust="spacingAndGlyphs">H</text>
<clipPath id="c3"><rect x="47.10" y="248.80" width="260.30" height="179.60"/></clipPath>
<g clip-path="url(#c3)">
<path d="M47.1 318.6L104.8 338.3L186.9 370.9L215.7 381.3L249.2 386.6" stroke="#ff3030" stroke-width="0.8" fill="none" opacity="0.75"/>
<g class="r"><circle cx="91.2" cy="352.0" r="2.3"/><circle cx="240.2" cy="386.7" r="2.3"/><circle cx="220.6" cy="380.3" r="2.3"/><circle cx="144.9" cy="357.0" r="2.3"/><circle cx="290.4" cy="423.7" r="2.3"/><circle cx="259.4" cy="397.8" r="2.3"/><circle cx="256.6" cy="398.8" r="2.3"/><circle cx="101.1" cy="336.6" r="2.3"/><circle cx="92.2" cy="342.9" r="2.3"/><circle cx="220.5" cy="373.6" r="2.3"/><circle cx="99.9" cy="335.6" r="2.3"/><circle cx="259.6" cy="389.2" r="2.3"/><circle cx="241.2" cy="393.4" r="2.3"/><circle cx="100.7" cy="340.7" r="2.3"/><circle cx="75.6" cy="307.9" r="2.3"/><circle cx="287.0" cy="408.5" r="2.3"/><circle cx="273.3" cy="417.5" r="2.3"/><circle cx="98.8" cy="345.5" r="2.3"/><circle cx="143.9" cy="351.6" r="2.3"/><circle cx="113.4" cy="353.3" r="2.3"/><circle cx="176.0" cy="362.1" r="2.3"/><circle cx="272.6" cy="419.0" r="2.3"/><circle cx="145.0" cy="357.3" r="2.3"/><circle cx="105.1" cy="313.4" r="2.3"/><circle cx="248.8" cy="396.0" r="2.3"/><circle cx="134.4" cy="358.1" r="2.3"/><circle cx="110.3" cy="337.2" r="2.3"/><circle cx="249.5" cy="375.4" r="2.3"/><circle cx="177.7" cy="362.8" r="2.3"/><circle cx="235.2" cy="386.1" r="2.3"/><circle cx="76.0" cy="309.3" r="2.3"/><circle cx="110.0" cy="316.7" r="2.3"/><circle cx="88.2" cy="336.8" r="2.3"/><circle cx="254.8" cy="379.5" r="2.3"/><circle cx="69.1" cy="329.2" r="2.3"/><circle cx="220.4" cy="390.7" r="2.3"/><circle cx="260.5" cy="409.8" r="2.3"/><circle cx="236.5" cy="370.0" r="2.3"/><circle cx="259.4" cy="403.2" r="2.3"/><circle cx="86.0" cy="300.0" r="2.3"/><circle cx="65.0" cy="323.3" r="2.3"/><circle cx="245.4" cy="391.4" r="2.3"/><circle cx="230.5" cy="375.2" r="2.3"/><circle cx="220.8" cy="372.9" r="2.3"/><circle cx="261.9" cy="409.5" r="2.3"/><circle cx="222.0" cy="382.8" r="2.3"/><circle cx="177.0" cy="376.3" r="2.3"/><circle cx="177.9" cy="372.4" r="2.3"/><circle cx="76.3" cy="320.4" r="2.3"/><circle cx="153.4" cy="347.8" r="2.3"/><circle cx="230.4" cy="376.7" r="2.3"/><circle cx="66.5" cy="313.8" r="2.3"/><circle cx="168.4" cy="371.3" r="2.3"/><circle cx="86.0" cy="323.7" r="2.3"/><circle cx="145.5" cy="358.8" r="2.3"/><circle cx="100.2" cy="321.0" r="2.3"/><circle cx="216.1" cy="376.2" r="2.3"/><circle cx="274.3" cy="420.9" r="2.3"/><circle cx="251.4" cy="390.1" r="2.3"/><circle cx="229.2" cy="386.3" r="2.3"/><circle cx="178.0" cy="371.6" r="2.3"/><circle cx="242.1" cy="386.0" r="2.3"/><circle cx="257.6" cy="396.6" r="2.3"/><circle cx="217.7" cy="382.3" r="2.3"/><circle cx="110.9" cy="341.1" r="2.3"/><circle cx="224.0" cy="367.8" r="2.3"/><circle cx="144.7" cy="356.0" r="2.3"/><circle cx="247.6" cy="377.5" r="2.3"/><circle cx="252.1" cy="379.8" r="2.3"/><circle cx="58.3" cy="323.9" r="2.3"/><circle cx="178.8" cy="362.4" r="2.3"/><circle cx="55.4" cy="322.4" r="2.3"/><circle cx="252.2" cy="389.5" r="2.3"/><circle cx="256.7" cy="388.1" r="2.3"/><circle cx="240.3" cy="394.1" r="2.3"/><circle cx="143.4" cy="356.1" r="2.3"/><circle cx="236.0" cy="383.1" r="2.3"/><circle cx="88.2" cy="320.4" r="2.3"/><circle cx="87.4" cy="326.4" r="2.3"/><circle cx="225.9" cy="375.3" r="2.3"/><circle cx="111.1" cy="346.0" r="2.3"/><circle cx="226.9" cy="383.8" r="2.3"/><circle cx="110.5" cy="320.9" r="2.3"/><circle cx="76.4" cy="330.0" r="2.3"/><circle cx="145.6" cy="356.4" r="2.3"/><circle cx="166.2" cy="365.9" r="2.3"/><circle cx="98.0" cy="309.0" r="2.3"/><circle cx="109.8" cy="321.9" r="2.3"/><circle cx="230.7" cy="380.7" r="2.3"/><circle cx="267.7" cy="419.0" r="2.3"/><circle cx="144.0" cy="369.0" r="2.3"/><circle cx="142.1" cy="342.4" r="2.3"/><circle cx="237.8" cy="366.4" r="2.3"/><circle cx="243.0" cy="396.3" r="2.3"/><circle cx="231.0" cy="376.3" r="2.3"/><circle cx="85.1" cy="326.9" r="2.3"/><circle cx="64.3" cy="324.9" r="2.3"/><circle cx="235.3" cy="365.2" r="2.3"/><circle cx="238.5" cy="394.2" r="2.3"/><circle cx="255.8" cy="379.3" r="2.3"/><circle cx="111.6" cy="334.5" r="2.3"/><circle cx="121.3" cy="356.1" r="2.3"/><circle cx="133.4" cy="349.4" r="2.3"/><circle cx="265.2" cy="405.8" r="2.3"/><circle cx="260.9" cy="398.8" r="2.3"/><circle cx="230.2" cy="400.7" r="2.3"/><circle cx="57.9" cy="322.1" r="2.3"/><circle cx="166.4" cy="382.1" r="2.3"/><circle cx="180.1" cy="378.9" r="2.3"/><circle cx="259.1" cy="398.2" r="2.3"/><circle cx="226.6" cy="362.9" r="2.3"/><circle cx="68.8" cy="330.9" r="2.3"/><circle cx="251.2" cy="396.4" r="2.3"/><circle cx="89.1" cy="315.7" r="2.3"/><circle cx="168.5" cy="369.1" r="2.3"/><circle cx="65.8" cy="325.8" r="2.3"/><circle cx="111.1" cy="334.0" r="2.3"/><circle cx="231.5" cy="386.6" r="2.3"/><circle cx="58.3" cy="337.1" r="2.3"/><circle cx="274.4" cy="426.7" r="2.3"/><circle cx="252.3" cy="372.8" r="2.3"/><circle cx="243.1" cy="386.3" r="2.3"/><circle cx="48.1" cy="335.5" r="2.3"/><circle cx="157.3" cy="360.4" r="2.3"/><circle cx="217.6" cy="390.9" r="2.3"/><circle cx="141.9" cy="339.9" r="2.3"/><circle cx="260.5" cy="397.6" r="2.3"/><circle cx="79.9" cy="333.7" r="2.3"/><circle cx="265.9" cy="417.9" r="2.3"/><circle cx="274.0" cy="420.0" r="2.3"/><circle cx="227.7" cy="373.9" r="2.3"/><circle cx="91.0" cy="331.5" r="2.3"/><circle cx="134.9" cy="364.8" r="2.3"/><circle cx="245.3" cy="397.2" r="2.3"/><circle cx="232.4" cy="382.5" r="2.3"/><circle cx="111.0" cy="331.2" r="2.3"/><circle cx="109.5" cy="317.2" r="2.3"/><circle cx="77.4" cy="325.5" r="2.3"/><circle cx="260.3" cy="404.5" r="2.3"/><circle cx="90.8" cy="365.7" r="2.3"/><circle cx="256.6" cy="391.9" r="2.3"/><circle cx="119.1" cy="328.8" r="2.3"/><circle cx="177.9" cy="357.5" r="2.3"/><circle cx="252.5" cy="398.1" r="2.3"/><circle cx="166.0" cy="353.3" r="2.3"/><circle cx="147.7" cy="358.3" r="2.3"/><circle cx="229.6" cy="384.1" r="2.3"/><circle cx="223.7" cy="382.8" r="2.3"/><circle cx="118.7" cy="327.3" r="2.3"/><circle cx="147.0" cy="354.4" r="2.3"/><circle cx="230.7" cy="369.6" r="2.3"/><circle cx="244.4" cy="381.6" r="2.3"/><circle cx="89.3" cy="323.3" r="2.3"/><circle cx="157.6" cy="366.5" r="2.3"/><circle cx="246.9" cy="401.4" r="2.3"/><circle cx="65.6" cy="320.4" r="2.3"/><circle cx="154.3" cy="375.3" r="2.3"/><circle cx="218.4" cy="387.7" r="2.3"/><circle cx="219.7" cy="365.1" r="2.3"/><circle cx="134.5" cy="348.7" r="2.3"/><circle cx="231.0" cy="386.2" r="2.3"/><circle cx="217.0" cy="374.2" r="2.3"/><circle cx="133.4" cy="332.8" r="2.3"/><circle cx="230.2" cy="377.8" r="2.3"/><circle cx="225.8" cy="395.4" r="2.3"/><circle cx="238.5" cy="372.8" r="2.3"/><circle cx="221.9" cy="379.2" r="2.3"/><circle cx="225.5" cy="386.6" r="2.3"/><circle cx="77.9" cy="345.9" r="2.3"/><circle cx="57.0" cy="315.5" r="2.3"/><circle cx="228.0" cy="382.9" r="2.3"/><circle cx="257.7" cy="390.3" r="2.3"/><circle cx="146.2" cy="371.6" r="2.3"/><circle cx="247.7" cy="388.7" r="2.3"/><circle cx="228.5" cy="401.0" r="2.3"/><circle cx="258.3" cy="399.9" r="2.3"/><circle cx="232.6" cy="385.1" r="2.3"/><circle cx="123.0" cy="364.3" r="2.3"/><circle cx="241.9" cy="382.2" r="2.3"/><circle cx="263.8" cy="402.1" r="2.3"/><circle cx="86.8" cy="284.6" r="2.3"/><circle cx="221.9" cy="385.6" r="2.3"/><circle cx="255.9" cy="382.6" r="2.3"/><circle cx="167.6" cy="370.5" r="2.3"/><circle cx="142.3" cy="341.9" r="2.3"/><circle cx="98.6" cy="319.6" r="2.3"/><circle cx="237.2" cy="386.0" r="2.3"/><circle cx="110.3" cy="332.0" r="2.3"/><circle cx="133.5" cy="355.5" r="2.3"/><circle cx="107.8" cy="326.3" r="2.3"/><circle cx="55.0" cy="314.6" r="2.3"/><circle cx="143.3" cy="352.6" r="2.3"/><circle cx="78.9" cy="337.0" r="2.3"/><circle cx="98.7" cy="339.6" r="2.3"/><circle cx="89.9" cy="337.0" r="2.3"/><circle cx="218.5" cy="387.2" r="2.3"/><circle cx="76.6" cy="319.9" r="2.3"/><circle cx="262.3" cy="396.7" r="2.3"/><circle cx="67.2" cy="344.9" r="2.3"/><circle cx="111.6" cy="347.7" r="2.3"/><circle cx="80.1" cy="334.9" r="2.3"/><circle cx="89.1" cy="337.0" r="2.3"/><circle cx="109.6" cy="349.2" r="2.3"/><circle cx="167.6" cy="369.1" r="2.3"/><circle cx="67.4" cy="336.3" r="2.3"/><circle cx="233.0" cy="371.5" r="2.3"/><circle cx="233.6" cy="397.8" r="2.3"/><circle cx="111.6" cy="334.7" r="2.3"/><circle cx="232.7" cy="397.0" r="2.3"/><circle cx="165.3" cy="351.2" r="2.3"/><circle cx="55.1" cy="330.6" r="2.3"/><circle cx="136.1" cy="363.2" r="2.3"/><circle cx="64.9" cy="334.3" r="2.3"/><circle cx="146.3" cy="366.5" r="2.3"/><circle cx="254.4" cy="381.1" r="2.3"/><circle cx="133.8" cy="369.0" r="2.3"/><circle cx="56.7" cy="337.7" r="2.3"/><circle cx="238.8" cy="378.8" r="2.3"/><circle cx="170.6" cy="353.0" r="2.3"/><circle cx="251.9" cy="386.8" r="2.3"/><circle cx="220.7" cy="378.1" r="2.3"/><circle cx="253.3" cy="381.3" r="2.3"/><circle cx="99.6" cy="333.6" r="2.3"/><circle cx="281.4" cy="423.0" r="2.3"/><circle cx="155.1" cy="353.7" r="2.3"/><circle cx="258.1" cy="384.9" r="2.3"/><circle cx="135.5" cy="340.0" r="2.3"/><circle cx="98.1" cy="323.7" r="2.3"/><circle cx="228.1" cy="378.2" r="2.3"/><circle cx="249.9" cy="383.2" r="2.3"/><circle cx="244.6" cy="386.6" r="2.3"/><circle cx="100.6" cy="329.8" r="2.3"/><circle cx="221.6" cy="372.5" r="2.3"/><circle cx="100.1" cy="329.3" r="2.3"/><circle cx="233.1" cy="377.0" r="2.3"/><circle cx="247.2" cy="399.3" r="2.3"/><circle cx="233.0" cy="362.9" r="2.3"/><circle cx="73.8" cy="319.9" r="2.3"/><circle cx="258.5" cy="383.3" r="2.3"/><circle cx="167.8" cy="382.0" r="2.3"/><circle cx="75.0" cy="303.0" r="2.3"/><circle cx="79.2" cy="320.6" r="2.3"/><circle cx="59.2" cy="336.8" r="2.3"/><circle cx="220.7" cy="393.0" r="2.3"/><circle cx="89.7" cy="345.4" r="2.3"/><circle cx="293.5" cy="425.9" r="2.3"/><circle cx="124.0" cy="364.6" r="2.3"/><circle cx="121.4" cy="359.2" r="2.3"/><circle cx="268.6" cy="411.8" r="2.3"/><circle cx="264.3" cy="415.3" r="2.3"/><circle cx="164.2" cy="366.1" r="2.3"/><circle cx="177.2" cy="354.7" r="2.3"/><circle cx="67.0" cy="334.2" r="2.3"/><circle cx="155.7" cy="361.3" r="2.3"/><circle cx="132.3" cy="342.1" r="2.3"/><circle cx="227.0" cy="395.6" r="2.3"/><circle cx="257.6" cy="386.0" r="2.3"/><circle cx="165.2" cy="361.5" r="2.3"/><circle cx="53.4" cy="321.0" r="2.3"/><circle cx="231.4" cy="395.2" r="2.3"/><circle cx="133.3" cy="359.7" r="2.3"/><circle cx="243.4" cy="389.3" r="2.3"/><circle cx="112.5" cy="336.9" r="2.3"/><circle cx="122.7" cy="352.4" r="2.3"/><circle cx="237.5" cy="386.8" r="2.3"/><circle cx="88.4" cy="327.1" r="2.3"/><circle cx="267.8" cy="412.3" r="2.3"/><circle cx="109.7" cy="341.0" r="2.3"/><circle cx="258.6" cy="395.1" r="2.3"/><circle cx="143.6" cy="342.1" r="2.3"/><circle cx="87.2" cy="326.3" r="2.3"/><circle cx="268.1" cy="416.9" r="2.3"/><circle cx="237.5" cy="383.5" r="2.3"/><circle cx="161.1" cy="348.3" r="2.3"/><circle cx="220.4" cy="378.2" r="2.3"/><circle cx="227.0" cy="389.6" r="2.3"/><circle cx="163.4" cy="351.0" r="2.3"/><circle cx="123.0" cy="338.8" r="2.3"/><circle cx="164.7" cy="351.1" r="2.3"/><circle cx="233.2" cy="383.0" r="2.3"/><circle cx="165.6" cy="348.3" r="2.3"/><circle cx="121.6" cy="335.8" r="2.3"/><circle cx="174.8" cy="380.2" r="2.3"/><circle cx="216.2" cy="372.0" r="2.3"/><circle cx="230.3" cy="367.9" r="2.3"/><circle cx="218.4" cy="364.2" r="2.3"/><circle cx="271.9" cy="424.7" r="2.3"/><circle cx="124.0" cy="366.8" r="2.3"/><circle cx="244.1" cy="385.0" r="2.3"/><circle cx="109.8" cy="336.4" r="2.3"/><circle cx="55.5" cy="314.2" r="2.3"/><circle cx="248.5" cy="370.4" r="2.3"/><circle cx="235.0" cy="373.1" r="2.3"/><circle cx="132.0" cy="338.9" r="2.3"/><circle cx="133.2" cy="351.2" r="2.3"/><circle cx="155.4" cy="371.7" r="2.3"/><circle cx="231.7" cy="391.4" r="2.3"/><circle cx="98.6" cy="328.0" r="2.3"/><circle cx="88.8" cy="325.4" r="2.3"/><circle cx="243.1" cy="382.2" r="2.3"/><circle cx="100.0" cy="343.2" r="2.3"/><circle cx="177.3" cy="373.6" r="2.3"/><circle cx="264.8" cy="411.8" r="2.3"/><circle cx="154.2" cy="353.6" r="2.3"/><circle cx="111.7" cy="353.7" r="2.3"/><circle cx="264.7" cy="410.7" r="2.3"/><circle cx="121.9" cy="347.7" r="2.3"/><circle cx="142.5" cy="361.1" r="2.3"/><circle cx="89.4" cy="327.5" r="2.3"/><circle cx="261.7" cy="407.4" r="2.3"/><circle cx="178.2" cy="377.1" r="2.3"/><circle cx="72.3" cy="310.1" r="2.3"/><circle cx="245.8" cy="380.6" r="2.3"/><circle cx="233.9" cy="380.7" r="2.3"/><circle cx="215.7" cy="367.0" r="2.3"/><circle cx="154.5" cy="353.0" r="2.3"/><circle cx="90.3" cy="345.4" r="2.3"/><circle cx="264.9" cy="403.1" r="2.3"/><circle cx="264.9" cy="399.4" r="2.3"/><circle cx="227.4" cy="392.5" r="2.3"/><circle cx="66.3" cy="322.1" r="2.3"/><circle cx="295.2" cy="426.3" r="2.3"/><circle cx="88.8" cy="328.3" r="2.3"/><circle cx="230.3" cy="372.7" r="2.3"/><circle cx="258.8" cy="395.8" r="2.3"/><circle cx="225.8" cy="385.9" r="2.3"/><circle cx="281.5" cy="397.3" r="2.3"/><circle cx="243.8" cy="392.8" r="2.3"/><circle cx="107.4" cy="327.1" r="2.3"/><circle cx="153.9" cy="358.0" r="2.3"/><circle cx="239.3" cy="381.1" r="2.3"/><circle cx="254.6" cy="389.2" r="2.3"/><circle cx="122.5" cy="349.0" r="2.3"/><circle cx="69.7" cy="337.4" r="2.3"/><circle cx="133.6" cy="368.3" r="2.3"/><circle cx="135.6" cy="361.8" r="2.3"/><circle cx="234.2" cy="368.9" r="2.3"/><circle cx="167.9" cy="358.2" r="2.3"/><circle cx="242.1" cy="375.8" r="2.3"/><circle cx="78.0" cy="330.0" r="2.3"/><circle cx="145.2" cy="361.0" r="2.3"/><circle cx="244.0" cy="379.9" r="2.3"/><circle cx="230.6" cy="385.2" r="2.3"/><circle cx="152.3" cy="352.4" r="2.3"/><circle cx="145.7" cy="359.8" r="2.3"/><circle cx="262.2" cy="412.2" r="2.3"/><circle cx="216.9" cy="385.9" r="2.3"/><circle cx="47.1" cy="326.5" r="2.3"/><circle cx="243.7" cy="388.7" r="2.3"/><circle cx="68.1" cy="328.7" r="2.3"/><circle cx="145.1" cy="365.0" r="2.3"/><circle cx="77.0" cy="333.4" r="2.3"/><circle cx="287.3" cy="424.2" r="2.3"/><circle cx="229.3" cy="365.2" r="2.3"/><circle cx="246.7" cy="366.8" r="2.3"/><circle cx="80.4" cy="331.2" r="2.3"/><circle cx="121.1" cy="340.2" r="2.3"/><circle cx="252.3" cy="390.6" r="2.3"/><circle cx="157.2" cy="366.2" r="2.3"/><circle cx="235.3" cy="368.9" r="2.3"/><circle cx="249.2" cy="383.4" r="2.3"/><circle cx="256.3" cy="387.2" r="2.3"/><circle cx="259.3" cy="394.6" r="2.3"/><circle cx="285.1" cy="426.3" r="2.3"/><circle cx="80.9" cy="342.4" r="2.3"/><circle cx="237.6" cy="367.0" r="2.3"/><circle cx="234.6" cy="392.6" r="2.3"/><circle cx="251.1" cy="387.6" r="2.3"/><circle cx="238.5" cy="388.1" r="2.3"/><circle cx="99.5" cy="313.7" r="2.3"/><circle cx="228.1" cy="383.7" r="2.3"/><circle cx="141.6" cy="344.9" r="2.3"/><circle cx="133.5" cy="351.9" r="2.3"/><circle cx="228.6" cy="366.7" r="2.3"/><circle cx="236.8" cy="371.8" r="2.3"/><circle cx="245.7" cy="377.1" r="2.3"/><circle cx="110.7" cy="339.8" r="2.3"/><circle cx="97.7" cy="321.8" r="2.3"/><circle cx="241.5" cy="374.9" r="2.3"/><circle cx="231.8" cy="363.0" r="2.3"/><circle cx="226.4" cy="386.0" r="2.3"/><circle cx="88.8" cy="325.8" r="2.3"/><circle cx="223.8" cy="368.2" r="2.3"/><circle cx="216.9" cy="377.6" r="2.3"/><circle cx="100.0" cy="331.8" r="2.3"/><circle cx="251.4" cy="387.5" r="2.3"/><circle cx="229.9" cy="391.4" r="2.3"/><circle cx="239.0" cy="369.0" r="2.3"/><circle cx="168.0" cy="380.8" r="2.3"/><circle cx="67.7" cy="315.1" r="2.3"/><circle cx="237.1" cy="368.2" r="2.3"/><circle cx="245.6" cy="390.4" r="2.3"/><circle cx="135.9" cy="363.9" r="2.3"/><circle cx="256.4" cy="382.8" r="2.3"/><circle cx="155.7" cy="375.4" r="2.3"/><circle cx="258.7" cy="398.6" r="2.3"/><circle cx="274.2" cy="422.7" r="2.3"/><circle cx="246.3" cy="393.7" r="2.3"/><circle cx="233.3" cy="363.4" r="2.3"/><circle cx="257.0" cy="387.7" r="2.3"/><circle cx="109.8" cy="338.7" r="2.3"/><circle cx="228.4" cy="368.6" r="2.3"/><circle cx="237.9" cy="384.3" r="2.3"/><circle cx="72.4" cy="319.8" r="2.3"/><circle cx="265.1" cy="404.9" r="2.3"/><circle cx="54.0" cy="318.4" r="2.3"/><circle cx="278.6" cy="423.4" r="2.3"/><circle cx="126.0" cy="370.8" r="2.3"/><circle cx="64.4" cy="317.5" r="2.3"/><circle cx="223.9" cy="387.4" r="2.3"/><circle cx="260.4" cy="397.7" r="2.3"/><circle cx="97.7" cy="318.9" r="2.3"/><circle cx="243.5" cy="394.6" r="2.3"/><circle cx="168.2" cy="364.3" r="2.3"/><circle cx="99.6" cy="343.3" r="2.3"/><circle cx="248.2" cy="383.4" r="2.3"/><circle cx="164.4" cy="354.9" r="2.3"/><circle cx="243.8" cy="381.5" r="2.3"/><circle cx="47.4" cy="326.7" r="2.3"/><circle cx="132.4" cy="363.1" r="2.3"/><circle cx="64.4" cy="322.7" r="2.3"/><circle cx="256.8" cy="379.3" r="2.3"/><circle cx="234.0" cy="374.5" r="2.3"/><circle cx="156.0" cy="355.0" r="2.3"/><circle cx="56.3" cy="327.4" r="2.3"/><circle cx="175.2" cy="353.9" r="2.3"/><circle cx="66.5" cy="335.7" r="2.3"/><circle cx="56.0" cy="322.1" r="2.3"/><circle cx="260.4" cy="398.6" r="2.3"/><circle cx="225.4" cy="387.4" r="2.3"/><circle cx="110.3" cy="315.9" r="2.3"/><circle cx="78.0" cy="337.3" r="2.3"/><circle cx="219.0" cy="365.6" r="2.3"/><circle cx="167.8" cy="376.6" r="2.3"/><circle cx="255.4" cy="394.8" r="2.3"/><circle cx="167.0" cy="356.5" r="2.3"/><circle cx="260.3" cy="406.5" r="2.3"/><circle cx="235.9" cy="369.1" r="2.3"/><circle cx="93.0" cy="356.1" r="2.3"/><circle cx="218.4" cy="361.8" r="2.3"/><circle cx="236.8" cy="372.9" r="2.3"/><circle cx="245.5" cy="389.9" r="2.3"/><circle cx="234.5" cy="383.4" r="2.3"/><circle cx="145.5" cy="342.1" r="2.3"/><circle cx="228.3" cy="387.0" r="2.3"/><circle cx="122.9" cy="346.9" r="2.3"/><circle cx="230.8" cy="400.1" r="2.3"/><circle cx="252.0" cy="374.9" r="2.3"/><circle cx="111.4" cy="360.2" r="2.3"/><circle cx="123.1" cy="349.5" r="2.3"/><circle cx="58.9" cy="327.3" r="2.3"/><circle cx="239.0" cy="385.1" r="2.3"/><circle cx="175.9" cy="363.9" r="2.3"/><circle cx="261.3" cy="391.7" r="2.3"/><circle cx="217.4" cy="378.0" r="2.3"/><circle cx="177.8" cy="366.5" r="2.3"/><circle cx="136.3" cy="352.7" r="2.3"/><circle cx="66.4" cy="337.2" r="2.3"/><circle cx="109.4" cy="334.9" r="2.3"/><circle cx="224.3" cy="370.1" r="2.3"/><circle cx="258.5" cy="390.6" r="2.3"/><circle cx="261.1" cy="408.1" r="2.3"/><circle cx="144.0" cy="360.7" r="2.3"/><circle cx="52.2" cy="310.1" r="2.3"/><circle cx="260.1" cy="384.5" r="2.3"/><circle cx="242.6" cy="372.2" r="2.3"/><circle cx="243.4" cy="391.0" r="2.3"/><circle cx="221.8" cy="361.9" r="2.3"/><circle cx="299.5" cy="424.9" r="2.3"/><circle cx="256.1" cy="387.8" r="2.3"/><circle cx="244.4" cy="397.9" r="2.3"/><circle cx="230.5" cy="368.2" r="2.3"/><circle cx="246.0" cy="395.2" r="2.3"/><circle cx="156.3" cy="367.5" r="2.3"/><circle cx="234.8" cy="390.2" r="2.3"/><circle cx="248.0" cy="390.5" r="2.3"/><circle cx="222.6" cy="378.8" r="2.3"/><circle cx="221.2" cy="369.1" r="2.3"/><circle cx="241.5" cy="396.7" r="2.3"/><circle cx="155.4" cy="363.7" r="2.3"/><circle cx="225.7" cy="363.1" r="2.3"/><circle cx="170.3" cy="363.2" r="2.3"/><circle cx="56.7" cy="288.0" r="2.3"/><circle cx="54.3" cy="312.4" r="2.3"/><circle cx="239.4" cy="370.2" r="2.3"/><circle cx="297.3" cy="426.7" r="2.3"/><circle cx="305.9" cy="425.1" r="2.3"/><circle cx="58.6" cy="334.5" r="2.3"/><circle cx="218.7" cy="374.7" r="2.3"/><circle cx="239.9" cy="380.5" r="2.3"/><circle cx="239.5" cy="388.3" r="2.3"/><circle cx="74.0" cy="318.3" r="2.3"/><circle cx="259.8" cy="401.0" r="2.3"/><circle cx="157.0" cy="364.7" r="2.3"/><circle cx="235.9" cy="382.0" r="2.3"/><circle cx="245.0" cy="400.7" r="2.3"/><circle cx="224.2" cy="395.2" r="2.3"/><circle cx="235.1" cy="369.3" r="2.3"/><circle cx="87.4" cy="331.8" r="2.3"/><circle cx="229.8" cy="374.8" r="2.3"/><circle cx="110.7" cy="339.7" r="2.3"/><circle cx="223.5" cy="377.3" r="2.3"/><circle cx="260.6" cy="394.7" r="2.3"/><circle cx="257.3" cy="390.6" r="2.3"/><circle cx="259.5" cy="384.8" r="2.3"/><circle cx="129.9" cy="341.7" r="2.3"/><circle cx="227.0" cy="388.8" r="2.3"/><circle cx="248.6" cy="400.5" r="2.3"/><circle cx="234.1" cy="362.5" r="2.3"/><circle cx="133.2" cy="348.2" r="2.3"/><circle cx="295.2" cy="425.3" r="2.3"/><circle cx="178.9" cy="370.8" r="2.3"/><circle cx="221.6" cy="385.0" r="2.3"/><circle cx="155.6" cy="369.9" r="2.3"/><circle cx="121.6" cy="344.5" r="2.3"/><circle cx="236.0" cy="372.0" r="2.3"/><circle cx="142.3" cy="345.5" r="2.3"/><circle cx="101.7" cy="353.1" r="2.3"/><circle cx="165.9" cy="350.7" r="2.3"/><circle cx="296.3" cy="425.6" r="2.3"/><circle cx="77.2" cy="324.2" r="2.3"/><circle cx="295.9" cy="425.4" r="2.3"/><circle cx="89.9" cy="327.4" r="2.3"/><circle cx="274.7" cy="421.5" r="2.3"/><circle cx="76.2" cy="312.0" r="2.3"/><circle cx="154.3" cy="355.8" r="2.3"/><circle cx="178.2" cy="369.8" r="2.3"/><circle cx="248.2" cy="391.5" r="2.3"/><circle cx="78.7" cy="322.7" r="2.3"/><circle cx="55.5" cy="327.6" r="2.3"/><circle cx="223.5" cy="386.0" r="2.3"/><circle cx="176.2" cy="360.9" r="2.3"/><circle cx="234.5" cy="388.5" r="2.3"/><circle cx="255.8" cy="381.5" r="2.3"/><circle cx="111.4" cy="351.2" r="2.3"/><circle cx="87.7" cy="314.9" r="2.3"/><circle cx="74.9" cy="312.6" r="2.3"/><circle cx="152.8" cy="343.2" r="2.3"/><circle cx="246.4" cy="398.1" r="2.3"/><circle cx="168.8" cy="369.8" r="2.3"/><circle cx="131.9" cy="338.8" r="2.3"/><circle cx="67.2" cy="317.1" r="2.3"/><circle cx="238.1" cy="364.2" r="2.3"/><circle cx="232.5" cy="371.9" r="2.3"/><circle cx="144.1" cy="358.5" r="2.3"/><circle cx="223.7" cy="368.2" r="2.3"/><circle cx="220.7" cy="378.5" r="2.3"/><circle cx="133.4" cy="343.7" r="2.3"/><circle cx="175.9" cy="368.3" r="2.3"/><circle cx="240.4" cy="388.5" r="2.3"/><circle cx="236.5" cy="392.3" r="2.3"/><circle cx="132.4" cy="357.4" r="2.3"/><circle cx="226.3" cy="373.6" r="2.3"/><circle cx="218.1" cy="380.4" r="2.3"/><circle cx="255.4" cy="380.6" r="2.3"/><circle cx="291.5" cy="425.7" r="2.3"/><circle cx="260.6" cy="407.6" r="2.3"/><circle cx="232.3" cy="379.7" r="2.3"/><circle cx="267.7" cy="417.8" r="2.3"/><circle cx="178.2" cy="370.8" r="2.3"/><circle cx="155.6" cy="371.3" r="2.3"/><circle cx="252.2" cy="392.2" r="2.3"/><circle cx="274.9" cy="423.1" r="2.3"/><circle cx="258.8" cy="402.3" r="2.3"/><circle cx="234.6" cy="383.5" r="2.3"/><circle cx="249.6" cy="379.6" r="2.3"/><circle cx="136.3" cy="355.1" r="2.3"/><circle cx="230.2" cy="383.9" r="2.3"/><circle cx="56.2" cy="315.6" r="2.3"/><circle cx="219.2" cy="385.4" r="2.3"/><circle cx="180.9" cy="367.9" r="2.3"/><circle cx="263.8" cy="404.9" r="2.3"/><circle cx="254.6" cy="388.7" r="2.3"/><circle cx="233.1" cy="361.4" r="2.3"/><circle cx="251.4" cy="399.6" r="2.3"/><circle cx="222.6" cy="394.4" r="2.3"/><circle cx="98.0" cy="314.2" r="2.3"/><circle cx="70.8" cy="299.7" r="2.3"/><circle cx="247.3" cy="398.1" r="2.3"/><circle cx="268.4" cy="408.7" r="2.3"/><circle cx="155.4" cy="362.0" r="2.3"/><circle cx="168.9" cy="374.0" r="2.3"/><circle cx="264.4" cy="407.0" r="2.3"/><circle cx="155.8" cy="344.6" r="2.3"/><circle cx="274.8" cy="426.8" r="2.3"/><circle cx="156.1" cy="359.3" r="2.3"/><circle cx="76.3" cy="326.7" r="2.3"/><circle cx="244.7" cy="370.8" r="2.3"/><circle cx="133.0" cy="367.3" r="2.3"/><circle cx="177.3" cy="360.4" r="2.3"/><circle cx="256.1" cy="383.3" r="2.3"/><circle cx="222.9" cy="376.2" r="2.3"/><circle cx="110.8" cy="336.6" r="2.3"/><circle cx="55.5" cy="314.8" r="2.3"/><circle cx="55.0" cy="334.4" r="2.3"/><circle cx="124.9" cy="362.0" r="2.3"/><circle cx="277.3" cy="425.3" r="2.3"/><circle cx="131.1" cy="340.4" r="2.3"/><circle cx="110.1" cy="336.8" r="2.3"/><circle cx="238.5" cy="396.5" r="2.3"/><circle cx="67.4" cy="334.8" r="2.3"/><circle cx="243.1" cy="395.8" r="2.3"/><circle cx="228.3" cy="360.4" r="2.3"/><circle cx="65.9" cy="309.4" r="2.3"/><circle cx="136.6" cy="375.2" r="2.3"/><circle cx="67.4" cy="323.1" r="2.3"/><circle cx="179.5" cy="366.8" r="2.3"/><circle cx="220.1" cy="378.3" r="2.3"/><circle cx="253.3" cy="387.8" r="2.3"/><circle cx="152.6" cy="348.4" r="2.3"/><circle cx="113.8" cy="351.2" r="2.3"/><circle cx="165.2" cy="362.7" r="2.3"/><circle cx="135.3" cy="360.3" r="2.3"/><circle cx="239.3" cy="394.4" r="2.3"/><circle cx="112.2" cy="348.5" r="2.3"/><circle cx="240.9" cy="366.2" r="2.3"/><circle cx="66.7" cy="291.0" r="2.3"/><circle cx="158.2" cy="371.2" r="2.3"/><circle cx="255.4" cy="391.9" r="2.3"/><circle cx="238.8" cy="390.4" r="2.3"/><circle cx="166.8" cy="369.3" r="2.3"/><circle cx="110.6" cy="336.4" r="2.3"/><circle cx="269.9" cy="419.3" r="2.3"/><circle cx="260.4" cy="396.7" r="2.3"/><circle cx="143.2" cy="374.9" r="2.3"/><circle cx="57.2" cy="331.7" r="2.3"/><circle cx="264.4" cy="401.7" r="2.3"/><circle cx="68.3" cy="328.5" r="2.3"/><circle cx="66.0" cy="312.9" r="2.3"/><circle cx="228.5" cy="380.3" r="2.3"/><circle cx="263.2" cy="407.0" r="2.3"/><circle cx="227.6" cy="380.7" r="2.3"/><circle cx="232.2" cy="391.9" r="2.3"/><circle cx="235.3" cy="382.3" r="2.3"/><circle cx="88.2" cy="320.1" r="2.3"/><circle cx="273.0" cy="424.4" r="2.3"/><circle cx="164.2" cy="367.4" r="2.3"/><circle cx="120.1" cy="348.3" r="2.3"/><circle cx="88.1" cy="313.5" r="2.3"/><circle cx="122.7" cy="350.6" r="2.3"/><circle cx="216.7" cy="363.6" r="2.3"/><circle cx="60.0" cy="296.0" r="2.3"/><circle cx="250.6" cy="380.4" r="2.3"/><circle cx="65.2" cy="334.0" r="2.3"/><circle cx="159.7" cy="369.4" r="2.3"/><circle cx="86.2" cy="309.9" r="2.3"/><circle cx="230.0" cy="377.4" r="2.3"/><circle cx="102.7" cy="342.4" r="2.3"/><circle cx="223.9" cy="384.7" r="2.3"/><circle cx="223.1" cy="363.2" r="2.3"/><circle cx="224.8" cy="378.1" r="2.3"/><circle cx="89.2" cy="352.6" r="2.3"/><circle cx="245.1" cy="377.1" r="2.3"/><circle cx="167.8" cy="358.1" r="2.3"/><circle cx="142.6" cy="346.0" r="2.3"/><circle cx="238.7" cy="376.4" r="2.3"/><circle cx="245.9" cy="372.3" r="2.3"/><circle cx="218.1" cy="384.2" r="2.3"/><circle cx="69.2" cy="343.2" r="2.3"/><circle cx="226.0" cy="388.0" r="2.3"/><circle cx="215.9" cy="364.2" r="2.3"/><circle cx="56.0" cy="310.1" r="2.3"/><circle cx="248.8" cy="392.7" r="2.3"/><circle cx="144.0" cy="361.3" r="2.3"/><circle cx="236.8" cy="399.4" r="2.3"/><circle cx="220.0" cy="385.5" r="2.3"/><circle cx="178.7" cy="379.8" r="2.3"/><circle cx="218.3" cy="365.3" r="2.3"/><circle cx="264.7" cy="410.7" r="2.3"/><circle cx="252.1" cy="385.5" r="2.3"/><circle cx="239.5" cy="391.7" r="2.3"/><circle cx="155.0" cy="365.3" r="2.3"/><circle cx="134.5" cy="350.7" r="2.3"/><circle cx="87.5" cy="316.8" r="2.3"/><circle cx="218.1" cy="387.5" r="2.3"/><circle cx="64.7" cy="325.4" r="2.3"/><circle cx="147.2" cy="374.6" r="2.3"/><circle cx="223.1" cy="390.3" r="2.3"/><circle cx="265.9" cy="401.1" r="2.3"/><circle cx="168.8" cy="372.8" r="2.3"/><circle cx="168.8" cy="379.4" r="2.3"/><circle cx="229.9" cy="373.8" r="2.3"/><circle cx="134.2" cy="356.8" r="2.3"/><circle cx="268.3" cy="420.2" r="2.3"/><circle cx="155.3" cy="353.5" r="2.3"/><circle cx="241.6" cy="374.3" r="2.3"/><circle cx="174.8" cy="372.0" r="2.3"/><circle cx="234.4" cy="386.5" r="2.3"/><circle cx="65.6" cy="311.4" r="2.3"/><circle cx="239.6" cy="394.7" r="2.3"/><circle cx="155.4" cy="357.6" r="2.3"/><circle cx="260.7" cy="394.1" r="2.3"/><circle cx="147.1" cy="365.0" r="2.3"/><circle cx="118.0" cy="329.3" r="2.3"/><circle cx="157.4" cy="363.5" r="2.3"/><circle cx="215.9" cy="374.3" r="2.3"/><circle cx="156.2" cy="357.6" r="2.3"/><circle cx="272.8" cy="421.8" r="2.3"/><circle cx="226.6" cy="390.5" r="2.3"/><circle cx="250.3" cy="377.7" r="2.3"/><circle cx="247.9" cy="384.2" r="2.3"/><circle cx="247.6" cy="399.6" r="2.3"/><circle cx="123.3" cy="337.4" r="2.3"/><circle cx="259.8" cy="394.0" r="2.3"/><circle cx="176.7" cy="355.2" r="2.3"/><circle cx="264.4" cy="405.3" r="2.3"/><circle cx="238.8" cy="392.7" r="2.3"/><circle cx="176.9" cy="365.3" r="2.3"/><circle cx="163.5" cy="348.7" r="2.3"/><circle cx="134.8" cy="356.4" r="2.3"/><circle cx="134.4" cy="338.5" r="2.3"/><circle cx="68.9" cy="329.9" r="2.3"/><circle cx="132.6" cy="358.0" r="2.3"/><circle cx="100.6" cy="356.8" r="2.3"/><circle cx="78.5" cy="341.3" r="2.3"/><circle cx="252.4" cy="373.3" r="2.3"/><circle cx="176.8" cy="360.6" r="2.3"/><circle cx="132.7" cy="341.4" r="2.3"/><circle cx="222.0" cy="394.0" r="2.3"/><circle cx="266.9" cy="416.3" r="2.3"/><circle cx="145.7" cy="357.8" r="2.3"/><circle cx="219.7" cy="384.7" r="2.3"/><circle cx="168.5" cy="377.2" r="2.3"/><circle cx="246.3" cy="383.0" r="2.3"/><circle cx="273.9" cy="422.2" r="2.3"/><circle cx="264.7" cy="404.6" r="2.3"/><circle cx="245.3" cy="395.9" r="2.3"/><circle cx="123.0" cy="338.2" r="2.3"/><circle cx="231.6" cy="366.3" r="2.3"/><circle cx="110.5" cy="352.2" r="2.3"/><circle cx="59.6" cy="329.5" r="2.3"/><circle cx="143.6" cy="344.0" r="2.3"/><circle cx="77.0" cy="337.6" r="2.3"/><circle cx="133.1" cy="352.5" r="2.3"/><circle cx="64.1" cy="315.8" r="2.3"/><circle cx="228.6" cy="381.9" r="2.3"/><circle cx="234.9" cy="371.1" r="2.3"/><circle cx="143.4" cy="361.8" r="2.3"/><circle cx="145.4" cy="358.6" r="2.3"/><circle cx="57.2" cy="341.0" r="2.3"/><circle cx="294.8" cy="425.7" r="2.3"/><circle cx="158.1" cy="368.6" r="2.3"/><circle cx="224.0" cy="384.0" r="2.3"/><circle cx="175.2" cy="373.9" r="2.3"/><circle cx="131.2" cy="351.4" r="2.3"/><circle cx="176.6" cy="365.7" r="2.3"/><circle cx="249.2" cy="386.5" r="2.3"/><circle cx="246.1" cy="391.3" r="2.3"/><circle cx="143.3" cy="352.9" r="2.3"/><circle cx="88.5" cy="343.3" r="2.3"/><circle cx="110.6" cy="317.4" r="2.3"/><circle cx="230.8" cy="375.0" r="2.3"/><circle cx="236.9" cy="386.3" r="2.3"/><circle cx="197.9" cy="366.0" r="2.3"/><circle cx="241.3" cy="374.7" r="2.3"/><circle cx="219.2" cy="375.1" r="2.3"/><circle cx="111.3" cy="325.4" r="2.3"/><circle cx="242.2" cy="388.6" r="2.3"/><circle cx="259.7" cy="409.4" r="2.3"/><circle cx="169.0" cy="366.7" r="2.3"/><circle cx="268.4" cy="410.6" r="2.3"/><circle cx="78.4" cy="332.4" r="2.3"/><circle cx="87.9" cy="326.2" r="2.3"/><circle cx="164.2" cy="363.6" r="2.3"/><circle cx="227.4" cy="373.8" r="2.3"/><circle cx="165.0" cy="354.7" r="2.3"/><circle cx="131.8" cy="347.6" r="2.3"/><circle cx="252.9" cy="404.3" r="2.3"/><circle cx="111.2" cy="330.4" r="2.3"/><circle cx="253.4" cy="377.6" r="2.3"/><circle cx="264.5" cy="402.0" r="2.3"/><circle cx="179.5" cy="373.5" r="2.3"/><circle cx="251.4" cy="393.9" r="2.3"/><circle cx="143.9" cy="365.4" r="2.3"/><circle cx="79.0" cy="331.7" r="2.3"/><circle cx="253.7" cy="396.5" r="2.3"/><circle cx="251.0" cy="382.9" r="2.3"/><circle cx="134.5" cy="359.6" r="2.3"/><circle cx="122.5" cy="343.0" r="2.3"/><circle cx="99.6" cy="325.1" r="2.3"/><circle cx="177.3" cy="379.4" r="2.3"/><circle cx="225.0" cy="394.2" r="2.3"/><circle cx="65.3" cy="329.2" r="2.3"/><circle cx="246.8" cy="383.3" r="2.3"/><circle cx="132.0" cy="344.3" r="2.3"/><circle cx="259.6" cy="404.0" r="2.3"/><circle cx="133.8" cy="362.1" r="2.3"/><circle cx="227.1" cy="393.7" r="2.3"/><circle cx="275.0" cy="422.9" r="2.3"/><circle cx="256.1" cy="403.2" r="2.3"/><circle cx="237.7" cy="386.7" r="2.3"/><circle cx="168.7" cy="373.6" r="2.3"/><circle cx="248.1" cy="380.1" r="2.3"/><circle cx="63.6" cy="308.2" r="2.3"/><circle cx="153.0" cy="343.5" r="2.3"/><circle cx="220.1" cy="365.5" r="2.3"/><circle cx="234.6" cy="387.9" r="2.3"/><circle cx="110.9" cy="341.0" r="2.3"/><circle cx="77.8" cy="342.7" r="2.3"/><circle cx="177.8" cy="358.9" r="2.3"/><circle cx="225.0" cy="391.4" r="2.3"/><circle cx="90.2" cy="339.7" r="2.3"/><circle cx="110.3" cy="338.9" r="2.3"/><circle cx="66.3" cy="330.3" r="2.3"/><circle cx="297.6" cy="425.9" r="2.3"/><circle cx="215.4" cy="374.3" r="2.3"/><circle cx="256.6" cy="388.4" r="2.3"/><circle cx="258.7" cy="387.4" r="2.3"/><circle cx="234.8" cy="369.6" r="2.3"/><circle cx="158.4" cy="376.3" r="2.3"/><circle cx="110.4" cy="329.9" r="2.3"/><circle cx="55.6" cy="323.8" r="2.3"/><circle cx="241.9" cy="398.1" r="2.3"/><circle cx="134.9" cy="361.5" r="2.3"/><circle cx="222.3" cy="365.4" r="2.3"/><circle cx="251.2" cy="392.8" r="2.3"/><circle cx="177.7" cy="374.6" r="2.3"/><circle cx="225.7" cy="389.0" r="2.3"/><circle cx="255.2" cy="392.8" r="2.3"/><circle cx="247.3" cy="389.2" r="2.3"/><circle cx="87.6" cy="313.6" r="2.3"/><circle cx="221.7" cy="377.9" r="2.3"/><circle cx="79.5" cy="328.0" r="2.3"/><circle cx="110.6" cy="333.8" r="2.3"/><circle cx="258.8" cy="397.1" r="2.3"/><circle cx="253.7" cy="400.2" r="2.3"/><circle cx="178.4" cy="372.0" r="2.3"/><circle cx="113.8" cy="350.9" r="2.3"/><circle cx="247.1" cy="396.1" r="2.3"/><circle cx="233.4" cy="371.3" r="2.3"/><circle cx="245.0" cy="383.0" r="2.3"/><circle cx="221.4" cy="386.3" r="2.3"/><circle cx="69.6" cy="327.4" r="2.3"/><circle cx="275.0" cy="425.1" r="2.3"/><circle cx="102.7" cy="331.1" r="2.3"/><circle cx="226.4" cy="369.1" r="2.3"/><circle cx="241.1" cy="385.4" r="2.3"/><circle cx="66.8" cy="328.3" r="2.3"/><circle cx="154.9" cy="349.8" r="2.3"/><circle cx="78.9" cy="324.1" r="2.3"/><circle cx="227.5" cy="399.5" r="2.3"/><circle cx="229.2" cy="363.3" r="2.3"/><circle cx="259.5" cy="383.0" r="2.3"/><circle cx="259.0" cy="392.2" r="2.3"/><circle cx="228.2" cy="368.2" r="2.3"/><circle cx="155.7" cy="372.9" r="2.3"/><circle cx="255.5" cy="384.3" r="2.3"/><circle cx="178.9" cy="361.8" r="2.3"/><circle cx="263.6" cy="397.5" r="2.3"/><circle cx="268.9" cy="417.3" r="2.3"/><circle cx="266.3" cy="408.5" r="2.3"/><circle cx="274.0" cy="424.0" r="2.3"/><circle cx="111.1" cy="350.2" r="2.3"/><circle cx="270.3" cy="347.0" r="2.3"/><circle cx="55.1" cy="310.2" r="2.3"/><circle cx="230.5" cy="389.6" r="2.3"/><circle cx="102.1" cy="337.1" r="2.3"/><circle cx="121.5" cy="345.7" r="2.3"/><circle cx="254.9" cy="376.4" r="2.3"/><circle cx="248.9" cy="378.2" r="2.3"/><circle cx="100.0" cy="332.5" r="2.3"/><circle cx="131.0" cy="346.5" r="2.3"/><circle cx="153.4" cy="346.0" r="2.3"/><circle cx="57.9" cy="331.1" r="2.3"/><circle cx="220.7" cy="387.4" r="2.3"/><circle cx="111.8" cy="336.2" r="2.3"/><circle cx="227.8" cy="370.2" r="2.3"/><circle cx="85.8" cy="327.5" r="2.3"/><circle cx="53.1" cy="317.3" r="2.3"/><circle cx="123.3" cy="336.9" r="2.3"/><circle cx="79.5" cy="330.2" r="2.3"/><circle cx="98.3" cy="337.5" r="2.3"/><circle cx="158.8" cy="370.2" r="2.3"/><circle cx="239.2" cy="397.8" r="2.3"/><circle cx="164.8" cy="365.7" r="2.3"/><circle cx="229.9" cy="382.7" r="2.3"/><circle cx="222.6" cy="379.9" r="2.3"/><circle cx="90.4" cy="342.0" r="2.3"/><circle cx="132.3" cy="339.4" r="2.3"/><circle cx="124.3" cy="357.1" r="2.3"/><circle cx="77.6" cy="331.2" r="2.3"/><circle cx="176.1" cy="365.0" r="2.3"/><circle cx="101.1" cy="340.8" r="2.3"/><circle cx="133.3" cy="360.9" r="2.3"/><circle cx="101.2" cy="316.7" r="2.3"/><circle cx="132.3" cy="334.3" r="2.3"/><circle cx="177.8" cy="342.0" r="2.3"/><circle cx="293.8" cy="425.3" r="2.3"/><circle cx="224.5" cy="365.0" r="2.3"/><circle cx="123.0" cy="347.2" r="2.3"/><circle cx="248.4" cy="388.4" r="2.3"/><circle cx="142.5" cy="367.8" r="2.3"/><circle cx="292.0" cy="424.0" r="2.3"/><circle cx="88.3" cy="317.0" r="2.3"/><circle cx="295.4" cy="425.9" r="2.3"/><circle cx="245.3" cy="372.6" r="2.3"/><circle cx="259.9" cy="405.5" r="2.3"/><circle cx="239.2" cy="378.7" r="2.3"/><circle cx="179.9" cy="369.5" r="2.3"/><circle cx="145.9" cy="340.6" r="2.3"/><circle cx="232.5" cy="387.0" r="2.3"/><circle cx="241.5" cy="377.4" r="2.3"/><circle cx="217.8" cy="381.0" r="2.3"/><circle cx="143.8" cy="356.8" r="2.3"/><circle cx="229.6" cy="376.4" r="2.3"/><circle cx="120.3" cy="346.1" r="2.3"/><circle cx="267.5" cy="409.6" r="2.3"/><circle cx="232.5" cy="368.1" r="2.3"/><circle cx="132.9" cy="349.2" r="2.3"/><circle cx="103.1" cy="355.7" r="2.3"/><circle cx="74.3" cy="323.6" r="2.3"/><circle cx="259.9" cy="394.9" r="2.3"/><circle cx="248.9" cy="387.5" r="2.3"/><circle cx="253.8" cy="388.1" r="2.3"/><circle cx="53.6" cy="316.1" r="2.3"/><circle cx="123.8" cy="356.3" r="2.3"/><circle cx="237.6" cy="383.7" r="2.3"/><circle cx="229.5" cy="380.3" r="2.3"/><circle cx="235.7" cy="385.2" r="2.3"/><circle cx="161.5" cy="360.6" r="2.3"/><circle cx="53.2" cy="319.9" r="2.3"/><circle cx="224.7" cy="386.7" r="2.3"/><circle cx="99.2" cy="326.7" r="2.3"/><circle cx="121.9" cy="342.7" r="2.3"/><circle cx="66.0" cy="320.9" r="2.3"/><circle cx="224.6" cy="391.8" r="2.3"/><circle cx="89.2" cy="319.7" r="2.3"/><circle cx="224.9" cy="381.0" r="2.3"/><circle cx="66.6" cy="336.8" r="2.3"/><circle cx="254.6" cy="390.2" r="2.3"/><circle cx="261.3" cy="397.3" r="2.3"/><circle cx="49.6" cy="305.3" r="2.3"/><circle cx="254.0" cy="398.2" r="2.3"/><circle cx="156.1" cy="359.3" r="2.3"/><circle cx="225.8" cy="362.4" r="2.3"/><circle cx="253.4" cy="390.2" r="2.3"/><circle cx="122.4" cy="342.7" r="2.3"/><circle cx="224.6" cy="383.9" r="2.3"/><circle cx="158.3" cy="374.1" r="2.3"/><circle cx="218.6" cy="370.0" r="2.3"/><circle cx="227.7" cy="382.4" r="2.3"/><circle cx="230.6" cy="382.1" r="2.3"/><circle cx="250.1" cy="377.2" r="2.3"/><circle cx="231.9" cy="379.2" r="2.3"/><circle cx="219.4" cy="381.4" r="2.3"/><circle cx="272.8" cy="420.7" r="2.3"/><circle cx="157.1" cy="375.0" r="2.3"/><circle cx="294.2" cy="424.3" r="2.3"/><circle cx="123.0" cy="344.4" r="2.3"/><circle cx="165.7" cy="372.5" r="2.3"/><circle cx="248.6" cy="378.8" r="2.3"/><circle cx="256.8" cy="389.0" r="2.3"/><circle cx="85.6" cy="315.9" r="2.3"/><circle cx="245.7" cy="368.6" r="2.3"/><circle cx="223.8" cy="373.3" r="2.3"/><circle cx="97.3" cy="324.8" r="2.3"/><circle cx="224.3" cy="375.9" r="2.3"/><circle cx="234.9" cy="369.4" r="2.3"/><circle cx="226.1" cy="370.8" r="2.3"/><circle cx="218.3" cy="385.6" r="2.3"/><circle cx="178.0" cy="368.5" r="2.3"/><circle cx="218.5" cy="385.1" r="2.3"/><circle cx="133.5" cy="333.4" r="2.3"/><circle cx="233.6" cy="390.0" r="2.3"/><circle cx="242.1" cy="385.3" r="2.3"/><circle cx="235.7" cy="372.7" r="2.3"/><circle cx="239.5" cy="400.9" r="2.3"/><circle cx="256.2" cy="394.1" r="2.3"/><circle cx="92.6" cy="341.4" r="2.3"/><circle cx="78.1" cy="325.1" r="2.3"/><circle cx="224.1" cy="368.1" r="2.3"/><circle cx="253.9" cy="396.2" r="2.3"/><circle cx="164.7" cy="354.8" r="2.3"/><circle cx="245.0" cy="385.7" r="2.3"/><circle cx="216.1" cy="369.3" r="2.3"/><circle cx="239.2" cy="386.9" r="2.3"/><circle cx="47.8" cy="290.0" r="2.3"/><circle cx="167.1" cy="363.3" r="2.3"/><circle cx="58.1" cy="334.5" r="2.3"/><circle cx="219.1" cy="368.3" r="2.3"/><circle cx="257.5" cy="389.2" r="2.3"/><circle cx="142.7" cy="351.3" r="2.3"/><circle cx="132.4" cy="346.9" r="2.3"/><circle cx="218.1" cy="390.1" r="2.3"/><circle cx="89.9" cy="323.4" r="2.3"/><circle cx="239.1" cy="396.1" r="2.3"/><circle cx="156.5" cy="349.0" r="2.3"/><circle cx="261.5" cy="403.4" r="2.3"/><circle cx="55.6" cy="329.4" r="2.3"/><circle cx="164.8" cy="370.9" r="2.3"/><circle cx="254.2" cy="389.1" r="2.3"/><circle cx="65.3" cy="307.1" r="2.3"/><circle cx="77.6" cy="328.7" r="2.3"/><circle cx="65.4" cy="309.5" r="2.3"/><circle cx="247.5" cy="378.5" r="2.3"/><circle cx="98.4" cy="311.2" r="2.3"/><circle cx="250.9" cy="393.0" r="2.3"/><circle cx="237.7" cy="372.5" r="2.3"/><circle cx="222.3" cy="387.1" r="2.3"/><circle cx="67.9" cy="326.4" r="2.3"/><circle cx="234.1" cy="378.1" r="2.3"/><circle cx="130.4" cy="354.1" r="2.3"/><circle cx="165.8" cy="363.2" r="2.3"/><circle cx="253.4" cy="386.0" r="2.3"/><circle cx="156.2" cy="348.3" r="2.3"/><circle cx="259.7" cy="407.4" r="2.3"/><circle cx="90.6" cy="320.3" r="2.3"/><circle cx="218.1" cy="384.7" r="2.3"/><circle cx="120.0" cy="346.0" r="2.3"/><circle cx="86.8" cy="292.0" r="2.3"/><circle cx="123.0" cy="358.8" r="2.3"/><circle cx="55.9" cy="327.9" r="2.3"/><circle cx="174.4" cy="352.9" r="2.3"/><circle cx="254.4" cy="381.3" r="2.3"/><circle cx="261.5" cy="397.2" r="2.3"/><circle cx="100.9" cy="336.3" r="2.3"/><circle cx="122.4" cy="327.0" r="2.3"/><circle cx="153.5" cy="362.7" r="2.3"/><circle cx="98.3" cy="330.1" r="2.3"/><circle cx="221.5" cy="375.6" r="2.3"/><circle cx="75.4" cy="312.5" r="2.3"/><circle cx="76.1" cy="324.4" r="2.3"/><circle cx="253.8" cy="381.3" r="2.3"/><circle cx="133.5" cy="341.9" r="2.3"/><circle cx="216.2" cy="373.3" r="2.3"/><circle cx="250.5" cy="392.8" r="2.3"/><circle cx="228.4" cy="372.4" r="2.3"/><circle cx="238.7" cy="380.8" r="2.3"/><circle cx="122.6" cy="347.4" r="2.3"/><circle cx="219.0" cy="390.9" r="2.3"/><circle cx="217.1" cy="378.8" r="2.3"/><circle cx="285.9" cy="425.0" r="2.3"/><circle cx="133.9" cy="342.9" r="2.3"/><circle cx="250.4" cy="371.6" r="2.3"/><circle cx="233.6" cy="395.9" r="2.3"/><circle cx="78.3" cy="340.4" r="2.3"/><circle cx="230.9" cy="363.2" r="2.3"/></g>
<path d="M93.3 236.3L136.0 282.8L191.5 324.0L220.4 341.9L249.2 363.4" stroke="#5050ff" stroke-width="0.8" fill="none" opacity="0.75"/>
<g class="b"><circle cx="216.1" cy="354.8" r="2.3"/><circle cx="259.9" cy="387.5" r="2.3"/><circle cx="181.6" cy="318.7" r="2.3"/><circle cx="184.7" cy="322.5" r="2.3"/><circle cx="280.2" cy="423.2" r="2.3"/><circle cx="194.9" cy="305.7" r="2.3"/><circle cx="225.4" cy="331.7" r="2.3"/><circle cx="158.7" cy="295.2" r="2.3"/><circle cx="249.2" cy="348.7" r="2.3"/><circle cx="225.7" cy="353.6" r="2.3"/><circle cx="179.0" cy="295.0" r="2.3"/><circle cx="290.6" cy="426.8" r="2.3"/><circle cx="147.0" cy="301.5" r="2.3"/><circle cx="233.4" cy="365.3" r="2.3"/><circle cx="132.7" cy="288.4" r="2.3"/><circle cx="251.0" cy="367.2" r="2.3"/><circle cx="246.0" cy="366.8" r="2.3"/><circle cx="166.1" cy="316.5" r="2.3"/><circle cx="232.2" cy="367.7" r="2.3"/><circle cx="193.2" cy="317.1" r="2.3"/><circle cx="181.0" cy="321.3" r="2.3"/><circle cx="135.2" cy="296.2" r="2.3"/><circle cx="156.3" cy="319.8" r="2.3"/><circle cx="218.7" cy="359.0" r="2.3"/><circle cx="270.4" cy="393.7" r="2.3"/><circle cx="217.6" cy="356.8" r="2.3"/><circle cx="131.8" cy="292.7" r="2.3"/><circle cx="249.5" cy="373.5" r="2.3"/><circle cx="274.7" cy="411.2" r="2.3"/><circle cx="121.4" cy="258.7" r="2.3"/><circle cx="294.0" cy="422.5" r="2.3"/><circle cx="230.5" cy="361.9" r="2.3"/><circle cx="262.6" cy="400.1" r="2.3"/><circle cx="221.6" cy="345.0" r="2.3"/><circle cx="121.3" cy="259.8" r="2.3"/><circle cx="219.9" cy="362.4" r="2.3"/><circle cx="258.5" cy="394.7" r="2.3"/><circle cx="224.3" cy="357.9" r="2.3"/><circle cx="199.9" cy="312.2" r="2.3"/><circle cx="144.8" cy="265.9" r="2.3"/><circle cx="268.0" cy="393.2" r="2.3"/><circle cx="214.5" cy="355.3" r="2.3"/><circle cx="220.5" cy="340.1" r="2.3"/><circle cx="144.4" cy="302.9" r="2.3"/><circle cx="169.9" cy="325.7" r="2.3"/><circle cx="220.5" cy="344.0" r="2.3"/><circle cx="222.3" cy="329.1" r="2.3"/><circle cx="252.8" cy="379.0" r="2.3"/><circle cx="123.6" cy="260.7" r="2.3"/><circle cx="243.3" cy="378.8" r="2.3"/><circle cx="263.2" cy="399.6" r="2.3"/><circle cx="276.7" cy="421.0" r="2.3"/><circle cx="121.9" cy="290.8" r="2.3"/><circle cx="277.8" cy="424.6" r="2.3"/><circle cx="166.7" cy="297.1" r="2.3"/><circle cx="165.9" cy="302.5" r="2.3"/><circle cx="268.9" cy="385.5" r="2.3"/><circle cx="222.1" cy="342.9" r="2.3"/><circle cx="259.3" cy="371.8" r="2.3"/><circle cx="298.2" cy="417.8" r="2.3"/><circle cx="215.2" cy="345.3" r="2.3"/><circle cx="259.2" cy="358.4" r="2.3"/><circle cx="196.0" cy="337.8" r="2.3"/><circle cx="293.6" cy="426.3" r="2.3"/><circle cx="181.5" cy="334.9" r="2.3"/><circle cx="158.2" cy="307.5" r="2.3"/><circle cx="267.7" cy="388.5" r="2.3"/><circle cx="163.0" cy="313.1" r="2.3"/><circle cx="107.3" cy="261.2" r="2.3"/><circle cx="196.1" cy="339.0" r="2.3"/><circle cx="169.2" cy="321.6" r="2.3"/><circle cx="209.5" cy="338.3" r="2.3"/><circle cx="131.6" cy="274.4" r="2.3"/><circle cx="167.4" cy="320.0" r="2.3"/><circle cx="223.6" cy="358.7" r="2.3"/><circle cx="219.7" cy="355.0" r="2.3"/><circle cx="97.6" cy="253.0" r="2.3"/><circle cx="155.8" cy="286.4" r="2.3"/><circle cx="237.4" cy="347.1" r="2.3"/><circle cx="119.4" cy="256.1" r="2.3"/><circle cx="230.8" cy="350.6" r="2.3"/><circle cx="270.1" cy="396.9" r="2.3"/><circle cx="184.0" cy="311.0" r="2.3"/><circle cx="184.2" cy="345.1" r="2.3"/><circle cx="191.7" cy="314.1" r="2.3"/><circle cx="226.7" cy="347.6" r="2.3"/><circle cx="108.4" cy="263.2" r="2.3"/><circle cx="231.1" cy="342.8" r="2.3"/><circle cx="187.9" cy="303.1" r="2.3"/><circle cx="221.5" cy="320.8" r="2.3"/><circle cx="244.3" cy="378.8" r="2.3"/><circle cx="131.4" cy="262.8" r="2.3"/><circle cx="215.5" cy="344.3" r="2.3"/><circle cx="234.5" cy="358.7" r="2.3"/><circle cx="236.4" cy="350.7" r="2.3"/><circle cx="220.1" cy="346.1" r="2.3"/><circle cx="257.6" cy="379.5" r="2.3"/><circle cx="259.9" cy="363.6" r="2.3"/><circle cx="110.0" cy="270.1" r="2.3"/><circle cx="257.0" cy="394.2" r="2.3"/><circle cx="122.2" cy="269.9" r="2.3"/><circle cx="238.0" cy="354.4" r="2.3"/><circle cx="159.6" cy="312.5" r="2.3"/><circle cx="133.5" cy="258.8" r="2.3"/><circle cx="157.8" cy="284.9" r="2.3"/><circle cx="247.5" cy="376.0" r="2.3"/><circle cx="121.4" cy="277.6" r="2.3"/><circle cx="280.2" cy="426.2" r="2.3"/><circle cx="159.3" cy="307.3" r="2.3"/><circle cx="256.5" cy="376.8" r="2.3"/><circle cx="193.8" cy="325.1" r="2.3"/><circle cx="106.4" cy="259.7" r="2.3"/><circle cx="176.0" cy="302.8" r="2.3"/><circle cx="158.1" cy="313.2" r="2.3"/><circle cx="192.0" cy="298.9" r="2.3"/><circle cx="291.9" cy="425.6" r="2.3"/><circle cx="128.5" cy="267.6" r="2.3"/><circle cx="265.8" cy="384.2" r="2.3"/><circle cx="277.7" cy="408.7" r="2.3"/><circle cx="205.5" cy="319.4" r="2.3"/><circle cx="221.1" cy="334.3" r="2.3"/><circle cx="249.5" cy="367.0" r="2.3"/><circle cx="180.0" cy="300.4" r="2.3"/><circle cx="172.0" cy="302.1" r="2.3"/><circle cx="156.9" cy="294.9" r="2.3"/><circle cx="239.8" cy="365.2" r="2.3"/><circle cx="157.7" cy="308.1" r="2.3"/><circle cx="233.7" cy="368.1" r="2.3"/><circle cx="157.8" cy="308.2" r="2.3"/><circle cx="269.5" cy="405.3" r="2.3"/><circle cx="168.1" cy="285.5" r="2.3"/><circle cx="122.9" cy="283.9" r="2.3"/><circle cx="219.8" cy="362.5" r="2.3"/><circle cx="132.2" cy="275.8" r="2.3"/><circle cx="256.7" cy="380.0" r="2.3"/><circle cx="144.8" cy="307.6" r="2.3"/><circle cx="181.9" cy="314.9" r="2.3"/><circle cx="257.7" cy="382.2" r="2.3"/><circle cx="205.3" cy="339.5" r="2.3"/><circle cx="135.0" cy="276.5" r="2.3"/><circle cx="257.4" cy="377.2" r="2.3"/><circle cx="145.1" cy="289.2" r="2.3"/><circle cx="195.6" cy="308.2" r="2.3"/><circle cx="179.7" cy="311.1" r="2.3"/><circle cx="274.3" cy="414.5" r="2.3"/><circle cx="278.4" cy="421.3" r="2.3"/><circle cx="228.0" cy="364.8" r="2.3"/><circle cx="255.5" cy="372.6" r="2.3"/><circle cx="223.5" cy="353.5" r="2.3"/><circle cx="219.5" cy="329.2" r="2.3"/><circle cx="192.0" cy="343.2" r="2.3"/><circle cx="163.1" cy="315.2" r="2.3"/><circle cx="173.7" cy="323.6" r="2.3"/><circle cx="221.2" cy="330.9" r="2.3"/><circle cx="270.3" cy="390.0" r="2.3"/><circle cx="253.4" cy="366.5" r="2.3"/><circle cx="133.1" cy="259.4" r="2.3"/><circle cx="261.4" cy="382.3" r="2.3"/><circle cx="260.7" cy="370.8" r="2.3"/><circle cx="157.1" cy="280.0" r="2.3"/><circle cx="196.3" cy="332.8" r="2.3"/><circle cx="259.9" cy="375.3" r="2.3"/><circle cx="228.4" cy="362.4" r="2.3"/><circle cx="175.1" cy="322.1" r="2.3"/><circle cx="232.1" cy="364.2" r="2.3"/><circle cx="183.5" cy="297.4" r="2.3"/><circle cx="138.3" cy="282.2" r="2.3"/><circle cx="160.6" cy="315.1" r="2.3"/><circle cx="227.8" cy="337.7" r="2.3"/><circle cx="241.0" cy="369.4" r="2.3"/><circle cx="209.2" cy="344.3" r="2.3"/><circle cx="194.0" cy="331.7" r="2.3"/><circle cx="194.1" cy="331.7" r="2.3"/><circle cx="157.7" cy="316.6" r="2.3"/><circle cx="182.3" cy="293.9" r="2.3"/><circle cx="231.3" cy="369.1" r="2.3"/><circle cx="147.5" cy="274.8" r="2.3"/><circle cx="273.5" cy="416.9" r="2.3"/><circle cx="228.6" cy="330.1" r="2.3"/><circle cx="268.3" cy="405.3" r="2.3"/><circle cx="193.0" cy="309.5" r="2.3"/><circle cx="144.3" cy="283.4" r="2.3"/><circle cx="287.3" cy="420.7" r="2.3"/><circle cx="170.7" cy="321.3" r="2.3"/><circle cx="195.4" cy="318.8" r="2.3"/><circle cx="123.4" cy="273.5" r="2.3"/><circle cx="303.3" cy="419.1" r="2.3"/><circle cx="256.8" cy="366.3" r="2.3"/><circle cx="291.6" cy="425.1" r="2.3"/><circle cx="229.4" cy="347.4" r="2.3"/><circle cx="225.8" cy="326.9" r="2.3"/><circle cx="251.9" cy="359.7" r="2.3"/><circle cx="226.2" cy="341.3" r="2.3"/><circle cx="266.1" cy="400.8" r="2.3"/><circle cx="290.7" cy="419.1" r="2.3"/><circle cx="255.1" cy="384.9" r="2.3"/><circle cx="167.5" cy="325.3" r="2.3"/><circle cx="259.6" cy="383.2" r="2.3"/><circle cx="112.6" cy="271.1" r="2.3"/><circle cx="261.3" cy="381.9" r="2.3"/><circle cx="258.9" cy="397.6" r="2.3"/><circle cx="123.2" cy="279.0" r="2.3"/><circle cx="130.6" cy="257.9" r="2.3"/><circle cx="251.5" cy="370.8" r="2.3"/><circle cx="208.0" cy="315.7" r="2.3"/><circle cx="218.4" cy="325.4" r="2.3"/><circle cx="287.0" cy="423.2" r="2.3"/><circle cx="277.5" cy="414.4" r="2.3"/><circle cx="232.5" cy="361.9" r="2.3"/><circle cx="132.6" cy="257.5" r="2.3"/><circle cx="259.2" cy="359.2" r="2.3"/><circle cx="229.4" cy="350.5" r="2.3"/><circle cx="287.4" cy="420.1" r="2.3"/><circle cx="184.6" cy="335.0" r="2.3"/><circle cx="250.5" cy="373.9" r="2.3"/><circle cx="243.8" cy="378.2" r="2.3"/><circle cx="216.3" cy="336.5" r="2.3"/><circle cx="192.2" cy="324.7" r="2.3"/><circle cx="238.1" cy="363.4" r="2.3"/><circle cx="277.5" cy="416.6" r="2.3"/><circle cx="256.4" cy="355.2" r="2.3"/><circle cx="132.7" cy="270.3" r="2.3"/><circle cx="117.3" cy="253.1" r="2.3"/><circle cx="224.4" cy="349.3" r="2.3"/><circle cx="240.6" cy="342.9" r="2.3"/><circle cx="173.0" cy="291.0" r="2.3"/><circle cx="125.2" cy="252.0" r="2.3"/><circle cx="250.4" cy="354.7" r="2.3"/><circle cx="249.0" cy="370.3" r="2.3"/><circle cx="86.0" cy="265.0" r="2.3"/><circle cx="154.4" cy="297.6" r="2.3"/><circle cx="191.0" cy="342.0" r="2.3"/><circle cx="216.2" cy="333.8" r="2.3"/><circle cx="300.8" cy="417.6" r="2.3"/><circle cx="224.6" cy="363.6" r="2.3"/><circle cx="219.2" cy="319.7" r="2.3"/><circle cx="146.5" cy="274.4" r="2.3"/><circle cx="105.9" cy="250.1" r="2.3"/><circle cx="145.5" cy="307.6" r="2.3"/><circle cx="193.0" cy="311.0" r="2.3"/><circle cx="137.0" cy="300.9" r="2.3"/><circle cx="109.9" cy="259.4" r="2.3"/><circle cx="223.9" cy="349.0" r="2.3"/><circle cx="135.4" cy="279.0" r="2.3"/><circle cx="147.1" cy="289.0" r="2.3"/><circle cx="246.7" cy="369.1" r="2.3"/><circle cx="227.4" cy="334.8" r="2.3"/><circle cx="161.5" cy="325.7" r="2.3"/><circle cx="111.0" cy="260.3" r="2.3"/><circle cx="271.3" cy="396.8" r="2.3"/><circle cx="258.6" cy="380.4" r="2.3"/><circle cx="258.2" cy="355.0" r="2.3"/><circle cx="242.0" cy="379.5" r="2.3"/><circle cx="254.0" cy="357.9" r="2.3"/><circle cx="218.9" cy="337.3" r="2.3"/><circle cx="287.7" cy="423.1" r="2.3"/><circle cx="245.9" cy="349.8" r="2.3"/><circle cx="210.3" cy="340.9" r="2.3"/><circle cx="266.1" cy="378.4" r="2.3"/><circle cx="206.2" cy="306.9" r="2.3"/><circle cx="271.1" cy="411.5" r="2.3"/><circle cx="214.7" cy="346.8" r="2.3"/><circle cx="280.9" cy="421.2" r="2.3"/><circle cx="216.1" cy="320.3" r="2.3"/><circle cx="141.9" cy="293.0" r="2.3"/><circle cx="157.6" cy="279.4" r="2.3"/><circle cx="217.0" cy="352.8" r="2.3"/><circle cx="208.6" cy="345.5" r="2.3"/><circle cx="120.8" cy="256.8" r="2.3"/><circle cx="160.9" cy="299.5" r="2.3"/><circle cx="283.0" cy="413.7" r="2.3"/><circle cx="206.7" cy="329.0" r="2.3"/><circle cx="261.1" cy="390.8" r="2.3"/><circle cx="158.2" cy="324.5" r="2.3"/><circle cx="246.7" cy="365.6" r="2.3"/><circle cx="302.9" cy="424.6" r="2.3"/><circle cx="286.1" cy="420.8" r="2.3"/><circle cx="222.7" cy="354.7" r="2.3"/><circle cx="190.9" cy="326.1" r="2.3"/><circle cx="169.9" cy="326.4" r="2.3"/><circle cx="218.2" cy="332.9" r="2.3"/><circle cx="145.8" cy="287.0" r="2.3"/><circle cx="267.2" cy="403.6" r="2.3"/><circle cx="289.2" cy="426.4" r="2.3"/><circle cx="142.3" cy="262.3" r="2.3"/><circle cx="132.4" cy="262.5" r="2.3"/><circle cx="110.3" cy="277.3" r="2.3"/><circle cx="157.6" cy="283.3" r="2.3"/><circle cx="194.9" cy="310.6" r="2.3"/><circle cx="260.0" cy="397.9" r="2.3"/><circle cx="246.0" cy="351.9" r="2.3"/><circle cx="267.2" cy="380.5" r="2.3"/><circle cx="131.5" cy="294.9" r="2.3"/><circle cx="234.8" cy="359.5" r="2.3"/><circle cx="256.6" cy="371.8" r="2.3"/><circle cx="220.9" cy="342.0" r="2.3"/><circle cx="160.0" cy="306.6" r="2.3"/><circle cx="204.8" cy="322.4" r="2.3"/><circle cx="243.1" cy="362.4" r="2.3"/><circle cx="215.5" cy="340.3" r="2.3"/><circle cx="231.8" cy="329.1" r="2.3"/><circle cx="146.9" cy="284.7" r="2.3"/><circle cx="296.9" cy="422.3" r="2.3"/><circle cx="224.0" cy="347.5" r="2.3"/><circle cx="168.2" cy="288.1" r="2.3"/><circle cx="180.9" cy="330.4" r="2.3"/><circle cx="159.9" cy="311.6" r="2.3"/><circle cx="123.6" cy="277.2" r="2.3"/><circle cx="273.9" cy="412.2" r="2.3"/><circle cx="218.2" cy="352.8" r="2.3"/><circle cx="242.1" cy="363.0" r="2.3"/><circle cx="236.9" cy="374.2" r="2.3"/><circle cx="158.2" cy="299.3" r="2.3"/><circle cx="191.4" cy="314.9" r="2.3"/><circle cx="217.4" cy="349.7" r="2.3"/><circle cx="250.1" cy="366.3" r="2.3"/><circle cx="296.9" cy="423.3" r="2.3"/><circle cx="140.7" cy="273.5" r="2.3"/><circle cx="97.7" cy="252.2" r="2.3"/><circle cx="304.3" cy="426.9" r="2.3"/><circle cx="236.6" cy="357.3" r="2.3"/><circle cx="123.4" cy="284.5" r="2.3"/><circle cx="290.3" cy="427.1" r="2.3"/><circle cx="217.1" cy="328.1" r="2.3"/><circle cx="283.2" cy="419.8" r="2.3"/><circle cx="109.9" cy="251.4" r="2.3"/><circle cx="205.5" cy="325.2" r="2.3"/><circle cx="247.3" cy="361.6" r="2.3"/><circle cx="216.9" cy="332.9" r="2.3"/><circle cx="144.1" cy="267.8" r="2.3"/><circle cx="183.0" cy="317.8" r="2.3"/><circle cx="143.4" cy="277.2" r="2.3"/><circle cx="213.8" cy="320.3" r="2.3"/><circle cx="249.9" cy="380.1" r="2.3"/><circle cx="244.2" cy="341.3" r="2.3"/><circle cx="191.4" cy="304.1" r="2.3"/><circle cx="131.7" cy="275.0" r="2.3"/><circle cx="135.5" cy="297.1" r="2.3"/><circle cx="161.9" cy="326.6" r="2.3"/><circle cx="222.8" cy="334.7" r="2.3"/><circle cx="184.2" cy="340.0" r="2.3"/><circle cx="264.4" cy="400.2" r="2.3"/><circle cx="274.0" cy="415.5" r="2.3"/><circle cx="133.4" cy="266.0" r="2.3"/><circle cx="218.3" cy="323.3" r="2.3"/><circle cx="218.6" cy="345.5" r="2.3"/><circle cx="239.8" cy="373.7" r="2.3"/><circle cx="227.2" cy="355.6" r="2.3"/><circle cx="239.8" cy="381.7" r="2.3"/><circle cx="259.9" cy="380.1" r="2.3"/><circle cx="229.6" cy="343.1" r="2.3"/><circle cx="231.8" cy="332.9" r="2.3"/><circle cx="274.9" cy="412.9" r="2.3"/><circle cx="247.5" cy="347.5" r="2.3"/><circle cx="272.6" cy="396.5" r="2.3"/><circle cx="299.5" cy="422.8" r="2.3"/><circle cx="272.5" cy="405.6" r="2.3"/><circle cx="291.3" cy="422.4" r="2.3"/><circle cx="152.7" cy="304.9" r="2.3"/><circle cx="214.2" cy="341.3" r="2.3"/><circle cx="221.8" cy="335.8" r="2.3"/><circle cx="217.3" cy="341.6" r="2.3"/><circle cx="258.3" cy="357.9" r="2.3"/><circle cx="123.1" cy="268.5" r="2.3"/><circle cx="218.6" cy="354.1" r="2.3"/><circle cx="125.9" cy="268.7" r="2.3"/><circle cx="122.7" cy="287.0" r="2.3"/><circle cx="267.5" cy="405.6" r="2.3"/><circle cx="217.0" cy="328.6" r="2.3"/><circle cx="193.2" cy="302.7" r="2.3"/><circle cx="109.9" cy="250.2" r="2.3"/><circle cx="109.6" cy="255.4" r="2.3"/><circle cx="132.5" cy="268.2" r="2.3"/><circle cx="265.1" cy="398.8" r="2.3"/><circle cx="146.8" cy="288.0" r="2.3"/><circle cx="217.3" cy="335.0" r="2.3"/><circle cx="299.1" cy="426.0" r="2.3"/><circle cx="152.4" cy="297.5" r="2.3"/><circle cx="273.8" cy="409.6" r="2.3"/><circle cx="220.4" cy="349.4" r="2.3"/><circle cx="283.9" cy="426.2" r="2.3"/><circle cx="241.0" cy="373.9" r="2.3"/><circle cx="157.8" cy="301.4" r="2.3"/><circle cx="123.4" cy="259.7" r="2.3"/><circle cx="237.0" cy="376.4" r="2.3"/><circle cx="220.4" cy="336.5" r="2.3"/><circle cx="258.0" cy="394.5" r="2.3"/><circle cx="254.8" cy="382.9" r="2.3"/><circle cx="252.7" cy="351.0" r="2.3"/><circle cx="273.4" cy="412.6" r="2.3"/><circle cx="201.1" cy="312.1" r="2.3"/><circle cx="192.0" cy="325.5" r="2.3"/><circle cx="241.9" cy="354.5" r="2.3"/><circle cx="301.8" cy="418.8" r="2.3"/><circle cx="261.6" cy="371.1" r="2.3"/><circle cx="167.4" cy="301.6" r="2.3"/><circle cx="217.6" cy="358.6" r="2.3"/><circle cx="277.0" cy="420.5" r="2.3"/><circle cx="108.2" cy="253.0" r="2.3"/><circle cx="183.1" cy="331.3" r="2.3"/><circle cx="180.8" cy="323.4" r="2.3"/><circle cx="306.7" cy="425.4" r="2.3"/><circle cx="277.0" cy="413.4" r="2.3"/><circle cx="266.5" cy="378.2" r="2.3"/><circle cx="141.8" cy="278.1" r="2.3"/><circle cx="222.6" cy="327.9" r="2.3"/><circle cx="267.3" cy="396.4" r="2.3"/><circle cx="168.5" cy="285.7" r="2.3"/><circle cx="242.8" cy="361.0" r="2.3"/><circle cx="246.8" cy="361.4" r="2.3"/><circle cx="267.3" cy="408.8" r="2.3"/><circle cx="232.1" cy="365.0" r="2.3"/><circle cx="184.0" cy="325.1" r="2.3"/><circle cx="156.1" cy="295.5" r="2.3"/><circle cx="201.8" cy="323.6" r="2.3"/><circle cx="242.3" cy="362.8" r="2.3"/><circle cx="96.8" cy="258.5" r="2.3"/><circle cx="118.4" cy="261.0" r="2.3"/><circle cx="263.0" cy="386.0" r="2.3"/><circle cx="178.0" cy="320.0" r="2.3"/><circle cx="193.2" cy="322.0" r="2.3"/><circle cx="98.8" cy="257.0" r="2.3"/><circle cx="222.3" cy="364.2" r="2.3"/><circle cx="303.7" cy="417.2" r="2.3"/><circle cx="257.7" cy="377.3" r="2.3"/><circle cx="243.3" cy="334.7" r="2.3"/><circle cx="207.7" cy="351.3" r="2.3"/><circle cx="272.7" cy="404.4" r="2.3"/><circle cx="168.1" cy="292.9" r="2.3"/><circle cx="219.8" cy="346.3" r="2.3"/><circle cx="120.4" cy="249.7" r="2.3"/><circle cx="182.9" cy="293.5" r="2.3"/><circle cx="256.1" cy="356.6" r="2.3"/><circle cx="168.2" cy="320.3" r="2.3"/><circle cx="241.5" cy="357.6" r="2.3"/><circle cx="206.4" cy="335.3" r="2.3"/><circle cx="261.7" cy="400.5" r="2.3"/><circle cx="231.4" cy="364.2" r="2.3"/><circle cx="213.7" cy="340.1" r="2.3"/><circle cx="271.8" cy="408.8" r="2.3"/><circle cx="266.2" cy="389.9" r="2.3"/><circle cx="240.1" cy="358.3" r="2.3"/><circle cx="254.1" cy="363.4" r="2.3"/><circle cx="250.2" cy="388.6" r="2.3"/><circle cx="206.9" cy="358.3" r="2.3"/><circle cx="266.2" cy="407.6" r="2.3"/><circle cx="306.4" cy="427.4" r="2.3"/><circle cx="116.7" cy="256.4" r="2.3"/><circle cx="250.4" cy="362.6" r="2.3"/><circle cx="241.8" cy="348.1" r="2.3"/><circle cx="246.9" cy="368.9" r="2.3"/><circle cx="254.7" cy="355.4" r="2.3"/><circle cx="266.7" cy="386.8" r="2.3"/><circle cx="190.3" cy="308.5" r="2.3"/><circle cx="204.1" cy="313.9" r="2.3"/><circle cx="183.9" cy="325.2" r="2.3"/><circle cx="276.6" cy="412.6" r="2.3"/><circle cx="136.0" cy="253.0" r="2.3"/><circle cx="219.4" cy="348.7" r="2.3"/><circle cx="243.6" cy="345.3" r="2.3"/><circle cx="241.1" cy="337.6" r="2.3"/><circle cx="252.5" cy="394.0" r="2.3"/><circle cx="220.6" cy="346.8" r="2.3"/><circle cx="230.3" cy="362.6" r="2.3"/><circle cx="296.5" cy="424.3" r="2.3"/><circle cx="261.5" cy="376.8" r="2.3"/><circle cx="171.6" cy="322.4" r="2.3"/><circle cx="275.1" cy="417.7" r="2.3"/><circle cx="282.8" cy="426.0" r="2.3"/><circle cx="146.5" cy="290.4" r="2.3"/><circle cx="243.2" cy="384.8" r="2.3"/><circle cx="142.8" cy="275.9" r="2.3"/><circle cx="257.5" cy="356.7" r="2.3"/><circle cx="277.2" cy="422.0" r="2.3"/><circle cx="257.0" cy="374.9" r="2.3"/><circle cx="287.3" cy="425.0" r="2.3"/><circle cx="246.3" cy="359.7" r="2.3"/><circle cx="226.9" cy="329.0" r="2.3"/><circle cx="178.3" cy="310.4" r="2.3"/><circle cx="183.9" cy="298.3" r="2.3"/><circle cx="262.6" cy="388.5" r="2.3"/><circle cx="244.4" cy="348.9" r="2.3"/><circle cx="249.1" cy="356.6" r="2.3"/><circle cx="231.1" cy="349.7" r="2.3"/><circle cx="263.1" cy="377.5" r="2.3"/><circle cx="134.8" cy="291.0" r="2.3"/><circle cx="218.5" cy="349.8" r="2.3"/><circle cx="123.3" cy="269.0" r="2.3"/><circle cx="131.8" cy="261.2" r="2.3"/><circle cx="280.1" cy="422.4" r="2.3"/><circle cx="278.9" cy="416.4" r="2.3"/><circle cx="224.9" cy="357.0" r="2.3"/><circle cx="232.4" cy="353.2" r="2.3"/><circle cx="251.7" cy="375.7" r="2.3"/><circle cx="274.8" cy="410.0" r="2.3"/><circle cx="137.3" cy="282.9" r="2.3"/><circle cx="206.2" cy="359.1" r="2.3"/><circle cx="281.7" cy="415.4" r="2.3"/><circle cx="112.4" cy="257.0" r="2.3"/><circle cx="118.8" cy="251.6" r="2.3"/><circle cx="261.1" cy="373.9" r="2.3"/><circle cx="225.4" cy="366.5" r="2.3"/><circle cx="244.6" cy="339.3" r="2.3"/><circle cx="205.3" cy="330.4" r="2.3"/><circle cx="223.0" cy="344.7" r="2.3"/><circle cx="216.9" cy="323.7" r="2.3"/><circle cx="240.7" cy="382.5" r="2.3"/><circle cx="166.9" cy="327.7" r="2.3"/><circle cx="97.7" cy="248.0" r="2.3"/><circle cx="173.1" cy="297.5" r="2.3"/><circle cx="228.2" cy="333.7" r="2.3"/><circle cx="171.2" cy="289.4" r="2.3"/><circle cx="221.1" cy="333.5" r="2.3"/><circle cx="222.5" cy="335.1" r="2.3"/><circle cx="247.5" cy="388.0" r="2.3"/><circle cx="242.7" cy="363.7" r="2.3"/><circle cx="184.1" cy="311.6" r="2.3"/><circle cx="246.6" cy="368.6" r="2.3"/><circle cx="244.5" cy="358.7" r="2.3"/><circle cx="258.1" cy="364.7" r="2.3"/><circle cx="180.0" cy="313.9" r="2.3"/><circle cx="132.4" cy="248.3" r="2.3"/><circle cx="110.0" cy="264.9" r="2.3"/><circle cx="246.0" cy="364.2" r="2.3"/><circle cx="76.0" cy="250.7" r="2.3"/><circle cx="236.4" cy="368.4" r="2.3"/><circle cx="116.7" cy="264.5" r="2.3"/><circle cx="227.4" cy="334.1" r="2.3"/><circle cx="261.0" cy="364.6" r="2.3"/><circle cx="142.6" cy="284.8" r="2.3"/><circle cx="218.5" cy="332.8" r="2.3"/><circle cx="143.6" cy="277.1" r="2.3"/><circle cx="221.7" cy="334.0" r="2.3"/><circle cx="227.1" cy="337.9" r="2.3"/><circle cx="220.7" cy="346.9" r="2.3"/><circle cx="153.4" cy="295.5" r="2.3"/><circle cx="220.7" cy="345.0" r="2.3"/><circle cx="260.9" cy="391.8" r="2.3"/><circle cx="238.2" cy="382.7" r="2.3"/><circle cx="171.4" cy="316.3" r="2.3"/><circle cx="251.3" cy="354.1" r="2.3"/><circle cx="214.7" cy="344.6" r="2.3"/><circle cx="203.7" cy="343.7" r="2.3"/><circle cx="220.7" cy="354.2" r="2.3"/><circle cx="169.8" cy="328.0" r="2.3"/><circle cx="161.9" cy="284.4" r="2.3"/><circle cx="218.8" cy="341.6" r="2.3"/><circle cx="238.6" cy="366.7" r="2.3"/><circle cx="294.3" cy="421.3" r="2.3"/><circle cx="215.6" cy="324.2" r="2.3"/><circle cx="118.8" cy="264.3" r="2.3"/><circle cx="258.7" cy="361.7" r="2.3"/><circle cx="95.6" cy="260.1" r="2.3"/><circle cx="213.9" cy="348.6" r="2.3"/><circle cx="154.4" cy="269.5" r="2.3"/><circle cx="230.1" cy="359.7" r="2.3"/><circle cx="123.6" cy="255.8" r="2.3"/><circle cx="206.7" cy="309.3" r="2.3"/><circle cx="261.5" cy="382.2" r="2.3"/><circle cx="203.3" cy="325.3" r="2.3"/><circle cx="182.4" cy="320.6" r="2.3"/><circle cx="226.4" cy="353.6" r="2.3"/><circle cx="277.3" cy="422.5" r="2.3"/><circle cx="240.4" cy="364.2" r="2.3"/><circle cx="257.8" cy="387.8" r="2.3"/><circle cx="181.8" cy="325.7" r="2.3"/><circle cx="145.9" cy="279.7" r="2.3"/><circle cx="257.4" cy="369.6" r="2.3"/><circle cx="135.5" cy="303.8" r="2.3"/><circle cx="235.9" cy="377.3" r="2.3"/><circle cx="262.5" cy="397.9" r="2.3"/><circle cx="122.3" cy="280.1" r="2.3"/><circle cx="264.6" cy="397.7" r="2.3"/><circle cx="160.1" cy="280.4" r="2.3"/><circle cx="219.2" cy="341.5" r="2.3"/><circle cx="145.6" cy="273.8" r="2.3"/><circle cx="97.0" cy="255.0" r="2.3"/><circle cx="229.0" cy="360.3" r="2.3"/><circle cx="264.8" cy="393.0" r="2.3"/><circle cx="222.2" cy="361.5" r="2.3"/><circle cx="180.9" cy="314.4" r="2.3"/><circle cx="258.9" cy="370.8" r="2.3"/><circle cx="266.5" cy="385.4" r="2.3"/><circle cx="251.3" cy="360.5" r="2.3"/><circle cx="215.5" cy="355.8" r="2.3"/><circle cx="270.3" cy="391.5" r="2.3"/><circle cx="255.4" cy="366.6" r="2.3"/><circle cx="168.9" cy="297.1" r="2.3"/><circle cx="293.3" cy="426.6" r="2.3"/><circle cx="257.0" cy="379.5" r="2.3"/><circle cx="256.7" cy="364.5" r="2.3"/><circle cx="216.1" cy="330.9" r="2.3"/><circle cx="214.6" cy="328.3" r="2.3"/><circle cx="260.4" cy="389.9" r="2.3"/><circle cx="263.8" cy="386.1" r="2.3"/><circle cx="214.8" cy="329.1" r="2.3"/><circle cx="193.5" cy="339.0" r="2.3"/><circle cx="225.3" cy="326.0" r="2.3"/><circle cx="266.0" cy="385.7" r="2.3"/><circle cx="192.4" cy="324.7" r="2.3"/><circle cx="291.8" cy="421.8" r="2.3"/><circle cx="219.2" cy="349.5" r="2.3"/><circle cx="217.7" cy="328.0" r="2.3"/><circle cx="233.0" cy="328.5" r="2.3"/><circle cx="299.0" cy="426.8" r="2.3"/><circle cx="254.1" cy="382.7" r="2.3"/><circle cx="247.0" cy="349.0" r="2.3"/><circle cx="197.9" cy="324.5" r="2.3"/><circle cx="250.7" cy="362.5" r="2.3"/><circle cx="273.1" cy="414.8" r="2.3"/><circle cx="275.2" cy="412.4" r="2.3"/><circle cx="238.6" cy="343.4" r="2.3"/><circle cx="156.0" cy="279.3" r="2.3"/><circle cx="272.9" cy="400.6" r="2.3"/><circle cx="233.5" cy="368.8" r="2.3"/><circle cx="225.2" cy="333.3" r="2.3"/><circle cx="258.4" cy="365.4" r="2.3"/><circle cx="251.1" cy="368.9" r="2.3"/><circle cx="180.5" cy="335.0" r="2.3"/><circle cx="207.0" cy="327.5" r="2.3"/><circle cx="242.0" cy="350.3" r="2.3"/><circle cx="263.2" cy="384.6" r="2.3"/><circle cx="181.0" cy="328.3" r="2.3"/><circle cx="203.3" cy="323.0" r="2.3"/><circle cx="189.6" cy="298.5" r="2.3"/><circle cx="118.6" cy="272.3" r="2.3"/><circle cx="254.5" cy="383.3" r="2.3"/><circle cx="222.4" cy="332.6" r="2.3"/><circle cx="218.2" cy="332.6" r="2.3"/><circle cx="226.9" cy="365.8" r="2.3"/><circle cx="261.6" cy="369.1" r="2.3"/><circle cx="226.2" cy="336.0" r="2.3"/></g>
<g class="r"><circle cx="306.3" cy="428.3" r="2.3"/><circle cx="273.4" cy="427.5" r="2.3"/><circle cx="294.4" cy="427.1" r="2.3"/></g>
<g class="b"><circle cx="277.6" cy="426.1" r="2.3"/><circle cx="277.5" cy="427.7" r="2.3"/><circle cx="291.0" cy="425.5" r="2.3"/><circle cx="283.8" cy="426.5" r="2.3"/><circle cx="283.5" cy="425.2" r="2.3"/><circle cx="298.3" cy="426.4" r="2.3"/><circle cx="303.0" cy="428.2" r="2.3"/><circle cx="298.6" cy="428.0" r="2.3"/><circle cx="283.7" cy="426.4" r="2.3"/><circle cx="282.0" cy="427.2" r="2.3"/><circle cx="279.7" cy="426.0" r="2.3"/><circle cx="274.0" cy="426.0" r="2.3"/><circle cx="302.1" cy="425.9" r="2.3"/><circle cx="283.8" cy="425.8" r="2.3"/><circle cx="298.7" cy="425.9" r="2.3"/><circle cx="292.4" cy="428.1" r="2.3"/><circle cx="287.3" cy="425.6" r="2.3"/><circle cx="300.3" cy="427.3" r="2.3"/><circle cx="291.0" cy="428.0" r="2.3"/></g>
</g>
<path d="M47.10 248.70H307.40" stroke="#b4b4b4" stroke-width="1.5" fill="none"/>
<path d="M306.50 248.80V427.80" stroke="#858585" stroke-width="1" fill="none"/>
<path d="M47.10 248.80v3.60M52.88 248.80v1.90M58.65 248.80v1.90M64.43 248.80v1.90M70.20 248.80v1.90M75.98 248.80v1.90M81.75 248.80v1.90M87.52 248.80v1.90M93.30 248.80v1.90M99.07 248.80v1.90M104.85 248.80v3.60M110.62 248.80v1.90M116.40 248.80v1.90M122.18 248.80v1.90M127.95 248.80v1.90M133.73 248.80v1.90M139.50 248.80v1.90M145.28 248.80v1.90M151.05 248.80v1.90M156.83 248.80v1.90M162.60 248.80v3.60M168.37 248.80v1.90M174.15 248.80v1.90M179.92 248.80v1.90M185.70 248.80v1.90M191.47 248.80v1.90M197.25 248.80v1.90M203.03 248.80v1.90M208.80 248.80v1.90M214.57 248.80v1.90M220.35 248.80v3.60M226.12 248.80v1.90M231.90 248.80v1.90M237.67 248.80v1.90M243.45 248.80v1.90M249.22 248.80v1.90M255.00 248.80v1.90M260.78 248.80v1.90M266.55 248.80v1.90M272.33 248.80v1.90M278.10 248.80v3.60M283.88 248.80v1.90M289.65 248.80v1.90M295.43 248.80v1.90M301.20 248.80v1.90M306.98 248.80v1.90M306.90 427.80h-5.20M306.90 418.85h-2.70M306.90 409.90h-2.70M306.90 400.95h-2.70M306.90 392.00h-5.20M306.90 383.05h-2.70M306.90 374.10h-2.70M306.90 365.15h-2.70M306.90 356.20h-5.20M306.90 347.25h-2.70M306.90 338.30h-2.70M306.90 329.35h-2.70M306.90 320.40h-5.20M306.90 311.45h-2.70M306.90 302.50h-2.70M306.90 293.55h-2.70M306.90 284.60h-5.20M306.90 275.65h-2.70M306.90 266.70h-2.70M306.90 257.75h-2.70M306.90 248.80h-5.20" stroke="#666" stroke-width="1" fill="none"/>
<path d="M47.10 427.80v-3.60M52.88 427.80v-1.90M58.65 427.80v-1.90M64.43 427.80v-1.90M70.20 427.80v-1.90M75.98 427.80v-1.90M81.75 427.80v-1.90M87.52 427.80v-1.90M93.30 427.80v-1.90M99.07 427.80v-1.90M104.85 427.80v-3.60M110.62 427.80v-1.90M116.40 427.80v-1.90M122.18 427.80v-1.90M127.95 427.80v-1.90M133.73 427.80v-1.90M139.50 427.80v-1.90M145.28 427.80v-1.90M151.05 427.80v-1.90M156.83 427.80v-1.90M162.60 427.80v-3.60M168.37 427.80v-1.90M174.15 427.80v-1.90M179.92 427.80v-1.90M185.70 427.80v-1.90M191.47 427.80v-1.90M197.25 427.80v-1.90M203.03 427.80v-1.90M208.80 427.80v-1.90M214.57 427.80v-1.90M220.35 427.80v-3.60M226.12 427.80v-1.90M231.90 427.80v-1.90M237.67 427.80v-1.90M243.45 427.80v-1.90M249.22 427.80v-1.90M255.00 427.80v-1.90M260.78 427.80v-1.90M266.55 427.80v-1.90M272.33 427.80v-1.90M278.10 427.80v-3.60M283.88 427.80v-1.90M289.65 427.80v-1.90M295.43 427.80v-1.90M301.20 427.80v-1.90M306.98 427.80v-1.90M47.10 427.80h5.20M47.10 418.85h2.70M47.10 409.90h2.70M47.10 400.95h2.70M47.10 392.00h5.20M47.10 383.05h2.70M47.10 374.10h2.70M47.10 365.15h2.70M47.10 356.20h5.20M47.10 347.25h2.70M47.10 338.30h2.70M47.10 329.35h2.70M47.10 320.40h5.20M47.10 311.45h2.70M47.10 302.50h2.70M47.10 293.55h2.70M47.10 284.60h5.20M47.10 275.65h2.70M47.10 266.70h2.70M47.10 257.75h2.70M47.10 248.80h5.20" stroke="#4a4a4a" stroke-width="1" fill="none"/>
<path d="M47.10 248.80V427.80H306.90" stroke="#4a4a4a" stroke-width="1.3" fill="none"/>
<text class="tk" x="46.8" y="447.9" text-anchor="middle" textLength="21" lengthAdjust="spacingAndGlyphs">0.6</text>
<text class="tk" x="104.5" y="447.9" text-anchor="middle" textLength="21" lengthAdjust="spacingAndGlyphs">0.7</text>
<text class="tk" x="162.3" y="447.9" text-anchor="middle" textLength="21" lengthAdjust="spacingAndGlyphs">0.8</text>
<text class="tk" x="220.1" y="447.9" text-anchor="middle" textLength="21" lengthAdjust="spacingAndGlyphs">0.9</text>
<text class="tk" x="277.8" y="447.9" text-anchor="middle" textLength="21" lengthAdjust="spacingAndGlyphs">1.0</text>
<text class="tk" x="42.1" y="257.8" text-anchor="end" textLength="15.5" lengthAdjust="spacingAndGlyphs">10</text>
<text class="tk" x="42.1" y="290.2" text-anchor="end">8</text>
<text class="tk" x="42.1" y="325.6" text-anchor="end">6</text>
<text class="tk" x="42.1" y="361.3" text-anchor="end">4</text>
<text class="tk" x="42.1" y="397.0" text-anchor="end">2</text>
<text class="tk" x="42.1" y="428.2" text-anchor="end">0</text>
<text class="tk" x="166.3" y="465.2" style="font-style:italic;font-size:13.5px">ρ</text>
<text class="tk" x="174.8" y="467.9" style="font-size:8.6px" textLength="11.8" lengthAdjust="spacing">pol</text>
<g transform="translate(12.8 338.7) rotate(-90)"><text class="tk" x="-27.6" y="0.0" style="font-size:13.5px" textLength="7.4" lengthAdjust="spacingAndGlyphs">P</text><text class="tk" x="-19.6" y="3.5" style="font-size:9.5px" textLength="4.5" lengthAdjust="spacingAndGlyphs">e</text><text class="tk" x="-9.3" y="0.0" style="font-size:13.5px">(</text><text class="tk" x="-1.3" y="0.0" style="font-size:13.5px" textLength="21.8" lengthAdjust="spacingAndGlyphs">kPa</text><text class="tk" x="21.0" y="0.0" style="font-size:13.5px">)</text></g>
<text class="bd" x="205.9" y="279" style="font-size:23.5px" textLength="78.5" lengthAdjust="spacingAndGlyphs">Pressure</text>
<text class="bd bl lt" x="245.5" y="320.9" textLength="13.7" lengthAdjust="spacingAndGlyphs">D</text>
<text class="bd rd lt" x="104.7" y="397.6" textLength="14.4" lengthAdjust="spacingAndGlyphs">H</text>
</svg></body></html>
